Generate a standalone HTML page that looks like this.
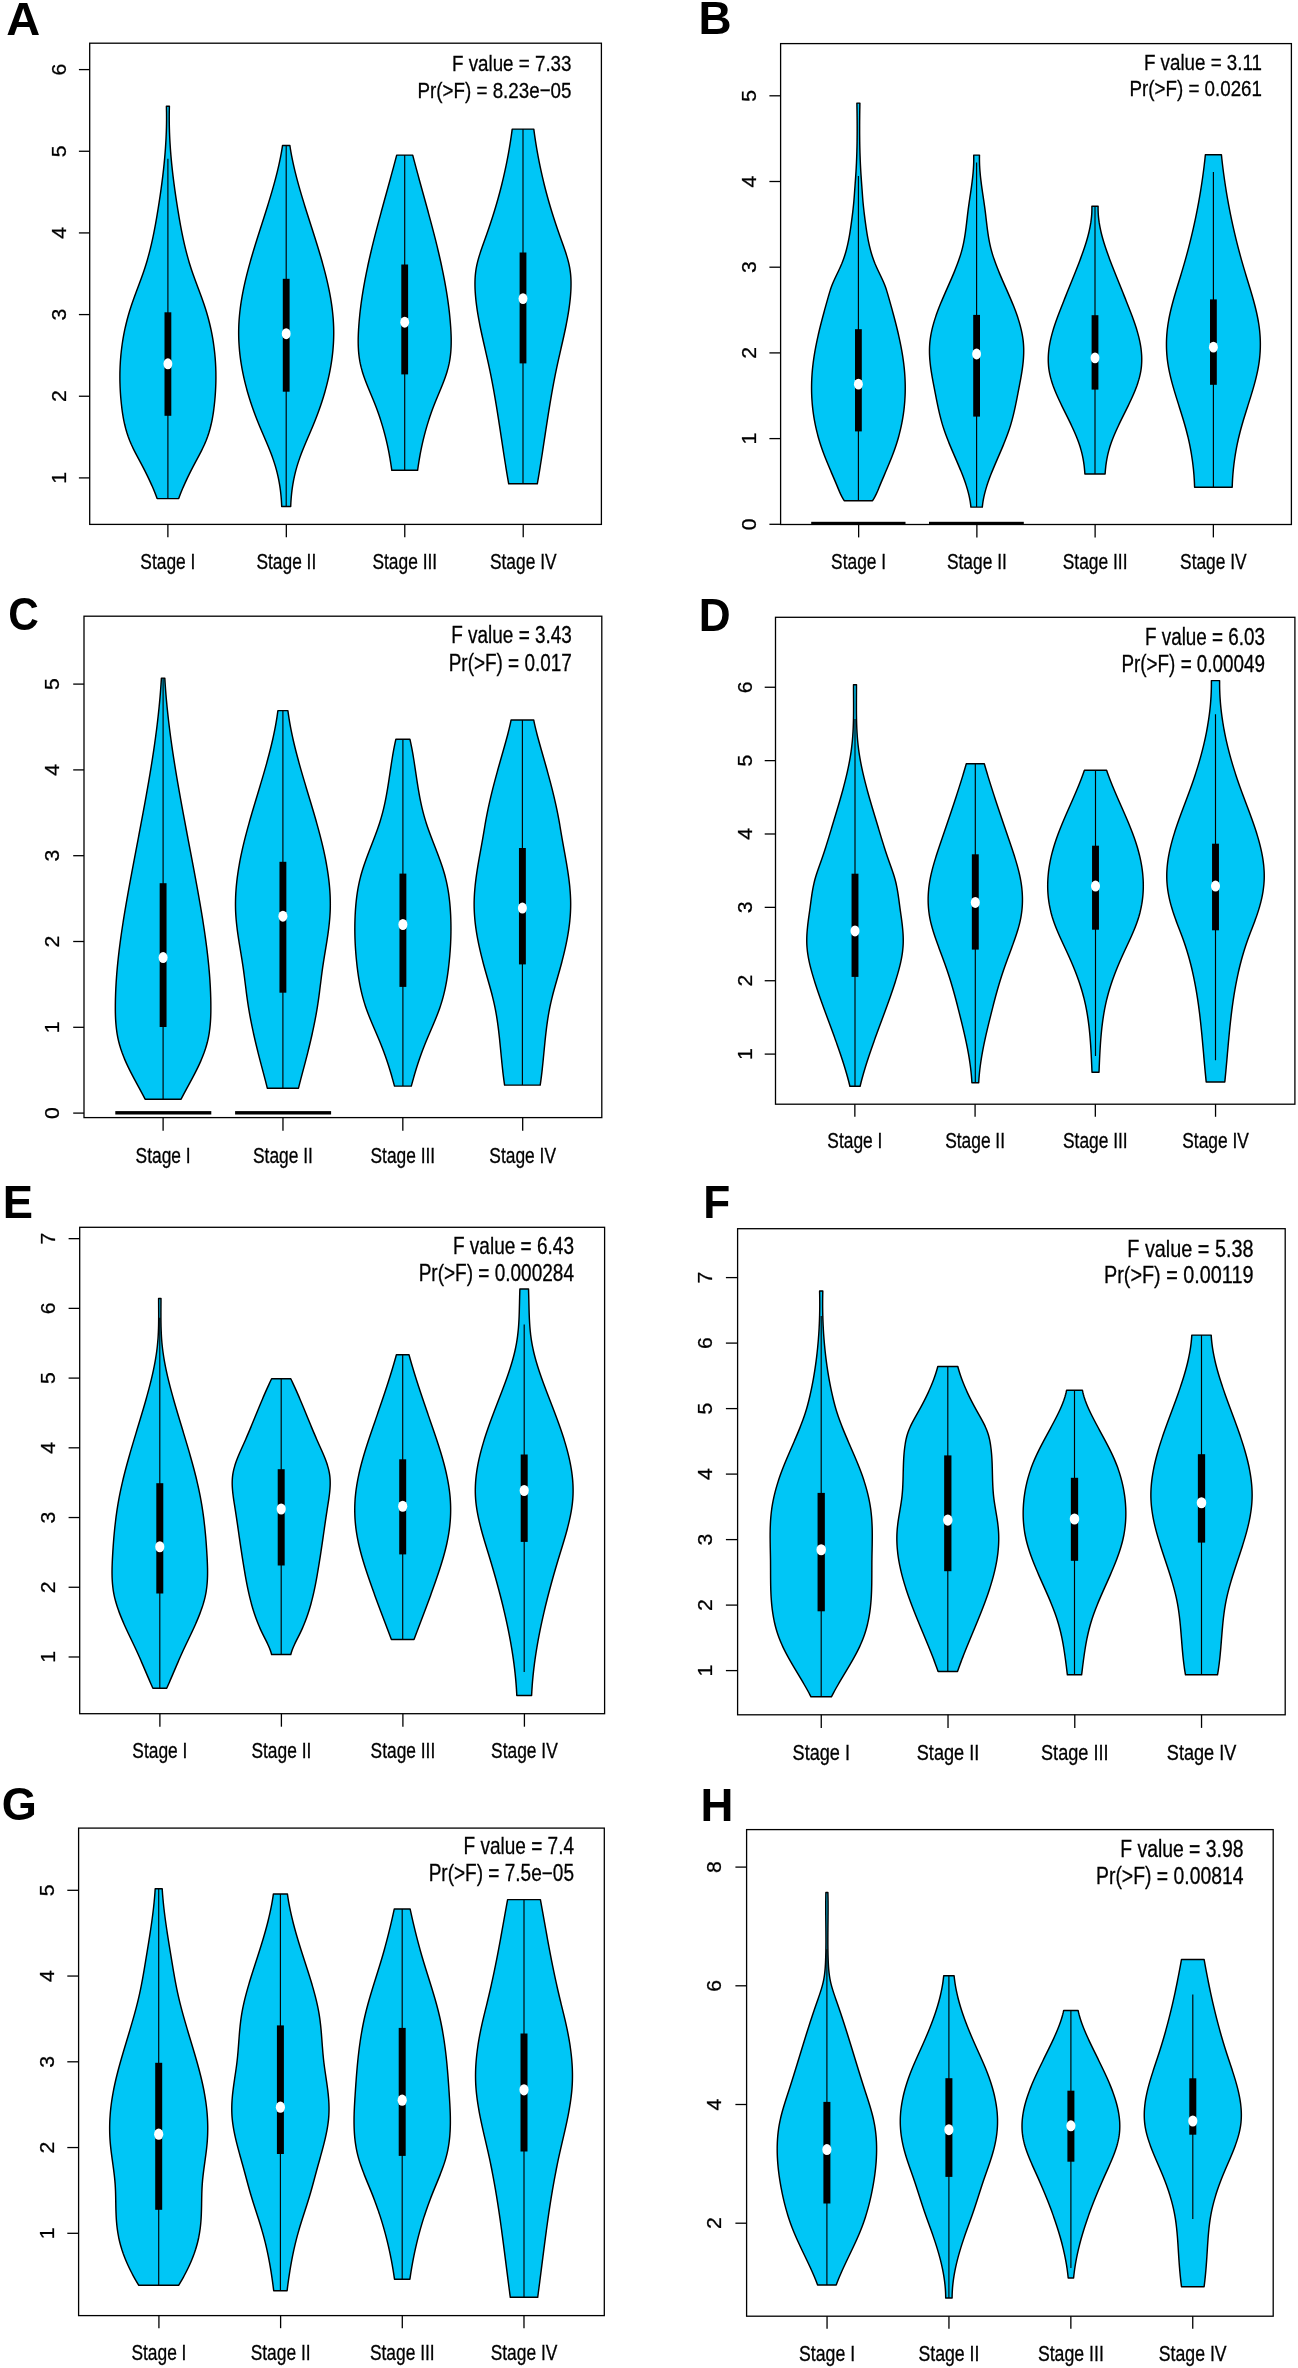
<!DOCTYPE html>
<html><head><meta charset="utf-8"><title>Violin plots</title>
<style>
html,body{margin:0;padding:0;background:#fff;}
body{width:1298px;height:2368px;overflow:hidden;}
svg{display:block;will-change:transform;}
text{font-family:"Liberation Sans", sans-serif;fill:#000;stroke:#000;stroke-width:0.3px;}
</style></head><body>
<svg width="1298" height="2368" viewBox="0 0 1298 2368" font-family='"Liberation Sans", sans-serif'>
<g id="pA">
<path d="M166.40,106.30 L169.40,106.30 L169.35,108.30 L169.31,110.30 L169.27,112.30 L169.25,114.31 L169.24,116.31 L169.24,118.31 L169.24,120.31 L169.26,122.31 L169.29,124.31 L169.33,126.32 L169.38,128.32 L169.44,130.32 L169.50,132.32 L169.58,134.32 L169.67,136.32 L169.76,138.32 L169.86,140.33 L169.98,142.33 L170.10,144.33 L170.23,146.33 L170.36,148.33 L170.51,150.33 L170.66,152.34 L170.82,154.34 L170.99,156.34 L171.17,158.34 L171.35,160.34 L171.54,162.34 L171.74,164.34 L171.95,166.35 L172.16,168.35 L172.38,170.35 L172.60,172.35 L172.84,174.35 L173.07,176.35 L173.32,178.36 L173.57,180.36 L173.83,182.36 L174.09,184.36 L174.36,186.36 L174.63,188.36 L174.91,190.36 L175.19,192.37 L175.48,194.37 L175.77,196.37 L176.07,198.37 L176.37,200.37 L176.68,202.37 L176.99,204.38 L177.31,206.38 L177.62,208.38 L177.95,210.38 L178.28,212.38 L178.61,214.38 L178.94,216.38 L179.28,218.39 L179.63,220.39 L179.98,222.39 L180.34,224.39 L180.71,226.39 L181.09,228.39 L181.47,230.39 L181.87,232.40 L182.27,234.40 L182.68,236.40 L183.10,238.40 L183.54,240.40 L183.99,242.40 L184.44,244.41 L184.92,246.41 L185.40,248.41 L185.90,250.41 L186.41,252.41 L186.94,254.41 L187.49,256.41 L188.04,258.42 L188.62,260.42 L189.21,262.42 L189.83,264.42 L190.46,266.42 L191.10,268.42 L191.77,270.43 L192.45,272.43 L193.15,274.43 L193.87,276.43 L194.59,278.43 L195.32,280.43 L196.06,282.43 L196.81,284.44 L197.55,286.44 L198.30,288.44 L199.05,290.44 L199.79,292.44 L200.53,294.44 L201.27,296.45 L201.99,298.45 L202.70,300.45 L203.40,302.45 L204.09,304.45 L204.75,306.45 L205.40,308.45 L206.03,310.46 L206.64,312.46 L207.22,314.46 L207.79,316.46 L208.34,318.46 L208.86,320.46 L209.37,322.47 L209.85,324.47 L210.32,326.47 L210.77,328.47 L211.20,330.47 L211.60,332.47 L211.99,334.47 L212.36,336.48 L212.71,338.48 L213.04,340.48 L213.36,342.48 L213.65,344.48 L213.93,346.48 L214.18,348.49 L214.42,350.49 L214.64,352.49 L214.85,354.49 L215.03,356.49 L215.20,358.49 L215.35,360.49 L215.48,362.50 L215.59,364.50 L215.69,366.50 L215.77,368.50 L215.83,370.50 L215.88,372.50 L215.90,374.51 L215.91,376.51 L215.91,378.51 L215.89,380.51 L215.85,382.51 L215.79,384.51 L215.72,386.51 L215.63,388.52 L215.53,390.52 L215.41,392.52 L215.28,394.52 L215.13,396.52 L214.96,398.52 L214.78,400.53 L214.58,402.53 L214.37,404.53 L214.14,406.53 L213.90,408.53 L213.63,410.53 L213.35,412.53 L213.04,414.54 L212.71,416.54 L212.36,418.54 L211.97,420.54 L211.55,422.54 L211.11,424.54 L210.62,426.54 L210.11,428.55 L209.55,430.55 L208.96,432.55 L208.32,434.55 L207.64,436.55 L206.91,438.55 L206.14,440.56 L205.31,442.56 L204.44,444.56 L203.51,446.56 L202.55,448.56 L201.55,450.56 L200.52,452.56 L199.47,454.57 L198.41,456.57 L197.34,458.57 L196.26,460.57 L195.19,462.57 L194.13,464.57 L193.08,466.58 L192.05,468.58 L191.02,470.58 L190.02,472.58 L189.03,474.58 L188.05,476.58 L187.10,478.58 L186.16,480.59 L185.24,482.59 L184.34,484.59 L183.46,486.59 L182.61,488.59 L181.78,490.59 L180.97,492.60 L180.19,494.60 L179.43,496.60 L178.70,498.60 L157.10,498.60 L156.37,496.60 L155.61,494.60 L154.83,492.60 L154.02,490.59 L153.19,488.59 L152.34,486.59 L151.46,484.59 L150.56,482.59 L149.64,480.59 L148.70,478.58 L147.75,476.58 L146.77,474.58 L145.78,472.58 L144.78,470.58 L143.75,468.58 L142.72,466.58 L141.67,464.57 L140.61,462.57 L139.54,460.57 L138.46,458.57 L137.39,456.57 L136.33,454.57 L135.28,452.56 L134.25,450.56 L133.25,448.56 L132.29,446.56 L131.36,444.56 L130.49,442.56 L129.66,440.56 L128.89,438.55 L128.16,436.55 L127.48,434.55 L126.84,432.55 L126.25,430.55 L125.69,428.55 L125.18,426.54 L124.69,424.54 L124.25,422.54 L123.83,420.54 L123.44,418.54 L123.09,416.54 L122.76,414.54 L122.45,412.53 L122.17,410.53 L121.90,408.53 L121.66,406.53 L121.43,404.53 L121.22,402.53 L121.02,400.53 L120.84,398.52 L120.67,396.52 L120.52,394.52 L120.39,392.52 L120.27,390.52 L120.17,388.52 L120.08,386.51 L120.01,384.51 L119.95,382.51 L119.91,380.51 L119.89,378.51 L119.89,376.51 L119.90,374.51 L119.92,372.50 L119.97,370.50 L120.03,368.50 L120.11,366.50 L120.21,364.50 L120.32,362.50 L120.45,360.49 L120.60,358.49 L120.77,356.49 L120.95,354.49 L121.16,352.49 L121.38,350.49 L121.62,348.49 L121.87,346.48 L122.15,344.48 L122.44,342.48 L122.76,340.48 L123.09,338.48 L123.44,336.48 L123.81,334.47 L124.20,332.47 L124.60,330.47 L125.03,328.47 L125.48,326.47 L125.95,324.47 L126.43,322.47 L126.94,320.46 L127.46,318.46 L128.01,316.46 L128.58,314.46 L129.16,312.46 L129.77,310.46 L130.40,308.45 L131.05,306.45 L131.71,304.45 L132.40,302.45 L133.10,300.45 L133.81,298.45 L134.53,296.45 L135.27,294.44 L136.01,292.44 L136.75,290.44 L137.50,288.44 L138.25,286.44 L138.99,284.44 L139.74,282.43 L140.48,280.43 L141.21,278.43 L141.93,276.43 L142.65,274.43 L143.35,272.43 L144.03,270.43 L144.70,268.42 L145.34,266.42 L145.97,264.42 L146.59,262.42 L147.18,260.42 L147.76,258.42 L148.31,256.41 L148.86,254.41 L149.39,252.41 L149.90,250.41 L150.40,248.41 L150.88,246.41 L151.36,244.41 L151.81,242.40 L152.26,240.40 L152.70,238.40 L153.12,236.40 L153.53,234.40 L153.93,232.40 L154.33,230.39 L154.71,228.39 L155.09,226.39 L155.46,224.39 L155.82,222.39 L156.17,220.39 L156.52,218.39 L156.86,216.38 L157.19,214.38 L157.52,212.38 L157.85,210.38 L158.18,208.38 L158.49,206.38 L158.81,204.38 L159.12,202.37 L159.43,200.37 L159.73,198.37 L160.03,196.37 L160.32,194.37 L160.61,192.37 L160.89,190.36 L161.17,188.36 L161.44,186.36 L161.71,184.36 L161.97,182.36 L162.23,180.36 L162.48,178.36 L162.73,176.35 L162.96,174.35 L163.20,172.35 L163.42,170.35 L163.64,168.35 L163.85,166.35 L164.06,164.34 L164.26,162.34 L164.45,160.34 L164.63,158.34 L164.81,156.34 L164.98,154.34 L165.14,152.34 L165.29,150.33 L165.44,148.33 L165.57,146.33 L165.70,144.33 L165.82,142.33 L165.94,140.33 L166.04,138.32 L166.13,136.32 L166.22,134.32 L166.30,132.32 L166.36,130.32 L166.42,128.32 L166.47,126.32 L166.51,124.31 L166.54,122.31 L166.56,120.31 L166.56,118.31 L166.56,116.31 L166.55,114.31 L166.53,112.30 L166.49,110.30 L166.45,108.30 L166.40,106.30 Z" fill="#00C6F6" stroke="#000" stroke-width="1.45" stroke-linejoin="round"/>
<line x1="167.90" y1="158.70" x2="167.90" y2="498.60" stroke="#000" stroke-width="1.15"/>
<rect x="164.50" y="312.30" width="6.80" height="103.50" fill="#000"/>
<ellipse cx="167.90" cy="363.80" rx="4.45" ry="5.43" fill="#fff"/>
<path d="M282.50,145.50 L289.90,145.50 L290.19,147.51 L290.52,149.51 L290.86,151.52 L291.22,153.52 L291.59,155.53 L291.98,157.53 L292.39,159.54 L292.81,161.54 L293.24,163.55 L293.68,165.56 L294.14,167.56 L294.61,169.57 L295.09,171.57 L295.59,173.58 L296.10,175.58 L296.61,177.59 L297.14,179.59 L297.68,181.60 L298.22,183.61 L298.78,185.61 L299.34,187.62 L299.91,189.62 L300.49,191.63 L301.08,193.63 L301.67,195.64 L302.27,197.64 L302.88,199.65 L303.49,201.66 L304.10,203.66 L304.72,205.67 L305.35,207.67 L305.98,209.68 L306.61,211.68 L307.24,213.69 L307.88,215.69 L308.52,217.70 L309.16,219.71 L309.80,221.71 L310.44,223.72 L311.08,225.72 L311.73,227.73 L312.37,229.73 L313.01,231.74 L313.65,233.74 L314.28,235.75 L314.92,237.76 L315.55,239.76 L316.17,241.77 L316.80,243.77 L317.42,245.78 L318.03,247.78 L318.64,249.79 L319.24,251.79 L319.84,253.80 L320.43,255.81 L321.02,257.81 L321.59,259.82 L322.16,261.82 L322.72,263.83 L323.28,265.83 L323.82,267.84 L324.35,269.84 L324.88,271.85 L325.39,273.86 L325.89,275.86 L326.38,277.87 L326.86,279.87 L327.33,281.88 L327.78,283.88 L328.22,285.89 L328.65,287.89 L329.06,289.90 L329.46,291.91 L329.85,293.91 L330.21,295.92 L330.57,297.92 L330.90,299.93 L331.22,301.93 L331.53,303.94 L331.81,305.94 L332.08,307.95 L332.33,309.96 L332.56,311.96 L332.77,313.97 L332.96,315.97 L333.13,317.98 L333.29,319.98 L333.41,321.99 L333.52,323.99 L333.61,326.00 L333.67,328.01 L333.71,330.01 L333.73,332.02 L333.73,334.02 L333.70,336.03 L333.66,338.03 L333.59,340.04 L333.50,342.04 L333.39,344.05 L333.25,346.06 L333.10,348.06 L332.93,350.07 L332.73,352.07 L332.52,354.08 L332.28,356.08 L332.03,358.09 L331.75,360.09 L331.46,362.10 L331.14,364.11 L330.81,366.11 L330.46,368.12 L330.09,370.12 L329.70,372.13 L329.29,374.13 L328.86,376.14 L328.42,378.14 L327.95,380.15 L327.47,382.16 L326.98,384.16 L326.46,386.17 L325.93,388.17 L325.38,390.18 L324.81,392.18 L324.22,394.19 L323.62,396.19 L323.01,398.20 L322.37,400.21 L321.73,402.21 L321.06,404.22 L320.38,406.22 L319.68,408.23 L318.97,410.23 L318.25,412.24 L317.51,414.24 L316.75,416.25 L315.98,418.26 L315.19,420.26 L314.39,422.27 L313.58,424.27 L312.76,426.28 L311.92,428.28 L311.07,430.29 L310.22,432.29 L309.36,434.30 L308.50,436.31 L307.64,438.31 L306.79,440.32 L305.93,442.32 L305.09,444.33 L304.26,446.33 L303.44,448.34 L302.63,450.34 L301.84,452.35 L301.07,454.36 L300.32,456.36 L299.60,458.37 L298.90,460.37 L298.24,462.38 L297.60,464.38 L296.99,466.39 L296.42,468.39 L295.87,470.40 L295.35,472.41 L294.87,474.41 L294.41,476.42 L293.98,478.42 L293.58,480.43 L293.21,482.43 L292.86,484.44 L292.54,486.44 L292.25,488.45 L291.98,490.46 L291.73,492.46 L291.52,494.47 L291.32,496.47 L291.15,498.48 L291.01,500.48 L290.88,502.49 L290.78,504.49 L290.70,506.50 L281.70,506.50 L281.62,504.49 L281.52,502.49 L281.39,500.48 L281.25,498.48 L281.08,496.47 L280.88,494.47 L280.67,492.46 L280.42,490.46 L280.15,488.45 L279.86,486.44 L279.54,484.44 L279.19,482.43 L278.82,480.43 L278.42,478.42 L277.99,476.42 L277.53,474.41 L277.05,472.41 L276.53,470.40 L275.98,468.39 L275.41,466.39 L274.80,464.38 L274.16,462.38 L273.50,460.37 L272.80,458.37 L272.08,456.36 L271.33,454.36 L270.56,452.35 L269.77,450.34 L268.96,448.34 L268.14,446.33 L267.31,444.33 L266.47,442.32 L265.61,440.32 L264.76,438.31 L263.90,436.31 L263.04,434.30 L262.18,432.29 L261.33,430.29 L260.48,428.28 L259.64,426.28 L258.82,424.27 L258.01,422.27 L257.21,420.26 L256.42,418.26 L255.65,416.25 L254.89,414.24 L254.15,412.24 L253.43,410.23 L252.72,408.23 L252.02,406.22 L251.34,404.22 L250.67,402.21 L250.03,400.21 L249.39,398.20 L248.78,396.19 L248.18,394.19 L247.59,392.18 L247.02,390.18 L246.47,388.17 L245.94,386.17 L245.42,384.16 L244.93,382.16 L244.45,380.15 L243.98,378.14 L243.54,376.14 L243.11,374.13 L242.70,372.13 L242.31,370.12 L241.94,368.12 L241.59,366.11 L241.26,364.11 L240.94,362.10 L240.65,360.09 L240.37,358.09 L240.12,356.08 L239.88,354.08 L239.67,352.07 L239.47,350.07 L239.30,348.06 L239.15,346.06 L239.01,344.05 L238.90,342.04 L238.81,340.04 L238.74,338.03 L238.70,336.03 L238.67,334.02 L238.67,332.02 L238.69,330.01 L238.73,328.01 L238.79,326.00 L238.88,323.99 L238.99,321.99 L239.11,319.98 L239.27,317.98 L239.44,315.97 L239.63,313.97 L239.84,311.96 L240.07,309.96 L240.32,307.95 L240.59,305.94 L240.87,303.94 L241.18,301.93 L241.50,299.93 L241.83,297.92 L242.19,295.92 L242.55,293.91 L242.94,291.91 L243.34,289.90 L243.75,287.89 L244.18,285.89 L244.62,283.88 L245.07,281.88 L245.54,279.87 L246.02,277.87 L246.51,275.86 L247.01,273.86 L247.52,271.85 L248.05,269.84 L248.58,267.84 L249.12,265.83 L249.68,263.83 L250.24,261.82 L250.81,259.82 L251.38,257.81 L251.97,255.81 L252.56,253.80 L253.16,251.79 L253.76,249.79 L254.37,247.78 L254.98,245.78 L255.60,243.77 L256.23,241.77 L256.85,239.76 L257.48,237.76 L258.12,235.75 L258.75,233.74 L259.39,231.74 L260.03,229.73 L260.67,227.73 L261.32,225.72 L261.96,223.72 L262.60,221.71 L263.24,219.71 L263.88,217.70 L264.52,215.69 L265.16,213.69 L265.79,211.68 L266.42,209.68 L267.05,207.67 L267.68,205.67 L268.30,203.66 L268.91,201.66 L269.52,199.65 L270.13,197.64 L270.73,195.64 L271.32,193.63 L271.91,191.63 L272.49,189.62 L273.06,187.62 L273.62,185.61 L274.18,183.61 L274.72,181.60 L275.26,179.59 L275.79,177.59 L276.30,175.58 L276.81,173.58 L277.31,171.57 L277.79,169.57 L278.26,167.56 L278.72,165.56 L279.16,163.55 L279.59,161.54 L280.01,159.54 L280.42,157.53 L280.81,155.53 L281.18,153.52 L281.54,151.52 L281.88,149.51 L282.21,147.51 L282.50,145.50 Z" fill="#00C6F6" stroke="#000" stroke-width="1.45" stroke-linejoin="round"/>
<line x1="286.20" y1="145.50" x2="286.20" y2="506.50" stroke="#000" stroke-width="1.15"/>
<rect x="282.80" y="278.80" width="6.80" height="112.90" fill="#000"/>
<ellipse cx="286.20" cy="333.70" rx="4.45" ry="5.43" fill="#fff"/>
<path d="M396.70,155.10 L412.70,155.10 L413.23,157.11 L413.76,159.12 L414.29,161.12 L414.82,163.13 L415.36,165.14 L415.89,167.15 L416.43,169.15 L416.98,171.16 L417.52,173.17 L418.07,175.18 L418.61,177.18 L419.16,179.19 L419.71,181.20 L420.27,183.21 L420.82,185.21 L421.37,187.22 L421.93,189.23 L422.48,191.24 L423.03,193.25 L423.59,195.25 L424.14,197.26 L424.70,199.27 L425.25,201.28 L425.80,203.28 L426.35,205.29 L426.90,207.30 L427.45,209.31 L428.00,211.31 L428.54,213.32 L429.09,215.33 L429.63,217.34 L430.17,219.34 L430.71,221.35 L431.24,223.36 L431.77,225.37 L432.30,227.38 L432.82,229.38 L433.35,231.39 L433.86,233.40 L434.38,235.41 L434.89,237.41 L435.40,239.42 L435.90,241.43 L436.39,243.44 L436.89,245.44 L437.38,247.45 L437.86,249.46 L438.34,251.47 L438.81,253.47 L439.27,255.48 L439.73,257.49 L440.19,259.50 L440.64,261.51 L441.08,263.51 L441.51,265.52 L441.94,267.53 L442.36,269.54 L442.78,271.54 L443.19,273.55 L443.58,275.56 L443.98,277.57 L444.36,279.57 L444.74,281.58 L445.10,283.59 L445.46,285.60 L445.81,287.60 L446.16,289.61 L446.49,291.62 L446.81,293.63 L447.13,295.64 L447.43,297.64 L447.73,299.65 L448.01,301.66 L448.28,303.67 L448.55,305.67 L448.80,307.68 L449.05,309.69 L449.28,311.70 L449.50,313.70 L449.71,315.71 L449.91,317.72 L450.09,319.73 L450.27,321.73 L450.43,323.74 L450.58,325.75 L450.72,327.76 L450.85,329.76 L450.96,331.77 L451.05,333.78 L451.12,335.79 L451.18,337.80 L451.21,339.80 L451.21,341.81 L451.19,343.82 L451.14,345.83 L451.05,347.83 L450.94,349.84 L450.79,351.85 L450.60,353.86 L450.38,355.86 L450.11,357.87 L449.80,359.88 L449.45,361.89 L449.05,363.89 L448.60,365.90 L448.11,367.91 L447.56,369.92 L446.97,371.93 L446.34,373.93 L445.67,375.94 L444.97,377.95 L444.24,379.96 L443.48,381.96 L442.71,383.97 L441.91,385.98 L441.10,387.99 L440.27,389.99 L439.44,392.00 L438.61,394.01 L437.77,396.02 L436.94,398.02 L436.11,400.03 L435.30,402.04 L434.50,404.05 L433.72,406.06 L432.95,408.06 L432.21,410.07 L431.48,412.08 L430.78,414.09 L430.09,416.09 L429.42,418.10 L428.76,420.11 L428.13,422.12 L427.51,424.12 L426.91,426.13 L426.33,428.14 L425.76,430.15 L425.21,432.15 L424.68,434.16 L424.16,436.17 L423.66,438.18 L423.17,440.19 L422.70,442.19 L422.24,444.20 L421.80,446.21 L421.38,448.22 L420.97,450.22 L420.57,452.23 L420.19,454.24 L419.82,456.25 L419.46,458.25 L419.12,460.26 L418.79,462.27 L418.48,464.28 L418.17,466.28 L417.88,468.29 L417.60,470.30 L391.80,470.30 L391.52,468.29 L391.23,466.28 L390.92,464.28 L390.61,462.27 L390.28,460.26 L389.94,458.25 L389.58,456.25 L389.21,454.24 L388.83,452.23 L388.43,450.22 L388.02,448.22 L387.60,446.21 L387.16,444.20 L386.70,442.19 L386.23,440.19 L385.74,438.18 L385.24,436.17 L384.72,434.16 L384.19,432.15 L383.64,430.15 L383.07,428.14 L382.49,426.13 L381.89,424.12 L381.27,422.12 L380.64,420.11 L379.98,418.10 L379.31,416.09 L378.62,414.09 L377.92,412.08 L377.19,410.07 L376.45,408.06 L375.68,406.06 L374.90,404.05 L374.10,402.04 L373.29,400.03 L372.46,398.02 L371.63,396.02 L370.79,394.01 L369.96,392.00 L369.13,389.99 L368.30,387.99 L367.49,385.98 L366.69,383.97 L365.92,381.96 L365.16,379.96 L364.43,377.95 L363.73,375.94 L363.06,373.93 L362.43,371.93 L361.84,369.92 L361.29,367.91 L360.80,365.90 L360.35,363.89 L359.95,361.89 L359.60,359.88 L359.29,357.87 L359.02,355.86 L358.80,353.86 L358.61,351.85 L358.46,349.84 L358.35,347.83 L358.26,345.83 L358.21,343.82 L358.19,341.81 L358.19,339.80 L358.22,337.80 L358.28,335.79 L358.35,333.78 L358.44,331.77 L358.55,329.76 L358.68,327.76 L358.82,325.75 L358.97,323.74 L359.13,321.73 L359.31,319.73 L359.49,317.72 L359.69,315.71 L359.90,313.70 L360.12,311.70 L360.35,309.69 L360.60,307.68 L360.85,305.67 L361.12,303.67 L361.39,301.66 L361.67,299.65 L361.97,297.64 L362.27,295.64 L362.59,293.63 L362.91,291.62 L363.24,289.61 L363.59,287.60 L363.94,285.60 L364.30,283.59 L364.66,281.58 L365.04,279.57 L365.42,277.57 L365.82,275.56 L366.21,273.55 L366.62,271.54 L367.04,269.54 L367.46,267.53 L367.89,265.52 L368.32,263.51 L368.76,261.51 L369.21,259.50 L369.67,257.49 L370.13,255.48 L370.59,253.47 L371.06,251.47 L371.54,249.46 L372.02,247.45 L372.51,245.44 L373.01,243.44 L373.50,241.43 L374.00,239.42 L374.51,237.41 L375.02,235.41 L375.54,233.40 L376.05,231.39 L376.58,229.38 L377.10,227.38 L377.63,225.37 L378.16,223.36 L378.69,221.35 L379.23,219.34 L379.77,217.34 L380.31,215.33 L380.86,213.32 L381.40,211.31 L381.95,209.31 L382.50,207.30 L383.05,205.29 L383.60,203.28 L384.15,201.28 L384.70,199.27 L385.26,197.26 L385.81,195.25 L386.37,193.25 L386.92,191.24 L387.47,189.23 L388.03,187.22 L388.58,185.21 L389.13,183.21 L389.69,181.20 L390.24,179.19 L390.79,177.18 L391.33,175.18 L391.88,173.17 L392.42,171.16 L392.97,169.15 L393.51,167.15 L394.04,165.14 L394.58,163.13 L395.11,161.12 L395.64,159.12 L396.17,157.11 L396.70,155.10 Z" fill="#00C6F6" stroke="#000" stroke-width="1.45" stroke-linejoin="round"/>
<line x1="404.70" y1="155.10" x2="404.70" y2="470.30" stroke="#000" stroke-width="1.15"/>
<rect x="401.30" y="264.50" width="6.80" height="109.90" fill="#000"/>
<ellipse cx="404.70" cy="322.20" rx="4.45" ry="5.43" fill="#fff"/>
<path d="M512.20,129.10 L533.80,129.10 L534.06,131.10 L534.33,133.11 L534.61,135.11 L534.90,137.12 L535.20,139.12 L535.50,141.12 L535.82,143.13 L536.14,145.13 L536.47,147.14 L536.81,149.14 L537.16,151.14 L537.52,153.15 L537.88,155.15 L538.26,157.16 L538.64,159.16 L539.03,161.16 L539.43,163.17 L539.84,165.17 L540.26,167.18 L540.69,169.18 L541.12,171.18 L541.57,173.19 L542.02,175.19 L542.48,177.19 L542.95,179.20 L543.43,181.20 L543.92,183.21 L544.41,185.21 L544.92,187.21 L545.43,189.22 L545.95,191.22 L546.49,193.23 L547.03,195.23 L547.57,197.23 L548.13,199.24 L548.70,201.24 L549.27,203.25 L549.86,205.25 L550.45,207.25 L551.05,209.26 L551.66,211.26 L552.28,213.27 L552.91,215.27 L553.55,217.27 L554.19,219.28 L554.85,221.28 L555.51,223.29 L556.17,225.29 L556.85,227.29 L557.53,229.30 L558.22,231.30 L558.92,233.31 L559.62,235.31 L560.33,237.31 L561.04,239.32 L561.76,241.32 L562.48,243.33 L563.20,245.33 L563.90,247.33 L564.60,249.34 L565.28,251.34 L565.94,253.35 L566.58,255.35 L567.19,257.35 L567.76,259.36 L568.29,261.36 L568.79,263.36 L569.23,265.37 L569.63,267.37 L569.97,269.38 L570.26,271.38 L570.50,273.38 L570.69,275.39 L570.84,277.39 L570.94,279.40 L571.01,281.40 L571.03,283.40 L571.02,285.41 L570.98,287.41 L570.91,289.42 L570.81,291.42 L570.68,293.42 L570.53,295.43 L570.36,297.43 L570.16,299.44 L569.95,301.44 L569.71,303.44 L569.46,305.45 L569.18,307.45 L568.90,309.46 L568.59,311.46 L568.27,313.46 L567.93,315.47 L567.58,317.47 L567.22,319.48 L566.84,321.48 L566.46,323.48 L566.06,325.49 L565.65,327.49 L565.24,329.50 L564.81,331.50 L564.38,333.50 L563.94,335.51 L563.50,337.51 L563.05,339.52 L562.60,341.52 L562.14,343.52 L561.68,345.53 L561.22,347.53 L560.76,349.54 L560.30,351.54 L559.85,353.54 L559.39,355.55 L558.93,357.55 L558.48,359.55 L558.04,361.56 L557.59,363.56 L557.16,365.57 L556.73,367.57 L556.31,369.57 L555.89,371.58 L555.48,373.58 L555.08,375.59 L554.69,377.59 L554.30,379.59 L553.91,381.60 L553.53,383.60 L553.16,385.61 L552.79,387.61 L552.43,389.61 L552.07,391.62 L551.71,393.62 L551.37,395.63 L551.02,397.63 L550.68,399.63 L550.34,401.64 L550.01,403.64 L549.68,405.65 L549.35,407.65 L549.02,409.65 L548.70,411.66 L548.38,413.66 L548.07,415.67 L547.75,417.67 L547.44,419.67 L547.13,421.68 L546.82,423.68 L546.51,425.69 L546.20,427.69 L545.90,429.69 L545.59,431.70 L545.29,433.70 L544.99,435.71 L544.68,437.71 L544.38,439.71 L544.07,441.72 L543.77,443.72 L543.47,445.72 L543.16,447.73 L542.85,449.73 L542.55,451.74 L542.24,453.74 L541.93,455.74 L541.61,457.75 L541.30,459.75 L540.98,461.76 L540.66,463.76 L540.34,465.76 L540.02,467.77 L539.69,469.77 L539.36,471.78 L539.03,473.78 L538.69,475.78 L538.35,477.79 L538.00,479.79 L537.65,481.80 L537.30,483.80 L508.70,483.80 L508.35,481.80 L508.00,479.79 L507.65,477.79 L507.31,475.78 L506.97,473.78 L506.64,471.78 L506.31,469.77 L505.98,467.77 L505.66,465.76 L505.34,463.76 L505.02,461.76 L504.70,459.75 L504.39,457.75 L504.07,455.74 L503.76,453.74 L503.45,451.74 L503.15,449.73 L502.84,447.73 L502.53,445.72 L502.23,443.72 L501.93,441.72 L501.62,439.71 L501.32,437.71 L501.01,435.71 L500.71,433.70 L500.41,431.70 L500.10,429.69 L499.80,427.69 L499.49,425.69 L499.18,423.68 L498.87,421.68 L498.56,419.67 L498.25,417.67 L497.93,415.67 L497.62,413.66 L497.30,411.66 L496.98,409.65 L496.65,407.65 L496.32,405.65 L495.99,403.64 L495.66,401.64 L495.32,399.63 L494.98,397.63 L494.63,395.63 L494.29,393.62 L493.93,391.62 L493.57,389.61 L493.21,387.61 L492.84,385.61 L492.47,383.60 L492.09,381.60 L491.70,379.59 L491.31,377.59 L490.92,375.59 L490.52,373.58 L490.11,371.58 L489.69,369.57 L489.27,367.57 L488.84,365.57 L488.41,363.56 L487.96,361.56 L487.52,359.55 L487.07,357.55 L486.61,355.55 L486.15,353.54 L485.70,351.54 L485.24,349.54 L484.78,347.53 L484.32,345.53 L483.86,343.52 L483.40,341.52 L482.95,339.52 L482.50,337.51 L482.06,335.51 L481.62,333.50 L481.19,331.50 L480.76,329.50 L480.35,327.49 L479.94,325.49 L479.54,323.48 L479.16,321.48 L478.78,319.48 L478.42,317.47 L478.07,315.47 L477.73,313.46 L477.41,311.46 L477.10,309.46 L476.82,307.45 L476.54,305.45 L476.29,303.44 L476.05,301.44 L475.84,299.44 L475.64,297.43 L475.47,295.43 L475.32,293.42 L475.19,291.42 L475.09,289.42 L475.02,287.41 L474.98,285.41 L474.97,283.40 L474.99,281.40 L475.06,279.40 L475.16,277.39 L475.31,275.39 L475.50,273.38 L475.74,271.38 L476.03,269.38 L476.37,267.37 L476.77,265.37 L477.21,263.36 L477.71,261.36 L478.24,259.36 L478.81,257.35 L479.42,255.35 L480.06,253.35 L480.72,251.34 L481.40,249.34 L482.10,247.33 L482.80,245.33 L483.52,243.33 L484.24,241.32 L484.96,239.32 L485.67,237.31 L486.38,235.31 L487.08,233.31 L487.78,231.30 L488.47,229.30 L489.15,227.29 L489.83,225.29 L490.49,223.29 L491.15,221.28 L491.81,219.28 L492.45,217.27 L493.09,215.27 L493.72,213.27 L494.34,211.26 L494.95,209.26 L495.55,207.25 L496.14,205.25 L496.73,203.25 L497.30,201.24 L497.87,199.24 L498.43,197.23 L498.97,195.23 L499.51,193.23 L500.05,191.22 L500.57,189.22 L501.08,187.21 L501.59,185.21 L502.08,183.21 L502.57,181.20 L503.05,179.20 L503.52,177.19 L503.98,175.19 L504.43,173.19 L504.88,171.18 L505.31,169.18 L505.74,167.18 L506.16,165.17 L506.57,163.17 L506.97,161.16 L507.36,159.16 L507.74,157.16 L508.12,155.15 L508.48,153.15 L508.84,151.14 L509.19,149.14 L509.53,147.14 L509.86,145.13 L510.18,143.13 L510.50,141.12 L510.80,139.12 L511.10,137.12 L511.39,135.11 L511.67,133.11 L511.94,131.10 L512.20,129.10 Z" fill="#00C6F6" stroke="#000" stroke-width="1.45" stroke-linejoin="round"/>
<line x1="523.00" y1="129.10" x2="523.00" y2="483.80" stroke="#000" stroke-width="1.15"/>
<rect x="519.60" y="252.50" width="6.80" height="110.90" fill="#000"/>
<ellipse cx="523.00" cy="298.60" rx="4.45" ry="5.43" fill="#fff"/>
<rect x="89.70" y="43.20" width="511.70" height="481.20" fill="none" stroke="#000" stroke-width="1.30"/>
<line x1="78.90" y1="477.90" x2="89.70" y2="477.90" stroke="#000" stroke-width="1.30"/>
<text transform="translate(65.80,477.90) scale(0.910,1) rotate(-90)" font-size="21.20" text-anchor="middle" font-weight="normal">1</text>
<line x1="78.90" y1="396.24" x2="89.70" y2="396.24" stroke="#000" stroke-width="1.30"/>
<text transform="translate(65.80,396.24) scale(0.910,1) rotate(-90)" font-size="21.20" text-anchor="middle" font-weight="normal">2</text>
<line x1="78.90" y1="314.58" x2="89.70" y2="314.58" stroke="#000" stroke-width="1.30"/>
<text transform="translate(65.80,314.58) scale(0.910,1) rotate(-90)" font-size="21.20" text-anchor="middle" font-weight="normal">3</text>
<line x1="78.90" y1="232.92" x2="89.70" y2="232.92" stroke="#000" stroke-width="1.30"/>
<text transform="translate(65.80,232.92) scale(0.910,1) rotate(-90)" font-size="21.20" text-anchor="middle" font-weight="normal">4</text>
<line x1="78.90" y1="151.26" x2="89.70" y2="151.26" stroke="#000" stroke-width="1.30"/>
<text transform="translate(65.80,151.26) scale(0.910,1) rotate(-90)" font-size="21.20" text-anchor="middle" font-weight="normal">5</text>
<line x1="78.90" y1="69.60" x2="89.70" y2="69.60" stroke="#000" stroke-width="1.30"/>
<text transform="translate(65.80,69.60) scale(0.910,1) rotate(-90)" font-size="21.20" text-anchor="middle" font-weight="normal">6</text>
<line x1="167.88" y1="524.40" x2="167.88" y2="537.20" stroke="#000" stroke-width="1.30"/>
<text transform="translate(167.88,568.50) scale(0.820,1)" font-size="21.20" text-anchor="middle" font-weight="normal">Stage I</text>
<line x1="286.33" y1="524.40" x2="286.33" y2="537.20" stroke="#000" stroke-width="1.30"/>
<text transform="translate(286.33,568.50) scale(0.820,1)" font-size="21.20" text-anchor="middle" font-weight="normal">Stage II</text>
<line x1="404.77" y1="524.40" x2="404.77" y2="537.20" stroke="#000" stroke-width="1.30"/>
<text transform="translate(404.77,568.50) scale(0.820,1)" font-size="21.20" text-anchor="middle" font-weight="normal">Stage III</text>
<line x1="523.22" y1="524.40" x2="523.22" y2="537.20" stroke="#000" stroke-width="1.30"/>
<text transform="translate(523.22,568.50) scale(0.820,1)" font-size="21.20" text-anchor="middle" font-weight="normal">Stage IV</text>
<text transform="translate(571.50,71.20) scale(0.820,1)" font-size="22.90" text-anchor="end" font-weight="normal">F value = 7.33</text>
<text transform="translate(571.50,98.10) scale(0.820,1)" font-size="22.90" text-anchor="end" font-weight="normal">Pr(&gt;F) = 8.23e−05</text>
<text transform="translate(6.20,34.70) scale(1.000,1)" font-size="47.00" font-weight="bold" style="stroke:none">A</text>
</g>
<g id="pB">
<path d="M856.90,103.10 L859.90,103.10 L859.86,105.11 L859.83,107.12 L859.79,109.12 L859.76,111.13 L859.73,113.14 L859.71,115.15 L859.69,117.16 L859.67,119.16 L859.65,121.17 L859.64,123.18 L859.63,125.19 L859.63,127.20 L859.63,129.21 L859.63,131.21 L859.64,133.22 L859.65,135.23 L859.67,137.24 L859.69,139.25 L859.71,141.25 L859.74,143.26 L859.78,145.27 L859.82,147.28 L859.87,149.29 L859.92,151.29 L859.98,153.30 L860.05,155.31 L860.12,157.32 L860.19,159.33 L860.28,161.33 L860.36,163.34 L860.46,165.35 L860.56,167.36 L860.67,169.37 L860.79,171.37 L860.91,173.38 L861.04,175.39 L861.18,177.40 L861.32,179.41 L861.46,181.42 L861.61,183.42 L861.76,185.43 L861.90,187.44 L862.05,189.45 L862.20,191.46 L862.34,193.46 L862.48,195.47 L862.63,197.48 L862.79,199.49 L862.96,201.50 L863.15,203.50 L863.35,205.51 L863.56,207.52 L863.78,209.53 L864.01,211.54 L864.25,213.54 L864.50,215.55 L864.75,217.56 L865.01,219.57 L865.28,221.58 L865.55,223.58 L865.83,225.59 L866.11,227.60 L866.41,229.61 L866.71,231.62 L867.03,233.63 L867.37,235.63 L867.73,237.64 L868.11,239.65 L868.51,241.66 L868.94,243.67 L869.39,245.67 L869.88,247.68 L870.39,249.69 L870.94,251.70 L871.53,253.71 L872.15,255.71 L872.82,257.72 L873.52,259.73 L874.27,261.74 L875.07,263.75 L875.92,265.75 L876.81,267.76 L877.73,269.77 L878.68,271.78 L879.64,273.79 L880.60,275.79 L881.55,277.80 L882.47,279.81 L883.37,281.82 L884.22,283.83 L885.02,285.84 L885.75,287.84 L886.43,289.85 L887.06,291.86 L887.66,293.87 L888.24,295.88 L888.81,297.88 L889.38,299.89 L889.94,301.90 L890.51,303.91 L891.07,305.92 L891.63,307.92 L892.18,309.93 L892.73,311.94 L893.28,313.95 L893.82,315.96 L894.35,317.96 L894.88,319.97 L895.40,321.98 L895.91,323.99 L896.42,326.00 L896.91,328.01 L897.40,330.01 L897.88,332.02 L898.35,334.03 L898.80,336.04 L899.25,338.05 L899.68,340.05 L900.10,342.06 L900.51,344.07 L900.91,346.08 L901.29,348.09 L901.66,350.09 L902.01,352.10 L902.35,354.11 L902.67,356.12 L902.97,358.13 L903.26,360.13 L903.53,362.14 L903.78,364.15 L904.01,366.16 L904.23,368.17 L904.42,370.17 L904.59,372.18 L904.75,374.19 L904.88,376.20 L904.99,378.21 L905.08,380.22 L905.15,382.22 L905.20,384.23 L905.23,386.24 L905.24,388.25 L905.22,390.26 L905.19,392.26 L905.13,394.27 L905.05,396.28 L904.95,398.29 L904.82,400.30 L904.68,402.30 L904.51,404.31 L904.32,406.32 L904.10,408.33 L903.87,410.34 L903.61,412.34 L903.33,414.35 L903.02,416.36 L902.70,418.37 L902.35,420.38 L901.97,422.38 L901.58,424.39 L901.16,426.40 L900.71,428.41 L900.24,430.42 L899.75,432.43 L899.24,434.43 L898.70,436.44 L898.14,438.45 L897.55,440.46 L896.94,442.47 L896.30,444.47 L895.64,446.48 L894.95,448.49 L894.24,450.50 L893.51,452.51 L892.76,454.51 L891.99,456.52 L891.20,458.53 L890.39,460.54 L889.57,462.55 L888.74,464.55 L887.90,466.56 L887.06,468.57 L886.20,470.58 L885.35,472.59 L884.49,474.59 L883.63,476.60 L882.77,478.61 L881.92,480.62 L881.07,482.63 L880.23,484.64 L879.40,486.64 L878.58,488.65 L877.74,490.66 L876.88,492.67 L875.96,494.68 L874.95,496.68 L873.84,498.69 L872.60,500.70 L844.20,500.70 L842.96,498.69 L841.85,496.68 L840.84,494.68 L839.92,492.67 L839.06,490.66 L838.22,488.65 L837.40,486.64 L836.57,484.64 L835.73,482.63 L834.88,480.62 L834.03,478.61 L833.17,476.60 L832.31,474.59 L831.45,472.59 L830.60,470.58 L829.74,468.57 L828.90,466.56 L828.06,464.55 L827.23,462.55 L826.41,460.54 L825.60,458.53 L824.81,456.52 L824.04,454.51 L823.29,452.51 L822.56,450.50 L821.85,448.49 L821.16,446.48 L820.50,444.47 L819.86,442.47 L819.25,440.46 L818.66,438.45 L818.10,436.44 L817.56,434.43 L817.05,432.43 L816.56,430.42 L816.09,428.41 L815.64,426.40 L815.22,424.39 L814.83,422.38 L814.45,420.38 L814.10,418.37 L813.78,416.36 L813.47,414.35 L813.19,412.34 L812.93,410.34 L812.70,408.33 L812.48,406.32 L812.29,404.31 L812.12,402.30 L811.98,400.30 L811.85,398.29 L811.75,396.28 L811.67,394.27 L811.61,392.26 L811.58,390.26 L811.56,388.25 L811.57,386.24 L811.60,384.23 L811.65,382.22 L811.72,380.22 L811.81,378.21 L811.92,376.20 L812.05,374.19 L812.21,372.18 L812.38,370.17 L812.57,368.17 L812.79,366.16 L813.02,364.15 L813.27,362.14 L813.54,360.13 L813.83,358.13 L814.13,356.12 L814.45,354.11 L814.79,352.10 L815.14,350.09 L815.51,348.09 L815.89,346.08 L816.29,344.07 L816.70,342.06 L817.12,340.05 L817.55,338.05 L818.00,336.04 L818.45,334.03 L818.92,332.02 L819.40,330.01 L819.89,328.01 L820.38,326.00 L820.89,323.99 L821.40,321.98 L821.92,319.97 L822.45,317.96 L822.98,315.96 L823.52,313.95 L824.07,311.94 L824.62,309.93 L825.17,307.92 L825.73,305.92 L826.29,303.91 L826.86,301.90 L827.42,299.89 L827.99,297.88 L828.56,295.88 L829.14,293.87 L829.74,291.86 L830.37,289.85 L831.05,287.84 L831.78,285.84 L832.58,283.83 L833.43,281.82 L834.33,279.81 L835.25,277.80 L836.20,275.79 L837.16,273.79 L838.12,271.78 L839.07,269.77 L839.99,267.76 L840.88,265.75 L841.73,263.75 L842.53,261.74 L843.28,259.73 L843.98,257.72 L844.65,255.71 L845.27,253.71 L845.86,251.70 L846.41,249.69 L846.92,247.68 L847.41,245.67 L847.86,243.67 L848.29,241.66 L848.69,239.65 L849.07,237.64 L849.43,235.63 L849.77,233.63 L850.09,231.62 L850.39,229.61 L850.69,227.60 L850.97,225.59 L851.25,223.58 L851.52,221.58 L851.79,219.57 L852.05,217.56 L852.30,215.55 L852.55,213.54 L852.79,211.54 L853.02,209.53 L853.24,207.52 L853.45,205.51 L853.65,203.50 L853.84,201.50 L854.01,199.49 L854.17,197.48 L854.32,195.47 L854.46,193.46 L854.60,191.46 L854.75,189.45 L854.90,187.44 L855.04,185.43 L855.19,183.42 L855.34,181.42 L855.48,179.41 L855.62,177.40 L855.76,175.39 L855.89,173.38 L856.01,171.37 L856.13,169.37 L856.24,167.36 L856.34,165.35 L856.44,163.34 L856.52,161.33 L856.61,159.33 L856.68,157.32 L856.75,155.31 L856.82,153.30 L856.88,151.29 L856.93,149.29 L856.98,147.28 L857.02,145.27 L857.06,143.26 L857.09,141.25 L857.11,139.25 L857.13,137.24 L857.15,135.23 L857.16,133.22 L857.17,131.21 L857.17,129.21 L857.17,127.20 L857.17,125.19 L857.16,123.18 L857.15,121.17 L857.13,119.16 L857.11,117.16 L857.09,115.15 L857.07,113.14 L857.04,111.13 L857.01,109.12 L856.97,107.12 L856.94,105.11 L856.90,103.10 Z" fill="#00C6F6" stroke="#000" stroke-width="1.45" stroke-linejoin="round"/>
<line x1="858.40" y1="175.90" x2="858.40" y2="500.70" stroke="#000" stroke-width="1.15"/>
<rect x="855.01" y="329.20" width="6.79" height="102.20" fill="#000"/>
<ellipse cx="858.40" cy="384.20" rx="4.45" ry="5.42" fill="#fff"/>
<path d="M973.70,155.10 L979.50,155.10 L979.45,157.10 L979.44,159.10 L979.46,161.10 L979.51,163.10 L979.58,165.10 L979.69,167.10 L979.81,169.10 L979.96,171.10 L980.13,173.10 L980.32,175.10 L980.53,177.10 L980.76,179.10 L981.00,181.10 L981.25,183.10 L981.51,185.10 L981.78,187.10 L982.07,189.10 L982.35,191.10 L982.64,193.10 L982.94,195.10 L983.24,197.10 L983.53,199.10 L983.83,201.10 L984.12,203.10 L984.40,205.10 L984.68,207.10 L984.95,209.10 L985.21,211.10 L985.46,213.10 L985.70,215.10 L985.93,217.10 L986.16,219.10 L986.40,221.10 L986.63,223.10 L986.87,225.10 L987.11,227.10 L987.37,229.10 L987.64,231.10 L987.92,233.10 L988.22,235.10 L988.54,237.10 L988.89,239.10 L989.26,241.10 L989.65,243.10 L990.08,245.10 L990.54,247.10 L991.04,249.10 L991.58,251.10 L992.15,253.10 L992.75,255.10 L993.39,257.10 L994.06,259.10 L994.76,261.10 L995.48,263.10 L996.23,265.10 L997.00,267.10 L997.79,269.10 L998.59,271.10 L999.42,273.10 L1000.26,275.10 L1001.11,277.10 L1001.97,279.10 L1002.84,281.10 L1003.72,283.10 L1004.60,285.10 L1005.48,287.10 L1006.37,289.10 L1007.25,291.10 L1008.13,293.10 L1009.00,295.10 L1009.86,297.10 L1010.72,299.10 L1011.56,301.10 L1012.39,303.10 L1013.20,305.10 L1014.00,307.10 L1014.77,309.10 L1015.53,311.10 L1016.26,313.10 L1016.97,315.10 L1017.65,317.10 L1018.30,319.10 L1018.93,321.10 L1019.52,323.10 L1020.08,325.10 L1020.61,327.10 L1021.10,329.10 L1021.55,331.10 L1021.97,333.10 L1022.34,335.10 L1022.67,337.10 L1022.96,339.10 L1023.21,341.10 L1023.40,343.10 L1023.55,345.10 L1023.65,347.10 L1023.71,349.10 L1023.72,351.10 L1023.70,353.10 L1023.63,355.10 L1023.53,357.10 L1023.40,359.10 L1023.23,361.10 L1023.03,363.10 L1022.81,365.10 L1022.56,367.10 L1022.28,369.10 L1021.99,371.10 L1021.67,373.10 L1021.34,375.10 L1021.00,377.10 L1020.64,379.10 L1020.27,381.10 L1019.89,383.10 L1019.51,385.10 L1019.12,387.10 L1018.73,389.10 L1018.34,391.10 L1017.96,393.10 L1017.57,395.10 L1017.18,397.10 L1016.79,399.10 L1016.39,401.10 L1015.98,403.10 L1015.57,405.10 L1015.15,407.10 L1014.71,409.10 L1014.26,411.10 L1013.80,413.10 L1013.32,415.10 L1012.82,417.10 L1012.30,419.10 L1011.76,421.10 L1011.20,423.10 L1010.61,425.10 L1009.99,427.10 L1009.35,429.10 L1008.68,431.10 L1007.98,433.10 L1007.25,435.10 L1006.50,437.10 L1005.73,439.10 L1004.94,441.10 L1004.13,443.10 L1003.31,445.10 L1002.47,447.10 L1001.63,449.10 L1000.77,451.10 L999.91,453.10 L999.05,455.10 L998.18,457.10 L997.32,459.10 L996.46,461.10 L995.60,463.10 L994.75,465.10 L993.91,467.10 L993.08,469.10 L992.26,471.10 L991.46,473.10 L990.67,475.10 L989.91,477.10 L989.17,479.10 L988.45,481.10 L987.76,483.10 L987.09,485.10 L986.46,487.10 L985.86,489.10 L985.30,491.10 L984.77,493.10 L984.28,495.10 L983.83,497.10 L983.43,499.10 L983.07,501.10 L982.76,503.10 L982.51,505.10 L982.30,507.10 L970.90,507.10 L970.69,505.10 L970.44,503.10 L970.13,501.10 L969.77,499.10 L969.37,497.10 L968.92,495.10 L968.43,493.10 L967.90,491.10 L967.34,489.10 L966.74,487.10 L966.11,485.10 L965.44,483.10 L964.75,481.10 L964.03,479.10 L963.29,477.10 L962.53,475.10 L961.74,473.10 L960.94,471.10 L960.12,469.10 L959.29,467.10 L958.45,465.10 L957.60,463.10 L956.74,461.10 L955.88,459.10 L955.02,457.10 L954.15,455.10 L953.29,453.10 L952.43,451.10 L951.57,449.10 L950.73,447.10 L949.89,445.10 L949.07,443.10 L948.26,441.10 L947.47,439.10 L946.70,437.10 L945.95,435.10 L945.22,433.10 L944.52,431.10 L943.85,429.10 L943.21,427.10 L942.59,425.10 L942.00,423.10 L941.44,421.10 L940.90,419.10 L940.38,417.10 L939.88,415.10 L939.40,413.10 L938.94,411.10 L938.49,409.10 L938.05,407.10 L937.63,405.10 L937.22,403.10 L936.81,401.10 L936.41,399.10 L936.02,397.10 L935.63,395.10 L935.24,393.10 L934.86,391.10 L934.47,389.10 L934.08,387.10 L933.69,385.10 L933.31,383.10 L932.93,381.10 L932.56,379.10 L932.20,377.10 L931.86,375.10 L931.53,373.10 L931.21,371.10 L930.92,369.10 L930.64,367.10 L930.39,365.10 L930.17,363.10 L929.97,361.10 L929.80,359.10 L929.67,357.10 L929.57,355.10 L929.50,353.10 L929.48,351.10 L929.49,349.10 L929.55,347.10 L929.65,345.10 L929.80,343.10 L929.99,341.10 L930.24,339.10 L930.53,337.10 L930.86,335.10 L931.23,333.10 L931.65,331.10 L932.10,329.10 L932.59,327.10 L933.12,325.10 L933.68,323.10 L934.27,321.10 L934.90,319.10 L935.55,317.10 L936.23,315.10 L936.94,313.10 L937.67,311.10 L938.43,309.10 L939.20,307.10 L940.00,305.10 L940.81,303.10 L941.64,301.10 L942.48,299.10 L943.34,297.10 L944.20,295.10 L945.07,293.10 L945.95,291.10 L946.83,289.10 L947.72,287.10 L948.60,285.10 L949.48,283.10 L950.36,281.10 L951.23,279.10 L952.09,277.10 L952.94,275.10 L953.78,273.10 L954.61,271.10 L955.41,269.10 L956.20,267.10 L956.97,265.10 L957.72,263.10 L958.44,261.10 L959.14,259.10 L959.81,257.10 L960.45,255.10 L961.05,253.10 L961.62,251.10 L962.16,249.10 L962.66,247.10 L963.12,245.10 L963.55,243.10 L963.94,241.10 L964.31,239.10 L964.66,237.10 L964.98,235.10 L965.28,233.10 L965.56,231.10 L965.83,229.10 L966.09,227.10 L966.33,225.10 L966.57,223.10 L966.80,221.10 L967.04,219.10 L967.27,217.10 L967.50,215.10 L967.74,213.10 L967.99,211.10 L968.25,209.10 L968.52,207.10 L968.80,205.10 L969.08,203.10 L969.37,201.10 L969.67,199.10 L969.96,197.10 L970.26,195.10 L970.56,193.10 L970.85,191.10 L971.13,189.10 L971.42,187.10 L971.69,185.10 L971.95,183.10 L972.20,181.10 L972.44,179.10 L972.67,177.10 L972.88,175.10 L973.07,173.10 L973.24,171.10 L973.39,169.10 L973.51,167.10 L973.62,165.10 L973.69,163.10 L973.74,161.10 L973.76,159.10 L973.75,157.10 L973.70,155.10 Z" fill="#00C6F6" stroke="#000" stroke-width="1.45" stroke-linejoin="round"/>
<line x1="976.60" y1="162.40" x2="976.60" y2="507.10" stroke="#000" stroke-width="1.15"/>
<rect x="973.21" y="314.90" width="6.79" height="101.70" fill="#000"/>
<ellipse cx="976.60" cy="354.00" rx="4.45" ry="5.42" fill="#fff"/>
<path d="M1091.90,206.30 L1098.10,206.30 L1098.08,208.31 L1098.10,210.33 L1098.17,212.34 L1098.28,214.35 L1098.44,216.36 L1098.65,218.38 L1098.89,220.39 L1099.17,222.40 L1099.50,224.42 L1099.86,226.43 L1100.25,228.44 L1100.68,230.45 L1101.14,232.47 L1101.64,234.48 L1102.16,236.49 L1102.71,238.50 L1103.29,240.52 L1103.89,242.53 L1104.52,244.54 L1105.17,246.56 L1105.84,248.57 L1106.53,250.58 L1107.23,252.59 L1107.95,254.61 L1108.69,256.62 L1109.44,258.63 L1110.20,260.65 L1110.97,262.66 L1111.74,264.67 L1112.53,266.68 L1113.32,268.70 L1114.11,270.71 L1114.91,272.72 L1115.71,274.73 L1116.52,276.75 L1117.32,278.76 L1118.13,280.77 L1118.94,282.79 L1119.75,284.80 L1120.56,286.81 L1121.37,288.82 L1122.18,290.84 L1122.99,292.85 L1123.80,294.86 L1124.60,296.88 L1125.41,298.89 L1126.21,300.90 L1127.01,302.91 L1127.80,304.93 L1128.60,306.94 L1129.38,308.95 L1130.16,310.96 L1130.94,312.98 L1131.70,314.99 L1132.45,317.00 L1133.18,319.02 L1133.90,321.03 L1134.60,323.04 L1135.28,325.05 L1135.93,327.07 L1136.57,329.08 L1137.17,331.09 L1137.75,333.11 L1138.29,335.12 L1138.81,337.13 L1139.29,339.14 L1139.73,341.16 L1140.13,343.17 L1140.49,345.18 L1140.81,347.19 L1141.09,349.21 L1141.32,351.22 L1141.50,353.23 L1141.64,355.25 L1141.72,357.26 L1141.75,359.27 L1141.73,361.28 L1141.65,363.30 L1141.52,365.31 L1141.33,367.32 L1141.07,369.34 L1140.76,371.35 L1140.38,373.36 L1139.94,375.37 L1139.45,377.39 L1138.90,379.40 L1138.30,381.41 L1137.66,383.42 L1136.97,385.44 L1136.23,387.45 L1135.46,389.46 L1134.66,391.48 L1133.82,393.49 L1132.95,395.50 L1132.05,397.51 L1131.13,399.53 L1130.19,401.54 L1129.24,403.55 L1128.27,405.57 L1127.28,407.58 L1126.29,409.59 L1125.30,411.60 L1124.30,413.62 L1123.31,415.63 L1122.31,417.64 L1121.32,419.65 L1120.34,421.67 L1119.37,423.68 L1118.42,425.69 L1117.48,427.71 L1116.56,429.72 L1115.66,431.73 L1114.79,433.74 L1113.94,435.76 L1113.13,437.77 L1112.34,439.78 L1111.59,441.80 L1110.88,443.81 L1110.21,445.82 L1109.58,447.83 L1109.00,449.85 L1108.46,451.86 L1107.96,453.87 L1107.51,455.88 L1107.10,457.90 L1106.73,459.91 L1106.39,461.92 L1106.10,463.94 L1105.83,465.95 L1105.61,467.96 L1105.41,469.97 L1105.24,471.99 L1105.10,474.00 L1084.90,474.00 L1084.76,471.99 L1084.59,469.97 L1084.39,467.96 L1084.17,465.95 L1083.90,463.94 L1083.61,461.92 L1083.27,459.91 L1082.90,457.90 L1082.49,455.88 L1082.04,453.87 L1081.54,451.86 L1081.00,449.85 L1080.42,447.83 L1079.79,445.82 L1079.12,443.81 L1078.41,441.80 L1077.66,439.78 L1076.87,437.77 L1076.06,435.76 L1075.21,433.74 L1074.34,431.73 L1073.44,429.72 L1072.52,427.71 L1071.58,425.69 L1070.63,423.68 L1069.66,421.67 L1068.68,419.65 L1067.69,417.64 L1066.69,415.63 L1065.70,413.62 L1064.70,411.60 L1063.71,409.59 L1062.72,407.58 L1061.73,405.57 L1060.76,403.55 L1059.81,401.54 L1058.87,399.53 L1057.95,397.51 L1057.05,395.50 L1056.18,393.49 L1055.34,391.48 L1054.54,389.46 L1053.77,387.45 L1053.03,385.44 L1052.34,383.42 L1051.70,381.41 L1051.10,379.40 L1050.55,377.39 L1050.06,375.37 L1049.62,373.36 L1049.24,371.35 L1048.93,369.34 L1048.67,367.32 L1048.48,365.31 L1048.35,363.30 L1048.27,361.28 L1048.25,359.27 L1048.28,357.26 L1048.36,355.25 L1048.50,353.23 L1048.68,351.22 L1048.91,349.21 L1049.19,347.19 L1049.51,345.18 L1049.87,343.17 L1050.27,341.16 L1050.71,339.14 L1051.19,337.13 L1051.71,335.12 L1052.25,333.11 L1052.83,331.09 L1053.43,329.08 L1054.07,327.07 L1054.72,325.05 L1055.40,323.04 L1056.10,321.03 L1056.82,319.02 L1057.55,317.00 L1058.30,314.99 L1059.06,312.98 L1059.84,310.96 L1060.62,308.95 L1061.40,306.94 L1062.20,304.93 L1062.99,302.91 L1063.79,300.90 L1064.59,298.89 L1065.40,296.88 L1066.20,294.86 L1067.01,292.85 L1067.82,290.84 L1068.63,288.82 L1069.44,286.81 L1070.25,284.80 L1071.06,282.79 L1071.87,280.77 L1072.68,278.76 L1073.48,276.75 L1074.29,274.73 L1075.09,272.72 L1075.89,270.71 L1076.68,268.70 L1077.47,266.68 L1078.26,264.67 L1079.03,262.66 L1079.80,260.65 L1080.56,258.63 L1081.31,256.62 L1082.05,254.61 L1082.77,252.59 L1083.47,250.58 L1084.16,248.57 L1084.83,246.56 L1085.48,244.54 L1086.11,242.53 L1086.71,240.52 L1087.29,238.50 L1087.84,236.49 L1088.36,234.48 L1088.86,232.47 L1089.32,230.45 L1089.75,228.44 L1090.14,226.43 L1090.50,224.42 L1090.83,222.40 L1091.11,220.39 L1091.35,218.38 L1091.56,216.36 L1091.72,214.35 L1091.83,212.34 L1091.90,210.33 L1091.92,208.31 L1091.90,206.30 Z" fill="#00C6F6" stroke="#000" stroke-width="1.45" stroke-linejoin="round"/>
<line x1="1095.00" y1="206.30" x2="1095.00" y2="474.00" stroke="#000" stroke-width="1.15"/>
<rect x="1091.61" y="315.20" width="6.79" height="74.40" fill="#000"/>
<ellipse cx="1095.00" cy="357.80" rx="4.45" ry="5.42" fill="#fff"/>
<path d="M1205.40,154.70 L1221.40,154.70 L1221.62,156.70 L1221.83,158.71 L1222.05,160.71 L1222.28,162.71 L1222.52,164.72 L1222.76,166.72 L1223.01,168.73 L1223.27,170.73 L1223.53,172.73 L1223.80,174.74 L1224.08,176.74 L1224.36,178.74 L1224.65,180.75 L1224.94,182.75 L1225.25,184.75 L1225.56,186.76 L1225.87,188.76 L1226.19,190.77 L1226.52,192.77 L1226.86,194.77 L1227.20,196.78 L1227.55,198.78 L1227.91,200.78 L1228.27,202.79 L1228.64,204.79 L1229.02,206.79 L1229.40,208.80 L1229.79,210.80 L1230.19,212.80 L1230.59,214.81 L1231.00,216.81 L1231.42,218.82 L1231.84,220.82 L1232.28,222.82 L1232.71,224.83 L1233.16,226.83 L1233.61,228.83 L1234.07,230.84 L1234.53,232.84 L1235.01,234.84 L1235.49,236.85 L1235.97,238.85 L1236.46,240.86 L1236.96,242.86 L1237.47,244.86 L1237.98,246.87 L1238.50,248.87 L1239.03,250.87 L1239.57,252.88 L1240.11,254.88 L1240.65,256.88 L1241.21,258.89 L1241.77,260.89 L1242.34,262.90 L1242.92,264.90 L1243.50,266.90 L1244.09,268.91 L1244.69,270.91 L1245.29,272.91 L1245.90,274.92 L1246.51,276.92 L1247.12,278.92 L1247.74,280.93 L1248.35,282.93 L1248.97,284.93 L1249.58,286.94 L1250.19,288.94 L1250.79,290.95 L1251.38,292.95 L1251.97,294.95 L1252.55,296.96 L1253.11,298.96 L1253.67,300.96 L1254.21,302.97 L1254.74,304.97 L1255.25,306.97 L1255.74,308.98 L1256.22,310.98 L1256.67,312.99 L1257.10,314.99 L1257.51,316.99 L1257.90,319.00 L1258.26,321.00 L1258.60,323.00 L1258.91,325.01 L1259.19,327.01 L1259.44,329.01 L1259.66,331.02 L1259.84,333.02 L1260.00,335.03 L1260.13,337.03 L1260.23,339.03 L1260.30,341.04 L1260.34,343.04 L1260.34,345.04 L1260.32,347.05 L1260.26,349.05 L1260.18,351.05 L1260.06,353.06 L1259.91,355.06 L1259.72,357.07 L1259.51,359.07 L1259.26,361.07 L1258.98,363.08 L1258.67,365.08 L1258.33,367.08 L1257.96,369.09 L1257.56,371.09 L1257.13,373.09 L1256.68,375.10 L1256.21,377.10 L1255.72,379.10 L1255.21,381.11 L1254.67,383.11 L1254.13,385.12 L1253.56,387.12 L1252.98,389.12 L1252.39,391.13 L1251.79,393.13 L1251.18,395.13 L1250.57,397.14 L1249.94,399.14 L1249.31,401.14 L1248.68,403.15 L1248.05,405.15 L1247.41,407.16 L1246.78,409.16 L1246.15,411.16 L1245.52,413.17 L1244.90,415.17 L1244.28,417.17 L1243.67,419.18 L1243.07,421.18 L1242.49,423.18 L1241.91,425.19 L1241.35,427.19 L1240.80,429.20 L1240.27,431.20 L1239.76,433.20 L1239.26,435.21 L1238.78,437.21 L1238.32,439.21 L1237.87,441.22 L1237.44,443.22 L1237.03,445.22 L1236.64,447.23 L1236.26,449.23 L1235.89,451.23 L1235.55,453.24 L1235.22,455.24 L1234.90,457.25 L1234.61,459.25 L1234.33,461.25 L1234.06,463.26 L1233.82,465.26 L1233.59,467.26 L1233.37,469.27 L1233.18,471.27 L1233.00,473.27 L1232.83,475.28 L1232.69,477.28 L1232.56,479.29 L1232.45,481.29 L1232.35,483.29 L1232.27,485.30 L1232.20,487.30 L1194.60,487.30 L1194.53,485.30 L1194.45,483.29 L1194.35,481.29 L1194.24,479.29 L1194.11,477.28 L1193.97,475.28 L1193.80,473.27 L1193.62,471.27 L1193.43,469.27 L1193.21,467.26 L1192.98,465.26 L1192.74,463.26 L1192.47,461.25 L1192.19,459.25 L1191.90,457.25 L1191.58,455.24 L1191.25,453.24 L1190.91,451.23 L1190.54,449.23 L1190.16,447.23 L1189.77,445.22 L1189.36,443.22 L1188.93,441.22 L1188.48,439.21 L1188.02,437.21 L1187.54,435.21 L1187.04,433.20 L1186.53,431.20 L1186.00,429.20 L1185.45,427.19 L1184.89,425.19 L1184.31,423.18 L1183.73,421.18 L1183.13,419.18 L1182.52,417.17 L1181.90,415.17 L1181.28,413.17 L1180.65,411.16 L1180.02,409.16 L1179.39,407.16 L1178.75,405.15 L1178.12,403.15 L1177.49,401.14 L1176.86,399.14 L1176.23,397.14 L1175.62,395.13 L1175.01,393.13 L1174.41,391.13 L1173.82,389.12 L1173.24,387.12 L1172.67,385.12 L1172.13,383.11 L1171.59,381.11 L1171.08,379.10 L1170.59,377.10 L1170.12,375.10 L1169.67,373.09 L1169.24,371.09 L1168.84,369.09 L1168.47,367.08 L1168.13,365.08 L1167.82,363.08 L1167.54,361.07 L1167.29,359.07 L1167.08,357.07 L1166.89,355.06 L1166.74,353.06 L1166.62,351.05 L1166.54,349.05 L1166.48,347.05 L1166.46,345.04 L1166.46,343.04 L1166.50,341.04 L1166.57,339.03 L1166.67,337.03 L1166.80,335.03 L1166.96,333.02 L1167.14,331.02 L1167.36,329.01 L1167.61,327.01 L1167.89,325.01 L1168.20,323.00 L1168.54,321.00 L1168.90,319.00 L1169.29,316.99 L1169.70,314.99 L1170.13,312.99 L1170.58,310.98 L1171.06,308.98 L1171.55,306.97 L1172.06,304.97 L1172.59,302.97 L1173.13,300.96 L1173.69,298.96 L1174.25,296.96 L1174.83,294.95 L1175.42,292.95 L1176.01,290.95 L1176.61,288.94 L1177.22,286.94 L1177.83,284.93 L1178.45,282.93 L1179.06,280.93 L1179.68,278.92 L1180.29,276.92 L1180.90,274.92 L1181.51,272.91 L1182.11,270.91 L1182.71,268.91 L1183.30,266.90 L1183.88,264.90 L1184.46,262.90 L1185.03,260.89 L1185.59,258.89 L1186.15,256.88 L1186.69,254.88 L1187.23,252.88 L1187.77,250.87 L1188.30,248.87 L1188.82,246.87 L1189.33,244.86 L1189.84,242.86 L1190.34,240.86 L1190.83,238.85 L1191.31,236.85 L1191.79,234.84 L1192.27,232.84 L1192.73,230.84 L1193.19,228.83 L1193.64,226.83 L1194.09,224.83 L1194.52,222.82 L1194.96,220.82 L1195.38,218.82 L1195.80,216.81 L1196.21,214.81 L1196.61,212.80 L1197.01,210.80 L1197.40,208.80 L1197.78,206.79 L1198.16,204.79 L1198.53,202.79 L1198.89,200.78 L1199.25,198.78 L1199.60,196.78 L1199.94,194.77 L1200.28,192.77 L1200.61,190.77 L1200.93,188.76 L1201.24,186.76 L1201.55,184.75 L1201.86,182.75 L1202.15,180.75 L1202.44,178.74 L1202.72,176.74 L1203.00,174.74 L1203.27,172.73 L1203.53,170.73 L1203.79,168.73 L1204.04,166.72 L1204.28,164.72 L1204.52,162.71 L1204.75,160.71 L1204.97,158.71 L1205.18,156.70 L1205.40,154.70 Z" fill="#00C6F6" stroke="#000" stroke-width="1.45" stroke-linejoin="round"/>
<line x1="1213.40" y1="172.00" x2="1213.40" y2="487.30" stroke="#000" stroke-width="1.15"/>
<rect x="1210.01" y="299.40" width="6.79" height="85.40" fill="#000"/>
<ellipse cx="1213.40" cy="347.20" rx="4.45" ry="5.42" fill="#fff"/>
<rect x="811.20" y="521.80" width="94.30" height="2.80" fill="#000"/>
<rect x="929.00" y="521.80" width="94.80" height="2.80" fill="#000"/>
<rect x="780.60" y="43.60" width="510.80" height="480.90" fill="none" stroke="#000" stroke-width="1.30"/>
<line x1="769.40" y1="524.30" x2="780.60" y2="524.30" stroke="#000" stroke-width="1.30"/>
<text transform="translate(756.30,524.30) scale(0.910,1) rotate(-90)" font-size="21.20" text-anchor="middle" font-weight="normal">0</text>
<line x1="769.40" y1="438.60" x2="780.60" y2="438.60" stroke="#000" stroke-width="1.30"/>
<text transform="translate(756.30,438.60) scale(0.910,1) rotate(-90)" font-size="21.20" text-anchor="middle" font-weight="normal">1</text>
<line x1="769.40" y1="352.90" x2="780.60" y2="352.90" stroke="#000" stroke-width="1.30"/>
<text transform="translate(756.30,352.90) scale(0.910,1) rotate(-90)" font-size="21.20" text-anchor="middle" font-weight="normal">2</text>
<line x1="769.40" y1="267.20" x2="780.60" y2="267.20" stroke="#000" stroke-width="1.30"/>
<text transform="translate(756.30,267.20) scale(0.910,1) rotate(-90)" font-size="21.20" text-anchor="middle" font-weight="normal">3</text>
<line x1="769.40" y1="181.50" x2="780.60" y2="181.50" stroke="#000" stroke-width="1.30"/>
<text transform="translate(756.30,181.50) scale(0.910,1) rotate(-90)" font-size="21.20" text-anchor="middle" font-weight="normal">4</text>
<line x1="769.40" y1="95.80" x2="780.60" y2="95.80" stroke="#000" stroke-width="1.30"/>
<text transform="translate(756.30,95.80) scale(0.910,1) rotate(-90)" font-size="21.20" text-anchor="middle" font-weight="normal">5</text>
<line x1="858.64" y1="524.50" x2="858.64" y2="537.40" stroke="#000" stroke-width="1.30"/>
<text transform="translate(858.64,568.70) scale(0.820,1)" font-size="21.20" text-anchor="middle" font-weight="normal">Stage I</text>
<line x1="976.88" y1="524.50" x2="976.88" y2="537.40" stroke="#000" stroke-width="1.30"/>
<text transform="translate(976.88,568.70) scale(0.820,1)" font-size="21.20" text-anchor="middle" font-weight="normal">Stage II</text>
<line x1="1095.12" y1="524.50" x2="1095.12" y2="537.40" stroke="#000" stroke-width="1.30"/>
<text transform="translate(1095.12,568.70) scale(0.820,1)" font-size="21.20" text-anchor="middle" font-weight="normal">Stage III</text>
<line x1="1213.36" y1="524.50" x2="1213.36" y2="537.40" stroke="#000" stroke-width="1.30"/>
<text transform="translate(1213.36,568.70) scale(0.820,1)" font-size="21.20" text-anchor="middle" font-weight="normal">Stage IV</text>
<text transform="translate(1262.00,69.60) scale(0.820,1)" font-size="22.90" text-anchor="end" font-weight="normal">F value = 3.11</text>
<text transform="translate(1262.00,96.40) scale(0.820,1)" font-size="22.90" text-anchor="end" font-weight="normal">Pr(&gt;F) = 0.0261</text>
<text transform="translate(698.60,34.20) scale(0.975,1)" font-size="47.00" font-weight="bold" style="stroke:none">B</text>
</g>
<g id="pC">
<path d="M161.40,678.10 L164.80,678.10 L164.91,680.11 L165.04,682.11 L165.17,684.12 L165.31,686.12 L165.45,688.13 L165.60,690.13 L165.75,692.14 L165.91,694.14 L166.08,696.15 L166.25,698.15 L166.43,700.16 L166.62,702.16 L166.81,704.17 L167.00,706.17 L167.20,708.18 L167.41,710.18 L167.62,712.19 L167.83,714.19 L168.05,716.20 L168.28,718.20 L168.51,720.21 L168.75,722.22 L168.99,724.22 L169.23,726.23 L169.48,728.23 L169.73,730.24 L169.99,732.24 L170.26,734.25 L170.52,736.25 L170.79,738.26 L171.07,740.26 L171.35,742.27 L171.63,744.27 L171.92,746.28 L172.21,748.28 L172.50,750.29 L172.80,752.29 L173.11,754.30 L173.41,756.30 L173.72,758.31 L174.03,760.31 L174.35,762.32 L174.67,764.33 L174.99,766.33 L175.31,768.34 L175.64,770.34 L175.97,772.35 L176.30,774.35 L176.64,776.36 L176.98,778.36 L177.32,780.37 L177.66,782.37 L178.01,784.38 L178.36,786.38 L178.71,788.39 L179.06,790.39 L179.42,792.40 L179.77,794.40 L180.13,796.41 L180.49,798.41 L180.85,800.42 L181.22,802.42 L181.58,804.43 L181.95,806.44 L182.32,808.44 L182.69,810.45 L183.06,812.45 L183.43,814.46 L183.81,816.46 L184.18,818.47 L184.56,820.47 L184.94,822.48 L185.31,824.48 L185.69,826.49 L186.07,828.49 L186.45,830.50 L186.83,832.50 L187.21,834.51 L187.59,836.51 L187.97,838.52 L188.35,840.52 L188.74,842.53 L189.12,844.53 L189.50,846.54 L189.88,848.55 L190.26,850.55 L190.64,852.56 L191.02,854.56 L191.40,856.57 L191.78,858.57 L192.16,860.58 L192.54,862.58 L192.92,864.59 L193.29,866.59 L193.67,868.60 L194.05,870.60 L194.42,872.61 L194.79,874.61 L195.16,876.62 L195.54,878.62 L195.90,880.63 L196.27,882.63 L196.64,884.64 L197.00,886.64 L197.37,888.65 L197.73,890.66 L198.09,892.66 L198.44,894.67 L198.80,896.67 L199.15,898.68 L199.50,900.68 L199.85,902.69 L200.20,904.69 L200.54,906.70 L200.88,908.70 L201.22,910.71 L201.56,912.71 L201.89,914.72 L202.21,916.72 L202.54,918.73 L202.86,920.73 L203.18,922.74 L203.49,924.74 L203.80,926.75 L204.10,928.75 L204.40,930.76 L204.69,932.77 L204.98,934.77 L205.27,936.78 L205.55,938.78 L205.82,940.79 L206.09,942.79 L206.35,944.80 L206.61,946.80 L206.86,948.81 L207.11,950.81 L207.34,952.82 L207.58,954.82 L207.80,956.83 L208.02,958.83 L208.23,960.84 L208.44,962.84 L208.64,964.85 L208.83,966.85 L209.01,968.86 L209.19,970.86 L209.36,972.87 L209.52,974.88 L209.67,976.88 L209.81,978.89 L209.95,980.89 L210.07,982.90 L210.19,984.90 L210.30,986.91 L210.40,988.91 L210.49,990.92 L210.57,992.92 L210.64,994.93 L210.70,996.93 L210.76,998.94 L210.80,1000.94 L210.83,1002.95 L210.85,1004.95 L210.86,1006.96 L210.86,1008.96 L210.85,1010.97 L210.82,1012.97 L210.77,1014.98 L210.70,1016.99 L210.61,1018.99 L210.49,1021.00 L210.35,1023.00 L210.18,1025.01 L209.98,1027.01 L209.76,1029.02 L209.49,1031.02 L209.20,1033.03 L208.86,1035.03 L208.49,1037.04 L208.08,1039.04 L207.62,1041.05 L207.13,1043.05 L206.58,1045.06 L205.99,1047.06 L205.36,1049.07 L204.68,1051.07 L203.97,1053.08 L203.21,1055.08 L202.42,1057.09 L201.60,1059.10 L200.74,1061.10 L199.84,1063.11 L198.92,1065.11 L197.97,1067.12 L196.99,1069.12 L195.99,1071.13 L194.98,1073.13 L193.94,1075.14 L192.89,1077.14 L191.83,1079.15 L190.75,1081.15 L189.67,1083.16 L188.59,1085.16 L187.50,1087.17 L186.42,1089.17 L185.34,1091.18 L184.26,1093.18 L183.20,1095.19 L182.14,1097.19 L181.10,1099.20 L145.10,1099.20 L144.06,1097.19 L143.00,1095.19 L141.94,1093.18 L140.86,1091.18 L139.78,1089.17 L138.70,1087.17 L137.61,1085.16 L136.53,1083.16 L135.45,1081.15 L134.37,1079.15 L133.31,1077.14 L132.26,1075.14 L131.22,1073.13 L130.21,1071.13 L129.21,1069.12 L128.23,1067.12 L127.28,1065.11 L126.36,1063.11 L125.46,1061.10 L124.60,1059.10 L123.78,1057.09 L122.99,1055.08 L122.23,1053.08 L121.52,1051.07 L120.84,1049.07 L120.21,1047.06 L119.62,1045.06 L119.07,1043.05 L118.58,1041.05 L118.12,1039.04 L117.71,1037.04 L117.34,1035.03 L117.00,1033.03 L116.71,1031.02 L116.44,1029.02 L116.22,1027.01 L116.02,1025.01 L115.85,1023.00 L115.71,1021.00 L115.59,1018.99 L115.50,1016.99 L115.43,1014.98 L115.38,1012.97 L115.35,1010.97 L115.34,1008.96 L115.34,1006.96 L115.35,1004.95 L115.37,1002.95 L115.40,1000.94 L115.44,998.94 L115.50,996.93 L115.56,994.93 L115.63,992.92 L115.71,990.92 L115.80,988.91 L115.90,986.91 L116.01,984.90 L116.13,982.90 L116.25,980.89 L116.39,978.89 L116.53,976.88 L116.68,974.88 L116.84,972.87 L117.01,970.86 L117.19,968.86 L117.37,966.85 L117.56,964.85 L117.76,962.84 L117.97,960.84 L118.18,958.83 L118.40,956.83 L118.62,954.82 L118.86,952.82 L119.09,950.81 L119.34,948.81 L119.59,946.80 L119.85,944.80 L120.11,942.79 L120.38,940.79 L120.65,938.78 L120.93,936.78 L121.22,934.77 L121.51,932.77 L121.80,930.76 L122.10,928.75 L122.40,926.75 L122.71,924.74 L123.02,922.74 L123.34,920.73 L123.66,918.73 L123.99,916.72 L124.31,914.72 L124.64,912.71 L124.98,910.71 L125.32,908.70 L125.66,906.70 L126.00,904.69 L126.35,902.69 L126.70,900.68 L127.05,898.68 L127.40,896.67 L127.76,894.67 L128.11,892.66 L128.47,890.66 L128.83,888.65 L129.20,886.64 L129.56,884.64 L129.93,882.63 L130.30,880.63 L130.66,878.62 L131.04,876.62 L131.41,874.61 L131.78,872.61 L132.15,870.60 L132.53,868.60 L132.91,866.59 L133.28,864.59 L133.66,862.58 L134.04,860.58 L134.42,858.57 L134.80,856.57 L135.18,854.56 L135.56,852.56 L135.94,850.55 L136.32,848.55 L136.70,846.54 L137.08,844.53 L137.46,842.53 L137.85,840.52 L138.23,838.52 L138.61,836.51 L138.99,834.51 L139.37,832.50 L139.75,830.50 L140.13,828.49 L140.51,826.49 L140.89,824.48 L141.26,822.48 L141.64,820.47 L142.02,818.47 L142.39,816.46 L142.77,814.46 L143.14,812.45 L143.51,810.45 L143.88,808.44 L144.25,806.44 L144.62,804.43 L144.98,802.42 L145.35,800.42 L145.71,798.41 L146.07,796.41 L146.43,794.40 L146.78,792.40 L147.14,790.39 L147.49,788.39 L147.84,786.38 L148.19,784.38 L148.54,782.37 L148.88,780.37 L149.22,778.36 L149.56,776.36 L149.90,774.35 L150.23,772.35 L150.56,770.34 L150.89,768.34 L151.21,766.33 L151.53,764.33 L151.85,762.32 L152.17,760.31 L152.48,758.31 L152.79,756.30 L153.09,754.30 L153.40,752.29 L153.70,750.29 L153.99,748.28 L154.28,746.28 L154.57,744.27 L154.85,742.27 L155.13,740.26 L155.41,738.26 L155.68,736.25 L155.94,734.25 L156.21,732.24 L156.47,730.24 L156.72,728.23 L156.97,726.23 L157.21,724.22 L157.45,722.22 L157.69,720.21 L157.92,718.20 L158.15,716.20 L158.37,714.19 L158.58,712.19 L158.79,710.18 L159.00,708.18 L159.20,706.17 L159.39,704.17 L159.58,702.16 L159.77,700.16 L159.95,698.15 L160.12,696.15 L160.29,694.14 L160.45,692.14 L160.60,690.13 L160.75,688.13 L160.89,686.12 L161.03,684.12 L161.16,682.11 L161.29,680.11 L161.40,678.10 Z" fill="#00C6F6" stroke="#000" stroke-width="1.45" stroke-linejoin="round"/>
<line x1="163.10" y1="678.10" x2="163.10" y2="1099.20" stroke="#000" stroke-width="1.15"/>
<rect x="159.66" y="883.20" width="6.88" height="143.80" fill="#000"/>
<ellipse cx="163.10" cy="957.60" rx="4.51" ry="5.50" fill="#fff"/>
<path d="M277.90,710.60 L287.90,710.60 L288.18,712.61 L288.46,714.62 L288.75,716.63 L289.06,718.63 L289.39,720.64 L289.73,722.65 L290.08,724.66 L290.45,726.67 L290.83,728.68 L291.23,730.69 L291.64,732.69 L292.06,734.70 L292.49,736.71 L292.93,738.72 L293.39,740.73 L293.86,742.74 L294.33,744.74 L294.82,746.75 L295.31,748.76 L295.82,750.77 L296.33,752.78 L296.86,754.79 L297.39,756.80 L297.93,758.80 L298.47,760.81 L299.02,762.82 L299.58,764.83 L300.15,766.84 L300.72,768.85 L301.29,770.86 L301.87,772.86 L302.45,774.87 L303.04,776.88 L303.63,778.89 L304.23,780.90 L304.83,782.91 L305.43,784.91 L306.03,786.92 L306.63,788.93 L307.23,790.94 L307.84,792.95 L308.44,794.96 L309.05,796.97 L309.65,798.97 L310.26,800.98 L310.86,802.99 L311.46,805.00 L312.06,807.01 L312.65,809.02 L313.25,811.03 L313.84,813.03 L314.42,815.04 L315.00,817.05 L315.58,819.06 L316.15,821.07 L316.72,823.08 L317.28,825.09 L317.83,827.09 L318.38,829.10 L318.92,831.11 L319.45,833.12 L319.98,835.13 L320.50,837.14 L321.01,839.14 L321.51,841.15 L322.00,843.16 L322.48,845.17 L322.95,847.18 L323.41,849.19 L323.86,851.20 L324.29,853.20 L324.72,855.21 L325.13,857.22 L325.53,859.23 L325.92,861.24 L326.29,863.25 L326.65,865.26 L327.00,867.26 L327.33,869.27 L327.64,871.28 L327.94,873.29 L328.23,875.30 L328.50,877.31 L328.75,879.31 L328.98,881.32 L329.20,883.33 L329.40,885.34 L329.58,887.35 L329.74,889.36 L329.88,891.37 L330.01,893.37 L330.11,895.38 L330.19,897.39 L330.25,899.40 L330.29,901.41 L330.31,903.42 L330.31,905.43 L330.28,907.43 L330.24,909.44 L330.17,911.45 L330.07,913.46 L329.95,915.47 L329.81,917.48 L329.65,919.49 L329.46,921.49 L329.26,923.50 L329.04,925.51 L328.81,927.52 L328.56,929.53 L328.29,931.54 L328.01,933.54 L327.73,935.55 L327.43,937.56 L327.12,939.57 L326.81,941.58 L326.49,943.59 L326.16,945.60 L325.83,947.60 L325.50,949.61 L325.17,951.62 L324.84,953.63 L324.51,955.64 L324.19,957.65 L323.86,959.66 L323.55,961.66 L323.24,963.67 L322.94,965.68 L322.64,967.69 L322.36,969.70 L322.08,971.71 L321.82,973.71 L321.55,975.72 L321.29,977.73 L321.04,979.74 L320.79,981.75 L320.54,983.76 L320.28,985.77 L320.03,987.77 L319.78,989.78 L319.52,991.79 L319.26,993.80 L319.00,995.81 L318.72,997.82 L318.44,999.83 L318.15,1001.83 L317.85,1003.84 L317.55,1005.85 L317.23,1007.86 L316.89,1009.87 L316.55,1011.88 L316.20,1013.89 L315.84,1015.89 L315.46,1017.90 L315.08,1019.91 L314.69,1021.92 L314.29,1023.93 L313.88,1025.94 L313.46,1027.94 L313.04,1029.95 L312.60,1031.96 L312.16,1033.97 L311.71,1035.98 L311.25,1037.99 L310.79,1040.00 L310.32,1042.00 L309.84,1044.01 L309.36,1046.02 L308.87,1048.03 L308.37,1050.04 L307.87,1052.05 L307.37,1054.06 L306.86,1056.06 L306.34,1058.07 L305.82,1060.08 L305.30,1062.09 L304.77,1064.10 L304.24,1066.11 L303.71,1068.11 L303.18,1070.12 L302.64,1072.13 L302.11,1074.14 L301.58,1076.15 L301.05,1078.16 L300.53,1080.17 L300.01,1082.17 L299.50,1084.18 L298.99,1086.19 L298.50,1088.20 L267.30,1088.20 L266.81,1086.19 L266.30,1084.18 L265.79,1082.17 L265.27,1080.17 L264.75,1078.16 L264.22,1076.15 L263.69,1074.14 L263.16,1072.13 L262.62,1070.12 L262.09,1068.11 L261.56,1066.11 L261.03,1064.10 L260.50,1062.09 L259.98,1060.08 L259.46,1058.07 L258.94,1056.06 L258.43,1054.06 L257.93,1052.05 L257.43,1050.04 L256.93,1048.03 L256.44,1046.02 L255.96,1044.01 L255.48,1042.00 L255.01,1040.00 L254.55,1037.99 L254.09,1035.98 L253.64,1033.97 L253.20,1031.96 L252.76,1029.95 L252.34,1027.94 L251.92,1025.94 L251.51,1023.93 L251.11,1021.92 L250.72,1019.91 L250.34,1017.90 L249.96,1015.89 L249.60,1013.89 L249.25,1011.88 L248.91,1009.87 L248.57,1007.86 L248.25,1005.85 L247.95,1003.84 L247.65,1001.83 L247.36,999.83 L247.08,997.82 L246.80,995.81 L246.54,993.80 L246.28,991.79 L246.02,989.78 L245.77,987.77 L245.52,985.77 L245.26,983.76 L245.01,981.75 L244.76,979.74 L244.51,977.73 L244.25,975.72 L243.98,973.71 L243.72,971.71 L243.44,969.70 L243.16,967.69 L242.86,965.68 L242.56,963.67 L242.25,961.66 L241.94,959.66 L241.61,957.65 L241.29,955.64 L240.96,953.63 L240.63,951.62 L240.30,949.61 L239.97,947.60 L239.64,945.60 L239.31,943.59 L238.99,941.58 L238.68,939.57 L238.37,937.56 L238.07,935.55 L237.79,933.54 L237.51,931.54 L237.24,929.53 L236.99,927.52 L236.76,925.51 L236.54,923.50 L236.34,921.49 L236.15,919.49 L235.99,917.48 L235.85,915.47 L235.73,913.46 L235.63,911.45 L235.56,909.44 L235.52,907.43 L235.49,905.43 L235.49,903.42 L235.51,901.41 L235.55,899.40 L235.61,897.39 L235.69,895.38 L235.79,893.37 L235.92,891.37 L236.06,889.36 L236.22,887.35 L236.40,885.34 L236.60,883.33 L236.82,881.32 L237.05,879.31 L237.30,877.31 L237.57,875.30 L237.86,873.29 L238.16,871.28 L238.47,869.27 L238.80,867.26 L239.15,865.26 L239.51,863.25 L239.88,861.24 L240.27,859.23 L240.67,857.22 L241.08,855.21 L241.51,853.20 L241.94,851.20 L242.39,849.19 L242.85,847.18 L243.32,845.17 L243.80,843.16 L244.29,841.15 L244.79,839.14 L245.30,837.14 L245.82,835.13 L246.35,833.12 L246.88,831.11 L247.42,829.10 L247.97,827.09 L248.52,825.09 L249.08,823.08 L249.65,821.07 L250.22,819.06 L250.80,817.05 L251.38,815.04 L251.96,813.03 L252.55,811.03 L253.15,809.02 L253.74,807.01 L254.34,805.00 L254.94,802.99 L255.54,800.98 L256.15,798.97 L256.75,796.97 L257.36,794.96 L257.96,792.95 L258.57,790.94 L259.17,788.93 L259.77,786.92 L260.37,784.91 L260.97,782.91 L261.57,780.90 L262.17,778.89 L262.76,776.88 L263.35,774.87 L263.93,772.86 L264.51,770.86 L265.08,768.85 L265.65,766.84 L266.22,764.83 L266.78,762.82 L267.33,760.81 L267.87,758.80 L268.41,756.80 L268.94,754.79 L269.47,752.78 L269.98,750.77 L270.49,748.76 L270.98,746.75 L271.47,744.74 L271.94,742.74 L272.41,740.73 L272.87,738.72 L273.31,736.71 L273.74,734.70 L274.16,732.69 L274.57,730.69 L274.97,728.68 L275.35,726.67 L275.72,724.66 L276.07,722.65 L276.41,720.64 L276.74,718.63 L277.05,716.63 L277.34,714.62 L277.62,712.61 L277.90,710.60 Z" fill="#00C6F6" stroke="#000" stroke-width="1.45" stroke-linejoin="round"/>
<line x1="282.90" y1="710.60" x2="282.90" y2="1088.20" stroke="#000" stroke-width="1.15"/>
<rect x="279.46" y="861.80" width="6.88" height="130.90" fill="#000"/>
<ellipse cx="282.90" cy="916.20" rx="4.51" ry="5.50" fill="#fff"/>
<path d="M395.90,739.20 L409.90,739.20 L410.35,741.21 L410.78,743.21 L411.20,745.22 L411.60,747.22 L411.99,749.23 L412.36,751.23 L412.72,753.24 L413.07,755.24 L413.41,757.25 L413.74,759.25 L414.06,761.26 L414.37,763.26 L414.68,765.27 L414.98,767.27 L415.29,769.28 L415.58,771.28 L415.88,773.29 L416.18,775.29 L416.48,777.30 L416.78,779.30 L417.09,781.31 L417.40,783.31 L417.71,785.32 L418.03,787.32 L418.36,789.33 L418.71,791.34 L419.06,793.34 L419.42,795.35 L419.79,797.35 L420.18,799.36 L420.59,801.36 L421.01,803.37 L421.45,805.37 L421.90,807.38 L422.38,809.38 L422.88,811.39 L423.40,813.39 L423.94,815.40 L424.51,817.40 L425.10,819.41 L425.72,821.41 L426.36,823.42 L427.03,825.42 L427.71,827.43 L428.41,829.43 L429.13,831.44 L429.87,833.44 L430.61,835.45 L431.37,837.45 L432.13,839.46 L432.90,841.47 L433.67,843.47 L434.45,845.48 L435.22,847.48 L436.00,849.49 L436.76,851.49 L437.53,853.50 L438.28,855.50 L439.02,857.51 L439.76,859.51 L440.47,861.52 L441.17,863.52 L441.86,865.53 L442.52,867.53 L443.16,869.54 L443.77,871.54 L444.36,873.55 L444.92,875.55 L445.45,877.56 L445.95,879.56 L446.42,881.57 L446.85,883.57 L447.26,885.58 L447.64,887.58 L448.00,889.59 L448.33,891.60 L448.64,893.60 L448.92,895.61 L449.18,897.61 L449.41,899.62 L449.63,901.62 L449.83,903.63 L450.01,905.63 L450.17,907.64 L450.32,909.64 L450.45,911.65 L450.56,913.65 L450.67,915.66 L450.75,917.66 L450.82,919.67 L450.88,921.67 L450.92,923.68 L450.95,925.68 L450.96,927.69 L450.97,929.69 L450.95,931.70 L450.92,933.70 L450.88,935.71 L450.83,937.72 L450.76,939.72 L450.68,941.73 L450.59,943.73 L450.48,945.74 L450.36,947.74 L450.23,949.75 L450.09,951.75 L449.93,953.76 L449.77,955.76 L449.59,957.77 L449.39,959.77 L449.19,961.78 L448.98,963.78 L448.75,965.79 L448.51,967.79 L448.26,969.80 L448.00,971.80 L447.72,973.81 L447.43,975.81 L447.12,977.82 L446.79,979.82 L446.45,981.83 L446.08,983.83 L445.70,985.84 L445.29,987.85 L444.86,989.85 L444.40,991.86 L443.92,993.86 L443.42,995.87 L442.88,997.87 L442.32,999.88 L441.73,1001.88 L441.11,1003.89 L440.46,1005.89 L439.77,1007.90 L439.06,1009.90 L438.32,1011.91 L437.56,1013.91 L436.78,1015.92 L435.98,1017.92 L435.16,1019.93 L434.33,1021.93 L433.49,1023.94 L432.64,1025.94 L431.78,1027.95 L430.93,1029.95 L430.07,1031.96 L429.21,1033.96 L428.36,1035.97 L427.51,1037.98 L426.67,1039.98 L425.84,1041.99 L425.03,1043.99 L424.24,1046.00 L423.46,1048.00 L422.69,1050.01 L421.94,1052.01 L421.21,1054.02 L420.49,1056.02 L419.79,1058.03 L419.10,1060.03 L418.43,1062.04 L417.77,1064.04 L417.13,1066.05 L416.50,1068.05 L415.88,1070.06 L415.28,1072.06 L414.68,1074.07 L414.10,1076.07 L413.53,1078.08 L412.96,1080.08 L412.40,1082.09 L411.85,1084.09 L411.30,1086.10 L394.50,1086.10 L393.95,1084.09 L393.40,1082.09 L392.84,1080.08 L392.27,1078.08 L391.70,1076.07 L391.12,1074.07 L390.52,1072.06 L389.92,1070.06 L389.30,1068.05 L388.67,1066.05 L388.03,1064.04 L387.37,1062.04 L386.70,1060.03 L386.01,1058.03 L385.31,1056.02 L384.59,1054.02 L383.86,1052.01 L383.11,1050.01 L382.34,1048.00 L381.56,1046.00 L380.77,1043.99 L379.96,1041.99 L379.13,1039.98 L378.29,1037.98 L377.44,1035.97 L376.59,1033.96 L375.73,1031.96 L374.87,1029.95 L374.02,1027.95 L373.16,1025.94 L372.31,1023.94 L371.47,1021.93 L370.64,1019.93 L369.82,1017.92 L369.02,1015.92 L368.24,1013.91 L367.48,1011.91 L366.74,1009.90 L366.03,1007.90 L365.34,1005.89 L364.69,1003.89 L364.07,1001.88 L363.48,999.88 L362.92,997.87 L362.38,995.87 L361.88,993.86 L361.40,991.86 L360.94,989.85 L360.51,987.85 L360.10,985.84 L359.72,983.83 L359.35,981.83 L359.01,979.82 L358.68,977.82 L358.37,975.81 L358.08,973.81 L357.80,971.80 L357.54,969.80 L357.29,967.79 L357.05,965.79 L356.82,963.78 L356.61,961.78 L356.41,959.77 L356.21,957.77 L356.03,955.76 L355.87,953.76 L355.71,951.75 L355.57,949.75 L355.44,947.74 L355.32,945.74 L355.21,943.73 L355.12,941.73 L355.04,939.72 L354.97,937.72 L354.92,935.71 L354.88,933.70 L354.85,931.70 L354.83,929.69 L354.84,927.69 L354.85,925.68 L354.88,923.68 L354.92,921.67 L354.98,919.67 L355.05,917.66 L355.13,915.66 L355.24,913.65 L355.35,911.65 L355.48,909.64 L355.63,907.64 L355.79,905.63 L355.97,903.63 L356.17,901.62 L356.39,899.62 L356.62,897.61 L356.88,895.61 L357.16,893.60 L357.47,891.60 L357.80,889.59 L358.16,887.58 L358.54,885.58 L358.95,883.57 L359.38,881.57 L359.85,879.56 L360.35,877.56 L360.88,875.55 L361.44,873.55 L362.03,871.54 L362.64,869.54 L363.28,867.53 L363.94,865.53 L364.63,863.52 L365.33,861.52 L366.04,859.51 L366.78,857.51 L367.52,855.50 L368.27,853.50 L369.04,851.49 L369.80,849.49 L370.58,847.48 L371.35,845.48 L372.13,843.47 L372.90,841.47 L373.67,839.46 L374.43,837.45 L375.19,835.45 L375.93,833.44 L376.67,831.44 L377.39,829.43 L378.09,827.43 L378.77,825.42 L379.44,823.42 L380.08,821.41 L380.70,819.41 L381.29,817.40 L381.86,815.40 L382.40,813.39 L382.92,811.39 L383.42,809.38 L383.90,807.38 L384.35,805.37 L384.79,803.37 L385.21,801.36 L385.62,799.36 L386.01,797.35 L386.38,795.35 L386.74,793.34 L387.09,791.34 L387.44,789.33 L387.77,787.32 L388.09,785.32 L388.40,783.31 L388.71,781.31 L389.02,779.30 L389.32,777.30 L389.62,775.29 L389.92,773.29 L390.22,771.28 L390.51,769.28 L390.82,767.27 L391.12,765.27 L391.43,763.26 L391.74,761.26 L392.06,759.25 L392.39,757.25 L392.73,755.24 L393.08,753.24 L393.44,751.23 L393.81,749.23 L394.20,747.22 L394.60,745.22 L395.02,743.21 L395.45,741.21 L395.90,739.20 Z" fill="#00C6F6" stroke="#000" stroke-width="1.45" stroke-linejoin="round"/>
<line x1="402.90" y1="739.20" x2="402.90" y2="1086.10" stroke="#000" stroke-width="1.15"/>
<rect x="399.46" y="873.60" width="6.88" height="113.30" fill="#000"/>
<ellipse cx="402.90" cy="924.50" rx="4.51" ry="5.50" fill="#fff"/>
<path d="M511.10,719.90 L533.70,719.90 L534.09,721.91 L534.52,723.91 L534.97,725.92 L535.45,727.93 L535.93,729.93 L536.44,731.94 L536.95,733.95 L537.48,735.95 L538.02,737.96 L538.57,739.97 L539.12,741.97 L539.68,743.98 L540.24,745.99 L540.80,747.99 L541.37,750.00 L541.94,752.01 L542.51,754.01 L543.08,756.02 L543.65,758.03 L544.22,760.03 L544.79,762.04 L545.36,764.05 L545.92,766.05 L546.49,768.06 L547.05,770.06 L547.61,772.07 L548.16,774.08 L548.71,776.08 L549.25,778.09 L549.79,780.10 L550.32,782.10 L550.85,784.11 L551.36,786.12 L551.88,788.12 L552.38,790.13 L552.88,792.14 L553.36,794.14 L553.85,796.15 L554.32,798.16 L554.78,800.16 L555.24,802.17 L555.69,804.18 L556.13,806.18 L556.56,808.19 L556.98,810.20 L557.39,812.20 L557.79,814.21 L558.18,816.22 L558.56,818.22 L558.94,820.23 L559.30,822.24 L559.65,824.24 L560.00,826.25 L560.34,828.26 L560.68,830.26 L561.02,832.27 L561.36,834.28 L561.71,836.28 L562.05,838.29 L562.40,840.30 L562.76,842.30 L563.12,844.31 L563.48,846.32 L563.84,848.32 L564.20,850.33 L564.57,852.34 L564.93,854.34 L565.29,856.35 L565.64,858.35 L565.99,860.36 L566.34,862.37 L566.68,864.37 L567.01,866.38 L567.33,868.39 L567.65,870.39 L567.95,872.40 L568.25,874.41 L568.53,876.41 L568.80,878.42 L569.05,880.43 L569.29,882.43 L569.52,884.44 L569.73,886.45 L569.91,888.45 L570.08,890.46 L570.24,892.47 L570.37,894.47 L570.47,896.48 L570.56,898.49 L570.62,900.49 L570.66,902.50 L570.67,904.51 L570.65,906.51 L570.61,908.52 L570.54,910.53 L570.45,912.53 L570.33,914.54 L570.19,916.55 L570.02,918.55 L569.83,920.56 L569.62,922.57 L569.39,924.57 L569.13,926.58 L568.86,928.59 L568.56,930.59 L568.25,932.60 L567.92,934.61 L567.57,936.61 L567.20,938.62 L566.81,940.63 L566.41,942.63 L566.00,944.64 L565.57,946.65 L565.12,948.65 L564.66,950.66 L564.19,952.66 L563.71,954.67 L563.21,956.68 L562.70,958.68 L562.19,960.69 L561.66,962.70 L561.13,964.70 L560.58,966.71 L560.03,968.72 L559.47,970.72 L558.90,972.73 L558.33,974.74 L557.76,976.74 L557.19,978.75 L556.62,980.76 L556.05,982.76 L555.48,984.77 L554.92,986.78 L554.36,988.78 L553.82,990.79 L553.28,992.80 L552.75,994.80 L552.24,996.81 L551.75,998.82 L551.27,1000.82 L550.80,1002.83 L550.36,1004.84 L549.94,1006.84 L549.54,1008.85 L549.15,1010.86 L548.79,1012.86 L548.44,1014.87 L548.11,1016.88 L547.79,1018.88 L547.49,1020.89 L547.20,1022.90 L546.93,1024.90 L546.66,1026.91 L546.41,1028.92 L546.16,1030.92 L545.93,1032.93 L545.70,1034.94 L545.48,1036.94 L545.26,1038.95 L545.05,1040.95 L544.85,1042.96 L544.65,1044.97 L544.45,1046.97 L544.26,1048.98 L544.06,1050.99 L543.87,1052.99 L543.68,1055.00 L543.48,1057.01 L543.29,1059.01 L543.09,1061.02 L542.89,1063.03 L542.68,1065.03 L542.47,1067.04 L542.25,1069.05 L542.03,1071.05 L541.80,1073.06 L541.56,1075.07 L541.31,1077.07 L541.05,1079.08 L540.78,1081.09 L540.49,1083.09 L540.20,1085.10 L504.60,1085.10 L504.31,1083.09 L504.02,1081.09 L503.75,1079.08 L503.49,1077.07 L503.24,1075.07 L503.00,1073.06 L502.77,1071.05 L502.55,1069.05 L502.33,1067.04 L502.12,1065.03 L501.91,1063.03 L501.71,1061.02 L501.51,1059.01 L501.32,1057.01 L501.12,1055.00 L500.93,1052.99 L500.74,1050.99 L500.54,1048.98 L500.35,1046.97 L500.15,1044.97 L499.95,1042.96 L499.75,1040.95 L499.54,1038.95 L499.32,1036.94 L499.10,1034.94 L498.87,1032.93 L498.64,1030.92 L498.39,1028.92 L498.14,1026.91 L497.87,1024.90 L497.60,1022.90 L497.31,1020.89 L497.01,1018.88 L496.69,1016.88 L496.36,1014.87 L496.01,1012.86 L495.65,1010.86 L495.26,1008.85 L494.86,1006.84 L494.44,1004.84 L494.00,1002.83 L493.53,1000.82 L493.05,998.82 L492.56,996.81 L492.05,994.80 L491.52,992.80 L490.98,990.79 L490.44,988.78 L489.88,986.78 L489.32,984.77 L488.75,982.76 L488.18,980.76 L487.61,978.75 L487.04,976.74 L486.47,974.74 L485.90,972.73 L485.33,970.72 L484.77,968.72 L484.22,966.71 L483.67,964.70 L483.14,962.70 L482.61,960.69 L482.10,958.68 L481.59,956.68 L481.09,954.67 L480.61,952.66 L480.14,950.66 L479.68,948.65 L479.23,946.65 L478.80,944.64 L478.39,942.63 L477.99,940.63 L477.60,938.62 L477.23,936.61 L476.88,934.61 L476.55,932.60 L476.24,930.59 L475.94,928.59 L475.67,926.58 L475.41,924.57 L475.18,922.57 L474.97,920.56 L474.78,918.55 L474.61,916.55 L474.47,914.54 L474.35,912.53 L474.26,910.53 L474.19,908.52 L474.15,906.51 L474.13,904.51 L474.14,902.50 L474.18,900.49 L474.24,898.49 L474.33,896.48 L474.43,894.47 L474.56,892.47 L474.72,890.46 L474.89,888.45 L475.07,886.45 L475.28,884.44 L475.51,882.43 L475.75,880.43 L476.00,878.42 L476.27,876.41 L476.55,874.41 L476.85,872.40 L477.15,870.39 L477.47,868.39 L477.79,866.38 L478.12,864.37 L478.46,862.37 L478.81,860.36 L479.16,858.35 L479.51,856.35 L479.87,854.34 L480.23,852.34 L480.60,850.33 L480.96,848.32 L481.32,846.32 L481.68,844.31 L482.04,842.30 L482.40,840.30 L482.75,838.29 L483.09,836.28 L483.44,834.28 L483.78,832.27 L484.12,830.26 L484.46,828.26 L484.80,826.25 L485.15,824.24 L485.50,822.24 L485.86,820.23 L486.24,818.22 L486.62,816.22 L487.01,814.21 L487.41,812.20 L487.82,810.20 L488.24,808.19 L488.67,806.18 L489.11,804.18 L489.56,802.17 L490.02,800.16 L490.48,798.16 L490.95,796.15 L491.44,794.14 L491.92,792.14 L492.42,790.13 L492.92,788.12 L493.44,786.12 L493.95,784.11 L494.48,782.10 L495.01,780.10 L495.55,778.09 L496.09,776.08 L496.64,774.08 L497.19,772.07 L497.75,770.06 L498.31,768.06 L498.88,766.05 L499.44,764.05 L500.01,762.04 L500.58,760.03 L501.15,758.03 L501.72,756.02 L502.29,754.01 L502.86,752.01 L503.43,750.00 L504.00,747.99 L504.56,745.99 L505.12,743.98 L505.68,741.97 L506.23,739.97 L506.78,737.96 L507.32,735.95 L507.85,733.95 L508.36,731.94 L508.87,729.93 L509.35,727.93 L509.83,725.92 L510.28,723.91 L510.71,721.91 L511.10,719.90 Z" fill="#00C6F6" stroke="#000" stroke-width="1.45" stroke-linejoin="round"/>
<line x1="522.40" y1="719.90" x2="522.40" y2="1085.10" stroke="#000" stroke-width="1.15"/>
<rect x="518.96" y="848.00" width="6.88" height="116.40" fill="#000"/>
<ellipse cx="522.40" cy="908.10" rx="4.51" ry="5.50" fill="#fff"/>
<rect x="115.30" y="1111.10" width="96.00" height="3.40" fill="#000"/>
<rect x="235.10" y="1111.10" width="96.00" height="3.40" fill="#000"/>
<rect x="84.00" y="616.20" width="517.80" height="501.40" fill="none" stroke="#000" stroke-width="1.30"/>
<line x1="73.20" y1="1113.10" x2="84.00" y2="1113.10" stroke="#000" stroke-width="1.30"/>
<text transform="translate(59.30,1113.10) scale(0.910,1) rotate(-90)" font-size="21.20" text-anchor="middle" font-weight="normal">0</text>
<line x1="73.20" y1="1027.30" x2="84.00" y2="1027.30" stroke="#000" stroke-width="1.30"/>
<text transform="translate(59.30,1027.30) scale(0.910,1) rotate(-90)" font-size="21.20" text-anchor="middle" font-weight="normal">1</text>
<line x1="73.20" y1="941.50" x2="84.00" y2="941.50" stroke="#000" stroke-width="1.30"/>
<text transform="translate(59.30,941.50) scale(0.910,1) rotate(-90)" font-size="21.20" text-anchor="middle" font-weight="normal">2</text>
<line x1="73.20" y1="855.70" x2="84.00" y2="855.70" stroke="#000" stroke-width="1.30"/>
<text transform="translate(59.30,855.70) scale(0.910,1) rotate(-90)" font-size="21.20" text-anchor="middle" font-weight="normal">3</text>
<line x1="73.20" y1="769.90" x2="84.00" y2="769.90" stroke="#000" stroke-width="1.30"/>
<text transform="translate(59.30,769.90) scale(0.910,1) rotate(-90)" font-size="21.20" text-anchor="middle" font-weight="normal">4</text>
<line x1="73.20" y1="684.10" x2="84.00" y2="684.10" stroke="#000" stroke-width="1.30"/>
<text transform="translate(59.30,684.10) scale(0.910,1) rotate(-90)" font-size="21.20" text-anchor="middle" font-weight="normal">5</text>
<line x1="163.11" y1="1117.60" x2="163.11" y2="1130.70" stroke="#000" stroke-width="1.30"/>
<text transform="translate(163.11,1163.00) scale(0.820,1)" font-size="21.20" text-anchor="middle" font-weight="normal">Stage I</text>
<line x1="282.97" y1="1117.60" x2="282.97" y2="1130.70" stroke="#000" stroke-width="1.30"/>
<text transform="translate(282.97,1163.00) scale(0.820,1)" font-size="21.20" text-anchor="middle" font-weight="normal">Stage II</text>
<line x1="402.83" y1="1117.60" x2="402.83" y2="1130.70" stroke="#000" stroke-width="1.30"/>
<text transform="translate(402.83,1163.00) scale(0.820,1)" font-size="21.20" text-anchor="middle" font-weight="normal">Stage III</text>
<line x1="522.69" y1="1117.60" x2="522.69" y2="1130.70" stroke="#000" stroke-width="1.30"/>
<text transform="translate(522.69,1163.00) scale(0.820,1)" font-size="21.20" text-anchor="middle" font-weight="normal">Stage IV</text>
<text transform="translate(571.80,643.20) scale(0.820,1)" font-size="23.10" text-anchor="end" font-weight="normal">F value = 3.43</text>
<text transform="translate(571.80,671.20) scale(0.820,1)" font-size="23.10" text-anchor="end" font-weight="normal">Pr(&gt;F) = 0.017</text>
<text transform="translate(8.25,630.10) scale(0.900,1)" font-size="47.00" font-weight="bold" style="stroke:none">C</text>
</g>
<g id="pD">
<path d="M853.50,684.80 L856.50,684.80 L856.48,686.81 L856.48,688.81 L856.47,690.82 L856.46,692.83 L856.45,694.84 L856.44,696.84 L856.43,698.85 L856.42,700.86 L856.41,702.87 L856.41,704.88 L856.41,706.88 L856.41,708.89 L856.42,710.90 L856.43,712.90 L856.45,714.91 L856.48,716.92 L856.51,718.93 L856.56,720.93 L856.61,722.94 L856.68,724.95 L856.75,726.96 L856.84,728.96 L856.94,730.97 L857.06,732.98 L857.19,734.99 L857.33,736.99 L857.49,739.00 L857.67,741.01 L857.87,743.02 L858.08,745.02 L858.32,747.03 L858.57,749.04 L858.84,751.05 L859.13,753.05 L859.44,755.06 L859.77,757.07 L860.12,759.08 L860.48,761.08 L860.86,763.09 L861.25,765.10 L861.66,767.11 L862.08,769.12 L862.52,771.12 L862.97,773.13 L863.44,775.14 L863.91,777.14 L864.40,779.15 L864.90,781.16 L865.41,783.17 L865.93,785.17 L866.46,787.18 L866.99,789.19 L867.54,791.20 L868.10,793.20 L868.66,795.21 L869.23,797.22 L869.80,799.23 L870.38,801.23 L870.97,803.24 L871.56,805.25 L872.15,807.26 L872.75,809.26 L873.35,811.27 L873.95,813.28 L874.55,815.29 L875.16,817.29 L875.77,819.30 L876.37,821.31 L876.98,823.32 L877.58,825.32 L878.19,827.33 L878.79,829.34 L879.40,831.35 L880.00,833.35 L880.61,835.36 L881.22,837.37 L881.84,839.38 L882.46,841.38 L883.08,843.39 L883.71,845.40 L884.35,847.41 L885.00,849.41 L885.65,851.42 L886.31,853.43 L886.99,855.44 L887.67,857.44 L888.37,859.45 L889.07,861.46 L889.79,863.47 L890.50,865.47 L891.22,867.48 L891.92,869.49 L892.61,871.50 L893.28,873.50 L893.92,875.51 L894.52,877.52 L895.09,879.53 L895.61,881.53 L896.09,883.54 L896.53,885.55 L896.94,887.56 L897.31,889.56 L897.66,891.57 L897.98,893.58 L898.28,895.59 L898.57,897.59 L898.85,899.60 L899.12,901.61 L899.38,903.62 L899.65,905.62 L899.91,907.63 L900.19,909.64 L900.47,911.65 L900.75,913.65 L901.04,915.66 L901.32,917.67 L901.59,919.68 L901.85,921.68 L902.10,923.69 L902.33,925.70 L902.54,927.71 L902.73,929.71 L902.90,931.72 L903.04,933.73 L903.14,935.74 L903.21,937.74 L903.24,939.75 L903.24,941.76 L903.19,943.77 L903.09,945.77 L902.94,947.78 L902.75,949.79 L902.52,951.80 L902.24,953.80 L901.93,955.81 L901.58,957.82 L901.19,959.83 L900.78,961.83 L900.33,963.84 L899.85,965.85 L899.34,967.86 L898.82,969.87 L898.26,971.87 L897.69,973.88 L897.10,975.89 L896.50,977.89 L895.88,979.90 L895.24,981.91 L894.60,983.92 L893.94,985.92 L893.28,987.93 L892.61,989.94 L891.93,991.95 L891.24,993.95 L890.55,995.96 L889.85,997.97 L889.14,999.98 L888.42,1001.98 L887.70,1003.99 L886.98,1006.00 L886.25,1008.01 L885.52,1010.01 L884.79,1012.02 L884.05,1014.03 L883.31,1016.04 L882.57,1018.04 L881.83,1020.05 L881.08,1022.06 L880.34,1024.07 L879.60,1026.07 L878.86,1028.08 L878.12,1030.09 L877.38,1032.10 L876.65,1034.11 L875.91,1036.11 L875.18,1038.12 L874.46,1040.13 L873.74,1042.13 L873.02,1044.14 L872.32,1046.15 L871.61,1048.16 L870.92,1050.16 L870.23,1052.17 L869.54,1054.18 L868.87,1056.19 L868.21,1058.19 L867.55,1060.20 L866.90,1062.21 L866.27,1064.22 L865.64,1066.22 L865.03,1068.23 L864.43,1070.24 L863.84,1072.25 L863.26,1074.25 L862.70,1076.26 L862.15,1078.27 L861.61,1080.28 L861.09,1082.28 L860.59,1084.29 L860.10,1086.30 L849.90,1086.30 L849.41,1084.29 L848.91,1082.28 L848.39,1080.28 L847.85,1078.27 L847.30,1076.26 L846.74,1074.25 L846.16,1072.25 L845.57,1070.24 L844.97,1068.23 L844.36,1066.22 L843.73,1064.22 L843.10,1062.21 L842.45,1060.20 L841.79,1058.19 L841.13,1056.19 L840.46,1054.18 L839.77,1052.17 L839.08,1050.16 L838.39,1048.16 L837.68,1046.15 L836.98,1044.14 L836.26,1042.13 L835.54,1040.13 L834.82,1038.12 L834.09,1036.11 L833.35,1034.11 L832.62,1032.10 L831.88,1030.09 L831.14,1028.08 L830.40,1026.07 L829.66,1024.07 L828.92,1022.06 L828.17,1020.05 L827.43,1018.04 L826.69,1016.04 L825.95,1014.03 L825.21,1012.02 L824.48,1010.01 L823.75,1008.01 L823.02,1006.00 L822.30,1003.99 L821.58,1001.98 L820.86,999.98 L820.15,997.97 L819.45,995.96 L818.76,993.95 L818.07,991.95 L817.39,989.94 L816.72,987.93 L816.06,985.92 L815.40,983.92 L814.76,981.91 L814.12,979.90 L813.50,977.89 L812.90,975.89 L812.31,973.88 L811.74,971.87 L811.18,969.87 L810.66,967.86 L810.15,965.85 L809.67,963.84 L809.22,961.83 L808.81,959.83 L808.42,957.82 L808.07,955.81 L807.76,953.80 L807.48,951.80 L807.25,949.79 L807.06,947.78 L806.91,945.77 L806.81,943.77 L806.76,941.76 L806.76,939.75 L806.79,937.74 L806.86,935.74 L806.96,933.73 L807.10,931.72 L807.27,929.71 L807.46,927.71 L807.67,925.70 L807.90,923.69 L808.15,921.68 L808.41,919.68 L808.68,917.67 L808.96,915.66 L809.25,913.65 L809.53,911.65 L809.81,909.64 L810.09,907.63 L810.35,905.62 L810.62,903.62 L810.88,901.61 L811.15,899.60 L811.43,897.59 L811.72,895.59 L812.02,893.58 L812.34,891.57 L812.69,889.56 L813.06,887.56 L813.47,885.55 L813.91,883.54 L814.39,881.53 L814.91,879.53 L815.48,877.52 L816.08,875.51 L816.72,873.50 L817.39,871.50 L818.08,869.49 L818.78,867.48 L819.50,865.47 L820.21,863.47 L820.93,861.46 L821.63,859.45 L822.33,857.44 L823.01,855.44 L823.69,853.43 L824.35,851.42 L825.00,849.41 L825.65,847.41 L826.29,845.40 L826.92,843.39 L827.54,841.38 L828.16,839.38 L828.78,837.37 L829.39,835.36 L830.00,833.35 L830.60,831.35 L831.21,829.34 L831.81,827.33 L832.42,825.32 L833.02,823.32 L833.63,821.31 L834.23,819.30 L834.84,817.29 L835.45,815.29 L836.05,813.28 L836.65,811.27 L837.25,809.26 L837.85,807.26 L838.44,805.25 L839.03,803.24 L839.62,801.23 L840.20,799.23 L840.77,797.22 L841.34,795.21 L841.90,793.20 L842.46,791.20 L843.01,789.19 L843.54,787.18 L844.07,785.17 L844.59,783.17 L845.10,781.16 L845.60,779.15 L846.09,777.14 L846.56,775.14 L847.03,773.13 L847.48,771.12 L847.92,769.12 L848.34,767.11 L848.75,765.10 L849.14,763.09 L849.52,761.08 L849.88,759.08 L850.23,757.07 L850.56,755.06 L850.87,753.05 L851.16,751.05 L851.43,749.04 L851.68,747.03 L851.92,745.02 L852.13,743.02 L852.33,741.01 L852.51,739.00 L852.67,736.99 L852.81,734.99 L852.94,732.98 L853.06,730.97 L853.16,728.96 L853.25,726.96 L853.32,724.95 L853.39,722.94 L853.44,720.93 L853.49,718.93 L853.52,716.92 L853.55,714.91 L853.57,712.90 L853.58,710.90 L853.59,708.89 L853.59,706.88 L853.59,704.88 L853.59,702.87 L853.58,700.86 L853.57,698.85 L853.56,696.84 L853.55,694.84 L853.54,692.83 L853.53,690.82 L853.52,688.81 L853.52,686.81 L853.50,684.80 Z" fill="#00C6F6" stroke="#000" stroke-width="1.45" stroke-linejoin="round"/>
<line x1="855.00" y1="719.10" x2="855.00" y2="1086.30" stroke="#000" stroke-width="1.15"/>
<rect x="851.55" y="873.70" width="6.90" height="103.20" fill="#000"/>
<ellipse cx="855.00" cy="930.90" rx="4.52" ry="5.51" fill="#fff"/>
<path d="M966.30,763.80 L984.30,763.80 L984.88,765.81 L985.47,767.81 L986.06,769.82 L986.66,771.83 L987.26,773.83 L987.87,775.84 L988.49,777.84 L989.11,779.85 L989.73,781.86 L990.36,783.86 L990.99,785.87 L991.63,787.88 L992.27,789.88 L992.91,791.89 L993.56,793.89 L994.21,795.90 L994.87,797.91 L995.53,799.91 L996.19,801.92 L996.85,803.93 L997.52,805.93 L998.19,807.94 L998.86,809.94 L999.53,811.95 L1000.21,813.96 L1000.88,815.96 L1001.56,817.97 L1002.24,819.98 L1002.92,821.98 L1003.60,823.99 L1004.28,825.99 L1004.97,828.00 L1005.65,830.01 L1006.33,832.01 L1007.02,834.02 L1007.70,836.03 L1008.38,838.03 L1009.06,840.04 L1009.75,842.05 L1010.43,844.05 L1011.11,846.06 L1011.78,848.06 L1012.45,850.07 L1013.12,852.08 L1013.77,854.08 L1014.41,856.09 L1015.05,858.10 L1015.66,860.10 L1016.26,862.11 L1016.85,864.11 L1017.41,866.12 L1017.95,868.13 L1018.47,870.13 L1018.97,872.14 L1019.44,874.15 L1019.88,876.15 L1020.29,878.16 L1020.66,880.16 L1021.01,882.17 L1021.31,884.18 L1021.59,886.18 L1021.82,888.19 L1022.02,890.20 L1022.19,892.20 L1022.31,894.21 L1022.40,896.22 L1022.45,898.22 L1022.46,900.23 L1022.43,902.23 L1022.36,904.24 L1022.25,906.25 L1022.10,908.25 L1021.90,910.26 L1021.67,912.27 L1021.39,914.27 L1021.07,916.28 L1020.71,918.28 L1020.30,920.29 L1019.85,922.30 L1019.36,924.30 L1018.83,926.31 L1018.28,928.32 L1017.69,930.32 L1017.07,932.33 L1016.43,934.33 L1015.77,936.34 L1015.08,938.35 L1014.38,940.35 L1013.66,942.36 L1012.94,944.37 L1012.20,946.37 L1011.45,948.38 L1010.70,950.38 L1009.95,952.39 L1009.20,954.40 L1008.45,956.40 L1007.71,958.41 L1006.98,960.42 L1006.25,962.42 L1005.53,964.43 L1004.82,966.44 L1004.12,968.44 L1003.43,970.45 L1002.76,972.45 L1002.09,974.46 L1001.44,976.47 L1000.81,978.47 L1000.18,980.48 L999.57,982.49 L998.97,984.49 L998.38,986.50 L997.80,988.50 L997.23,990.51 L996.67,992.52 L996.11,994.52 L995.57,996.53 L995.03,998.54 L994.50,1000.54 L993.97,1002.55 L993.45,1004.55 L992.94,1006.56 L992.43,1008.57 L991.92,1010.57 L991.41,1012.58 L990.91,1014.59 L990.41,1016.59 L989.91,1018.60 L989.41,1020.61 L988.92,1022.61 L988.43,1024.62 L987.95,1026.62 L987.47,1028.63 L987.00,1030.64 L986.53,1032.64 L986.07,1034.65 L985.62,1036.66 L985.18,1038.66 L984.75,1040.67 L984.32,1042.67 L983.91,1044.68 L983.50,1046.69 L983.11,1048.69 L982.73,1050.70 L982.36,1052.71 L982.00,1054.71 L981.66,1056.72 L981.33,1058.72 L981.02,1060.73 L980.72,1062.74 L980.44,1064.74 L980.17,1066.75 L979.92,1068.76 L979.69,1070.76 L979.48,1072.77 L979.28,1074.77 L979.11,1076.78 L978.95,1078.79 L978.81,1080.79 L978.70,1082.80 L971.90,1082.80 L971.79,1080.79 L971.65,1078.79 L971.49,1076.78 L971.32,1074.77 L971.12,1072.77 L970.91,1070.76 L970.68,1068.76 L970.43,1066.75 L970.16,1064.74 L969.88,1062.74 L969.58,1060.73 L969.27,1058.72 L968.94,1056.72 L968.60,1054.71 L968.24,1052.71 L967.87,1050.70 L967.49,1048.69 L967.10,1046.69 L966.69,1044.68 L966.28,1042.67 L965.85,1040.67 L965.42,1038.66 L964.98,1036.66 L964.53,1034.65 L964.07,1032.64 L963.60,1030.64 L963.13,1028.63 L962.65,1026.62 L962.17,1024.62 L961.68,1022.61 L961.19,1020.61 L960.69,1018.60 L960.19,1016.59 L959.69,1014.59 L959.19,1012.58 L958.68,1010.57 L958.17,1008.57 L957.66,1006.56 L957.15,1004.55 L956.63,1002.55 L956.10,1000.54 L955.57,998.54 L955.03,996.53 L954.49,994.52 L953.93,992.52 L953.37,990.51 L952.80,988.50 L952.22,986.50 L951.63,984.49 L951.03,982.49 L950.42,980.48 L949.79,978.47 L949.16,976.47 L948.51,974.46 L947.84,972.45 L947.17,970.45 L946.48,968.44 L945.78,966.44 L945.07,964.43 L944.35,962.42 L943.62,960.42 L942.89,958.41 L942.15,956.40 L941.40,954.40 L940.65,952.39 L939.90,950.38 L939.15,948.38 L938.40,946.37 L937.66,944.37 L936.94,942.36 L936.22,940.35 L935.52,938.35 L934.83,936.34 L934.17,934.33 L933.53,932.33 L932.91,930.32 L932.32,928.32 L931.77,926.31 L931.24,924.30 L930.75,922.30 L930.30,920.29 L929.89,918.28 L929.53,916.28 L929.21,914.27 L928.93,912.27 L928.70,910.26 L928.50,908.25 L928.35,906.25 L928.24,904.24 L928.17,902.23 L928.14,900.23 L928.15,898.22 L928.20,896.22 L928.29,894.21 L928.41,892.20 L928.58,890.20 L928.78,888.19 L929.01,886.18 L929.29,884.18 L929.59,882.17 L929.94,880.16 L930.31,878.16 L930.72,876.15 L931.16,874.15 L931.63,872.14 L932.13,870.13 L932.65,868.13 L933.19,866.12 L933.75,864.11 L934.34,862.11 L934.94,860.10 L935.55,858.10 L936.19,856.09 L936.83,854.08 L937.48,852.08 L938.15,850.07 L938.82,848.06 L939.49,846.06 L940.17,844.05 L940.85,842.05 L941.54,840.04 L942.22,838.03 L942.90,836.03 L943.58,834.02 L944.27,832.01 L944.95,830.01 L945.63,828.00 L946.32,825.99 L947.00,823.99 L947.68,821.98 L948.36,819.98 L949.04,817.97 L949.72,815.96 L950.39,813.96 L951.07,811.95 L951.74,809.94 L952.41,807.94 L953.08,805.93 L953.75,803.93 L954.41,801.92 L955.07,799.91 L955.73,797.91 L956.39,795.90 L957.04,793.89 L957.69,791.89 L958.33,789.88 L958.97,787.88 L959.61,785.87 L960.24,783.86 L960.87,781.86 L961.49,779.85 L962.11,777.84 L962.73,775.84 L963.34,773.83 L963.94,771.83 L964.54,769.82 L965.13,767.81 L965.72,765.81 L966.30,763.80 Z" fill="#00C6F6" stroke="#000" stroke-width="1.45" stroke-linejoin="round"/>
<line x1="975.30" y1="763.80" x2="975.30" y2="1082.80" stroke="#000" stroke-width="1.15"/>
<rect x="971.85" y="854.30" width="6.90" height="95.30" fill="#000"/>
<ellipse cx="975.30" cy="902.40" rx="4.52" ry="5.51" fill="#fff"/>
<path d="M1084.40,770.20 L1106.60,770.20 L1107.29,772.20 L1108.00,774.20 L1108.73,776.20 L1109.48,778.20 L1110.24,780.20 L1111.03,782.20 L1111.83,784.20 L1112.64,786.20 L1113.47,788.20 L1114.31,790.20 L1115.15,792.20 L1116.01,794.20 L1116.88,796.20 L1117.75,798.20 L1118.62,800.20 L1119.50,802.20 L1120.38,804.20 L1121.27,806.20 L1122.15,808.20 L1123.03,810.20 L1123.91,812.20 L1124.78,814.20 L1125.65,816.20 L1126.50,818.20 L1127.36,820.20 L1128.20,822.20 L1129.03,824.20 L1129.84,826.20 L1130.65,828.20 L1131.43,830.20 L1132.21,832.20 L1132.96,834.20 L1133.69,836.20 L1134.41,838.20 L1135.10,840.20 L1135.77,842.20 L1136.41,844.20 L1137.03,846.20 L1137.62,848.20 L1138.18,850.20 L1138.72,852.20 L1139.23,854.20 L1139.72,856.20 L1140.17,858.20 L1140.60,860.20 L1140.99,862.20 L1141.36,864.20 L1141.70,866.20 L1142.00,868.20 L1142.28,870.20 L1142.52,872.20 L1142.73,874.20 L1142.91,876.20 L1143.06,878.20 L1143.17,880.20 L1143.25,882.20 L1143.30,884.20 L1143.31,886.20 L1143.28,888.20 L1143.22,890.20 L1143.12,892.20 L1142.99,894.20 L1142.82,896.20 L1142.61,898.20 L1142.36,900.20 L1142.08,902.20 L1141.76,904.20 L1141.39,906.20 L1140.99,908.20 L1140.55,910.20 L1140.07,912.20 L1139.54,914.20 L1138.98,916.20 L1138.37,918.20 L1137.72,920.20 L1137.03,922.20 L1136.31,924.20 L1135.55,926.20 L1134.76,928.20 L1133.94,930.20 L1133.10,932.20 L1132.24,934.20 L1131.36,936.20 L1130.46,938.20 L1129.55,940.20 L1128.63,942.20 L1127.70,944.20 L1126.77,946.20 L1125.84,948.20 L1124.90,950.20 L1123.98,952.20 L1123.06,954.20 L1122.15,956.20 L1121.26,958.20 L1120.37,960.20 L1119.51,962.20 L1118.66,964.20 L1117.82,966.20 L1117.00,968.20 L1116.20,970.20 L1115.41,972.20 L1114.65,974.20 L1113.90,976.20 L1113.17,978.20 L1112.46,980.20 L1111.77,982.20 L1111.10,984.20 L1110.45,986.20 L1109.83,988.20 L1109.22,990.20 L1108.64,992.20 L1108.09,994.20 L1107.55,996.20 L1107.05,998.20 L1106.56,1000.20 L1106.10,1002.20 L1105.65,1004.20 L1105.23,1006.20 L1104.83,1008.20 L1104.45,1010.20 L1104.09,1012.20 L1103.75,1014.20 L1103.43,1016.20 L1103.12,1018.20 L1102.83,1020.20 L1102.56,1022.20 L1102.30,1024.20 L1102.05,1026.20 L1101.82,1028.20 L1101.60,1030.20 L1101.40,1032.20 L1101.21,1034.20 L1101.03,1036.20 L1100.86,1038.20 L1100.70,1040.20 L1100.55,1042.20 L1100.41,1044.20 L1100.27,1046.20 L1100.15,1048.20 L1100.03,1050.20 L1099.92,1052.20 L1099.81,1054.20 L1099.71,1056.20 L1099.61,1058.20 L1099.52,1060.20 L1099.43,1062.20 L1099.34,1064.20 L1099.25,1066.20 L1099.17,1068.20 L1099.08,1070.20 L1099.00,1072.20 L1092.00,1072.20 L1091.92,1070.20 L1091.83,1068.20 L1091.75,1066.20 L1091.66,1064.20 L1091.57,1062.20 L1091.48,1060.20 L1091.39,1058.20 L1091.29,1056.20 L1091.19,1054.20 L1091.08,1052.20 L1090.97,1050.20 L1090.85,1048.20 L1090.73,1046.20 L1090.59,1044.20 L1090.45,1042.20 L1090.30,1040.20 L1090.14,1038.20 L1089.97,1036.20 L1089.79,1034.20 L1089.60,1032.20 L1089.40,1030.20 L1089.18,1028.20 L1088.95,1026.20 L1088.70,1024.20 L1088.44,1022.20 L1088.17,1020.20 L1087.88,1018.20 L1087.57,1016.20 L1087.25,1014.20 L1086.91,1012.20 L1086.55,1010.20 L1086.17,1008.20 L1085.77,1006.20 L1085.35,1004.20 L1084.90,1002.20 L1084.44,1000.20 L1083.95,998.20 L1083.45,996.20 L1082.91,994.20 L1082.36,992.20 L1081.78,990.20 L1081.17,988.20 L1080.55,986.20 L1079.90,984.20 L1079.23,982.20 L1078.54,980.20 L1077.83,978.20 L1077.10,976.20 L1076.35,974.20 L1075.59,972.20 L1074.80,970.20 L1074.00,968.20 L1073.18,966.20 L1072.34,964.20 L1071.49,962.20 L1070.63,960.20 L1069.74,958.20 L1068.85,956.20 L1067.94,954.20 L1067.02,952.20 L1066.10,950.20 L1065.16,948.20 L1064.23,946.20 L1063.30,944.20 L1062.37,942.20 L1061.45,940.20 L1060.54,938.20 L1059.64,936.20 L1058.76,934.20 L1057.90,932.20 L1057.06,930.20 L1056.24,928.20 L1055.45,926.20 L1054.69,924.20 L1053.97,922.20 L1053.28,920.20 L1052.63,918.20 L1052.02,916.20 L1051.46,914.20 L1050.93,912.20 L1050.45,910.20 L1050.01,908.20 L1049.61,906.20 L1049.24,904.20 L1048.92,902.20 L1048.64,900.20 L1048.39,898.20 L1048.18,896.20 L1048.01,894.20 L1047.88,892.20 L1047.78,890.20 L1047.72,888.20 L1047.69,886.20 L1047.70,884.20 L1047.75,882.20 L1047.83,880.20 L1047.94,878.20 L1048.09,876.20 L1048.27,874.20 L1048.48,872.20 L1048.72,870.20 L1049.00,868.20 L1049.30,866.20 L1049.64,864.20 L1050.01,862.20 L1050.40,860.20 L1050.83,858.20 L1051.28,856.20 L1051.77,854.20 L1052.28,852.20 L1052.82,850.20 L1053.38,848.20 L1053.97,846.20 L1054.59,844.20 L1055.23,842.20 L1055.90,840.20 L1056.59,838.20 L1057.31,836.20 L1058.04,834.20 L1058.79,832.20 L1059.57,830.20 L1060.35,828.20 L1061.16,826.20 L1061.97,824.20 L1062.80,822.20 L1063.64,820.20 L1064.50,818.20 L1065.35,816.20 L1066.22,814.20 L1067.09,812.20 L1067.97,810.20 L1068.85,808.20 L1069.73,806.20 L1070.62,804.20 L1071.50,802.20 L1072.38,800.20 L1073.25,798.20 L1074.12,796.20 L1074.99,794.20 L1075.85,792.20 L1076.69,790.20 L1077.53,788.20 L1078.36,786.20 L1079.17,784.20 L1079.97,782.20 L1080.76,780.20 L1081.52,778.20 L1082.27,776.20 L1083.00,774.20 L1083.71,772.20 L1084.40,770.20 Z" fill="#00C6F6" stroke="#000" stroke-width="1.45" stroke-linejoin="round"/>
<line x1="1095.50" y1="770.20" x2="1095.50" y2="1056.10" stroke="#000" stroke-width="1.15"/>
<rect x="1092.05" y="845.70" width="6.90" height="84.00" fill="#000"/>
<ellipse cx="1095.50" cy="886.10" rx="4.52" ry="5.51" fill="#fff"/>
<path d="M1211.40,680.60 L1219.60,680.60 L1219.60,682.61 L1219.60,684.61 L1219.62,686.62 L1219.66,688.63 L1219.71,690.63 L1219.79,692.64 L1219.88,694.65 L1219.98,696.65 L1220.11,698.66 L1220.25,700.67 L1220.41,702.67 L1220.58,704.68 L1220.77,706.68 L1220.98,708.69 L1221.20,710.70 L1221.44,712.70 L1221.69,714.71 L1221.96,716.72 L1222.25,718.72 L1222.55,720.73 L1222.87,722.74 L1223.20,724.74 L1223.54,726.75 L1223.90,728.76 L1224.28,730.76 L1224.66,732.77 L1225.07,734.78 L1225.48,736.78 L1225.91,738.79 L1226.36,740.80 L1226.82,742.80 L1227.29,744.81 L1227.77,746.81 L1228.27,748.82 L1228.78,750.83 L1229.30,752.83 L1229.83,754.84 L1230.38,756.85 L1230.94,758.85 L1231.51,760.86 L1232.10,762.87 L1232.69,764.87 L1233.30,766.88 L1233.92,768.89 L1234.55,770.89 L1235.19,772.90 L1235.84,774.91 L1236.50,776.91 L1237.17,778.92 L1237.86,780.93 L1238.55,782.93 L1239.25,784.94 L1239.97,786.94 L1240.69,788.95 L1241.42,790.96 L1242.16,792.96 L1242.90,794.97 L1243.65,796.98 L1244.40,798.98 L1245.15,800.99 L1245.91,803.00 L1246.66,805.00 L1247.42,807.01 L1248.17,809.02 L1248.92,811.02 L1249.66,813.03 L1250.40,815.04 L1251.13,817.04 L1251.85,819.05 L1252.57,821.06 L1253.27,823.06 L1253.96,825.07 L1254.64,827.07 L1255.31,829.08 L1255.96,831.09 L1256.60,833.09 L1257.22,835.10 L1257.82,837.11 L1258.40,839.11 L1258.96,841.12 L1259.50,843.13 L1260.01,845.13 L1260.50,847.14 L1260.97,849.15 L1261.41,851.15 L1261.82,853.16 L1262.21,855.17 L1262.57,857.17 L1262.89,859.18 L1263.18,861.19 L1263.44,863.19 L1263.67,865.20 L1263.86,867.20 L1264.01,869.21 L1264.13,871.22 L1264.21,873.22 L1264.24,875.23 L1264.24,877.24 L1264.19,879.24 L1264.10,881.25 L1263.97,883.26 L1263.80,885.26 L1263.58,887.27 L1263.32,889.28 L1263.03,891.28 L1262.69,893.29 L1262.32,895.30 L1261.92,897.30 L1261.47,899.31 L1261.00,901.32 L1260.49,903.32 L1259.95,905.33 L1259.39,907.33 L1258.79,909.34 L1258.16,911.35 L1257.51,913.35 L1256.84,915.36 L1256.14,917.37 L1255.41,919.37 L1254.67,921.38 L1253.91,923.39 L1253.14,925.39 L1252.36,927.40 L1251.58,929.41 L1250.81,931.41 L1250.04,933.42 L1249.28,935.43 L1248.54,937.43 L1247.81,939.44 L1247.11,941.45 L1246.42,943.45 L1245.75,945.46 L1245.10,947.46 L1244.46,949.47 L1243.85,951.48 L1243.25,953.48 L1242.66,955.49 L1242.09,957.50 L1241.54,959.50 L1241.01,961.51 L1240.48,963.52 L1239.98,965.52 L1239.48,967.53 L1239.01,969.54 L1238.54,971.54 L1238.09,973.55 L1237.65,975.56 L1237.23,977.56 L1236.82,979.57 L1236.42,981.58 L1236.03,983.58 L1235.65,985.59 L1235.29,987.59 L1234.93,989.60 L1234.59,991.61 L1234.25,993.61 L1233.93,995.62 L1233.62,997.63 L1233.31,999.63 L1233.02,1001.64 L1232.73,1003.65 L1232.45,1005.65 L1232.18,1007.66 L1231.92,1009.67 L1231.66,1011.67 L1231.41,1013.68 L1231.17,1015.69 L1230.94,1017.69 L1230.71,1019.70 L1230.48,1021.71 L1230.26,1023.71 L1230.05,1025.72 L1229.84,1027.72 L1229.64,1029.73 L1229.44,1031.74 L1229.24,1033.74 L1229.05,1035.75 L1228.86,1037.76 L1228.67,1039.76 L1228.49,1041.77 L1228.31,1043.78 L1228.13,1045.78 L1227.95,1047.79 L1227.77,1049.80 L1227.59,1051.80 L1227.41,1053.81 L1227.24,1055.82 L1227.06,1057.82 L1226.88,1059.83 L1226.70,1061.84 L1226.52,1063.84 L1226.34,1065.85 L1226.16,1067.85 L1225.98,1069.86 L1225.79,1071.87 L1225.60,1073.87 L1225.40,1075.88 L1225.21,1077.89 L1225.01,1079.89 L1224.80,1081.90 L1206.20,1081.90 L1205.99,1079.89 L1205.79,1077.89 L1205.60,1075.88 L1205.40,1073.87 L1205.21,1071.87 L1205.02,1069.86 L1204.84,1067.85 L1204.66,1065.85 L1204.48,1063.84 L1204.30,1061.84 L1204.12,1059.83 L1203.94,1057.82 L1203.76,1055.82 L1203.59,1053.81 L1203.41,1051.80 L1203.23,1049.80 L1203.05,1047.79 L1202.87,1045.78 L1202.69,1043.78 L1202.51,1041.77 L1202.33,1039.76 L1202.14,1037.76 L1201.95,1035.75 L1201.76,1033.74 L1201.56,1031.74 L1201.36,1029.73 L1201.16,1027.72 L1200.95,1025.72 L1200.74,1023.71 L1200.52,1021.71 L1200.29,1019.70 L1200.06,1017.69 L1199.83,1015.69 L1199.59,1013.68 L1199.34,1011.67 L1199.08,1009.67 L1198.82,1007.66 L1198.55,1005.65 L1198.27,1003.65 L1197.98,1001.64 L1197.69,999.63 L1197.38,997.63 L1197.07,995.62 L1196.75,993.61 L1196.41,991.61 L1196.07,989.60 L1195.71,987.59 L1195.35,985.59 L1194.97,983.58 L1194.58,981.58 L1194.18,979.57 L1193.77,977.56 L1193.35,975.56 L1192.91,973.55 L1192.46,971.54 L1191.99,969.54 L1191.52,967.53 L1191.02,965.52 L1190.52,963.52 L1189.99,961.51 L1189.46,959.50 L1188.91,957.50 L1188.34,955.49 L1187.75,953.48 L1187.15,951.48 L1186.54,949.47 L1185.90,947.46 L1185.25,945.46 L1184.58,943.45 L1183.89,941.45 L1183.19,939.44 L1182.46,937.43 L1181.72,935.43 L1180.96,933.42 L1180.19,931.41 L1179.42,929.41 L1178.64,927.40 L1177.86,925.39 L1177.09,923.39 L1176.33,921.38 L1175.59,919.37 L1174.86,917.37 L1174.16,915.36 L1173.49,913.35 L1172.84,911.35 L1172.21,909.34 L1171.61,907.33 L1171.05,905.33 L1170.51,903.32 L1170.00,901.32 L1169.53,899.31 L1169.08,897.30 L1168.68,895.30 L1168.31,893.29 L1167.97,891.28 L1167.68,889.28 L1167.42,887.27 L1167.20,885.26 L1167.03,883.26 L1166.90,881.25 L1166.81,879.24 L1166.76,877.24 L1166.76,875.23 L1166.79,873.22 L1166.87,871.22 L1166.99,869.21 L1167.14,867.20 L1167.33,865.20 L1167.56,863.19 L1167.82,861.19 L1168.11,859.18 L1168.43,857.17 L1168.79,855.17 L1169.18,853.16 L1169.59,851.15 L1170.03,849.15 L1170.50,847.14 L1170.99,845.13 L1171.50,843.13 L1172.04,841.12 L1172.60,839.11 L1173.18,837.11 L1173.78,835.10 L1174.40,833.09 L1175.04,831.09 L1175.69,829.08 L1176.36,827.07 L1177.04,825.07 L1177.73,823.06 L1178.43,821.06 L1179.15,819.05 L1179.87,817.04 L1180.60,815.04 L1181.34,813.03 L1182.08,811.02 L1182.83,809.02 L1183.58,807.01 L1184.34,805.00 L1185.09,803.00 L1185.85,800.99 L1186.60,798.98 L1187.35,796.98 L1188.10,794.97 L1188.84,792.96 L1189.58,790.96 L1190.31,788.95 L1191.03,786.94 L1191.75,784.94 L1192.45,782.93 L1193.14,780.93 L1193.83,778.92 L1194.50,776.91 L1195.16,774.91 L1195.81,772.90 L1196.45,770.89 L1197.08,768.89 L1197.70,766.88 L1198.31,764.87 L1198.90,762.87 L1199.49,760.86 L1200.06,758.85 L1200.62,756.85 L1201.17,754.84 L1201.70,752.83 L1202.22,750.83 L1202.73,748.82 L1203.23,746.81 L1203.71,744.81 L1204.18,742.80 L1204.64,740.80 L1205.09,738.79 L1205.52,736.78 L1205.93,734.78 L1206.34,732.77 L1206.72,730.76 L1207.10,728.76 L1207.46,726.75 L1207.80,724.74 L1208.13,722.74 L1208.45,720.73 L1208.75,718.72 L1209.04,716.72 L1209.31,714.71 L1209.56,712.70 L1209.80,710.70 L1210.02,708.69 L1210.23,706.68 L1210.42,704.68 L1210.59,702.67 L1210.75,700.67 L1210.89,698.66 L1211.02,696.65 L1211.12,694.65 L1211.21,692.64 L1211.29,690.63 L1211.34,688.63 L1211.38,686.62 L1211.40,684.61 L1211.40,682.61 L1211.40,680.60 Z" fill="#00C6F6" stroke="#000" stroke-width="1.45" stroke-linejoin="round"/>
<line x1="1215.50" y1="714.30" x2="1215.50" y2="1060.30" stroke="#000" stroke-width="1.15"/>
<rect x="1212.05" y="843.70" width="6.90" height="86.60" fill="#000"/>
<ellipse cx="1215.50" cy="886.10" rx="4.52" ry="5.51" fill="#fff"/>
<rect x="775.50" y="617.30" width="519.40" height="486.90" fill="none" stroke="#000" stroke-width="1.30"/>
<line x1="764.70" y1="1054.10" x2="775.50" y2="1054.10" stroke="#000" stroke-width="1.30"/>
<text transform="translate(751.60,1054.10) scale(0.910,1) rotate(-90)" font-size="21.20" text-anchor="middle" font-weight="normal">1</text>
<line x1="764.70" y1="980.73" x2="775.50" y2="980.73" stroke="#000" stroke-width="1.30"/>
<text transform="translate(751.60,980.73) scale(0.910,1) rotate(-90)" font-size="21.20" text-anchor="middle" font-weight="normal">2</text>
<line x1="764.70" y1="907.36" x2="775.50" y2="907.36" stroke="#000" stroke-width="1.30"/>
<text transform="translate(751.60,907.36) scale(0.910,1) rotate(-90)" font-size="21.20" text-anchor="middle" font-weight="normal">3</text>
<line x1="764.70" y1="833.99" x2="775.50" y2="833.99" stroke="#000" stroke-width="1.30"/>
<text transform="translate(751.60,833.99) scale(0.910,1) rotate(-90)" font-size="21.20" text-anchor="middle" font-weight="normal">4</text>
<line x1="764.70" y1="760.62" x2="775.50" y2="760.62" stroke="#000" stroke-width="1.30"/>
<text transform="translate(751.60,760.62) scale(0.910,1) rotate(-90)" font-size="21.20" text-anchor="middle" font-weight="normal">5</text>
<line x1="764.70" y1="687.25" x2="775.50" y2="687.25" stroke="#000" stroke-width="1.30"/>
<text transform="translate(751.60,687.25) scale(0.910,1) rotate(-90)" font-size="21.20" text-anchor="middle" font-weight="normal">6</text>
<line x1="854.85" y1="1104.20" x2="854.85" y2="1116.80" stroke="#000" stroke-width="1.30"/>
<text transform="translate(854.85,1148.40) scale(0.820,1)" font-size="21.20" text-anchor="middle" font-weight="normal">Stage I</text>
<line x1="975.08" y1="1104.20" x2="975.08" y2="1116.80" stroke="#000" stroke-width="1.30"/>
<text transform="translate(975.08,1148.40) scale(0.820,1)" font-size="21.20" text-anchor="middle" font-weight="normal">Stage II</text>
<line x1="1095.32" y1="1104.20" x2="1095.32" y2="1116.80" stroke="#000" stroke-width="1.30"/>
<text transform="translate(1095.32,1148.40) scale(0.820,1)" font-size="21.20" text-anchor="middle" font-weight="normal">Stage III</text>
<line x1="1215.55" y1="1104.20" x2="1215.55" y2="1116.80" stroke="#000" stroke-width="1.30"/>
<text transform="translate(1215.55,1148.40) scale(0.820,1)" font-size="21.20" text-anchor="middle" font-weight="normal">Stage IV</text>
<text transform="translate(1265.00,644.90) scale(0.820,1)" font-size="23.00" text-anchor="end" font-weight="normal">F value = 6.03</text>
<text transform="translate(1265.00,671.70) scale(0.820,1)" font-size="23.00" text-anchor="end" font-weight="normal">Pr(&gt;F) = 0.00049</text>
<text transform="translate(698.70,630.50) scale(0.940,1)" font-size="47.00" font-weight="bold" style="stroke:none">D</text>
</g>
<g id="pE">
<path d="M158.60,1298.50 L161.00,1298.50 L160.98,1300.51 L160.98,1302.52 L160.96,1304.53 L160.95,1306.54 L160.94,1308.54 L160.93,1310.55 L160.92,1312.56 L160.92,1314.57 L160.92,1316.58 L160.93,1318.59 L160.94,1320.60 L160.97,1322.61 L161.00,1324.61 L161.04,1326.62 L161.10,1328.63 L161.17,1330.64 L161.25,1332.65 L161.35,1334.66 L161.46,1336.67 L161.60,1338.68 L161.75,1340.68 L161.92,1342.69 L162.11,1344.70 L162.33,1346.71 L162.56,1348.72 L162.82,1350.73 L163.09,1352.74 L163.39,1354.75 L163.70,1356.75 L164.03,1358.76 L164.37,1360.77 L164.74,1362.78 L165.12,1364.79 L165.51,1366.80 L165.92,1368.81 L166.34,1370.82 L166.78,1372.82 L167.23,1374.83 L167.69,1376.84 L168.17,1378.85 L168.65,1380.86 L169.15,1382.87 L169.66,1384.88 L170.17,1386.89 L170.70,1388.89 L171.24,1390.90 L171.78,1392.91 L172.33,1394.92 L172.89,1396.93 L173.45,1398.94 L174.02,1400.95 L174.59,1402.96 L175.17,1404.96 L175.76,1406.97 L176.34,1408.98 L176.94,1410.99 L177.53,1413.00 L178.13,1415.01 L178.73,1417.02 L179.33,1419.03 L179.94,1421.03 L180.54,1423.04 L181.15,1425.05 L181.76,1427.06 L182.36,1429.07 L182.97,1431.08 L183.58,1433.09 L184.18,1435.10 L184.79,1437.10 L185.39,1439.11 L185.99,1441.12 L186.59,1443.13 L187.19,1445.14 L187.78,1447.15 L188.37,1449.16 L188.95,1451.17 L189.53,1453.17 L190.11,1455.18 L190.68,1457.19 L191.24,1459.20 L191.80,1461.21 L192.36,1463.22 L192.90,1465.23 L193.44,1467.24 L193.97,1469.24 L194.50,1471.25 L195.01,1473.26 L195.52,1475.27 L196.02,1477.28 L196.51,1479.29 L196.99,1481.30 L197.45,1483.31 L197.91,1485.31 L198.36,1487.32 L198.80,1489.33 L199.22,1491.34 L199.63,1493.35 L200.03,1495.36 L200.42,1497.37 L200.79,1499.38 L201.15,1501.39 L201.50,1503.39 L201.84,1505.40 L202.16,1507.41 L202.47,1509.42 L202.77,1511.43 L203.06,1513.44 L203.34,1515.45 L203.61,1517.46 L203.86,1519.46 L204.11,1521.47 L204.34,1523.48 L204.57,1525.49 L204.79,1527.50 L205.00,1529.51 L205.19,1531.52 L205.38,1533.53 L205.57,1535.53 L205.74,1537.54 L205.91,1539.55 L206.07,1541.56 L206.22,1543.57 L206.37,1545.58 L206.50,1547.59 L206.64,1549.60 L206.76,1551.60 L206.88,1553.61 L207.00,1555.62 L207.11,1557.63 L207.21,1559.64 L207.31,1561.65 L207.39,1563.66 L207.46,1565.67 L207.52,1567.67 L207.55,1569.68 L207.57,1571.69 L207.56,1573.70 L207.53,1575.71 L207.47,1577.72 L207.38,1579.73 L207.26,1581.74 L207.11,1583.74 L206.92,1585.75 L206.69,1587.76 L206.42,1589.77 L206.11,1591.78 L205.75,1593.79 L205.34,1595.80 L204.89,1597.81 L204.39,1599.81 L203.85,1601.82 L203.26,1603.83 L202.64,1605.84 L201.98,1607.85 L201.28,1609.86 L200.55,1611.87 L199.79,1613.88 L199.00,1615.88 L198.19,1617.89 L197.35,1619.90 L196.49,1621.91 L195.61,1623.92 L194.72,1625.93 L193.81,1627.94 L192.88,1629.95 L191.95,1631.95 L191.00,1633.96 L190.05,1635.97 L189.09,1637.98 L188.14,1639.99 L187.18,1642.00 L186.22,1644.01 L185.27,1646.02 L184.33,1648.02 L183.39,1650.03 L182.47,1652.04 L181.56,1654.05 L180.66,1656.06 L179.77,1658.07 L178.89,1660.08 L178.02,1662.09 L177.15,1664.09 L176.29,1666.10 L175.43,1668.11 L174.58,1670.12 L173.72,1672.13 L172.87,1674.14 L172.01,1676.15 L171.14,1678.16 L170.27,1680.16 L169.40,1682.17 L168.51,1684.18 L167.61,1686.19 L166.70,1688.20 L152.90,1688.20 L151.99,1686.19 L151.09,1684.18 L150.20,1682.17 L149.33,1680.16 L148.46,1678.16 L147.59,1676.15 L146.73,1674.14 L145.88,1672.13 L145.02,1670.12 L144.17,1668.11 L143.31,1666.10 L142.45,1664.09 L141.58,1662.09 L140.71,1660.08 L139.83,1658.07 L138.94,1656.06 L138.04,1654.05 L137.13,1652.04 L136.21,1650.03 L135.27,1648.02 L134.33,1646.02 L133.38,1644.01 L132.42,1642.00 L131.46,1639.99 L130.51,1637.98 L129.55,1635.97 L128.60,1633.96 L127.65,1631.95 L126.72,1629.95 L125.79,1627.94 L124.88,1625.93 L123.99,1623.92 L123.11,1621.91 L122.25,1619.90 L121.41,1617.89 L120.60,1615.88 L119.81,1613.88 L119.05,1611.87 L118.32,1609.86 L117.62,1607.85 L116.96,1605.84 L116.34,1603.83 L115.75,1601.82 L115.21,1599.81 L114.71,1597.81 L114.26,1595.80 L113.85,1593.79 L113.49,1591.78 L113.18,1589.77 L112.91,1587.76 L112.68,1585.75 L112.49,1583.74 L112.34,1581.74 L112.22,1579.73 L112.13,1577.72 L112.07,1575.71 L112.04,1573.70 L112.03,1571.69 L112.05,1569.68 L112.08,1567.67 L112.14,1565.67 L112.21,1563.66 L112.29,1561.65 L112.39,1559.64 L112.49,1557.63 L112.60,1555.62 L112.72,1553.61 L112.84,1551.60 L112.96,1549.60 L113.10,1547.59 L113.23,1545.58 L113.38,1543.57 L113.53,1541.56 L113.69,1539.55 L113.86,1537.54 L114.03,1535.53 L114.22,1533.53 L114.41,1531.52 L114.60,1529.51 L114.81,1527.50 L115.03,1525.49 L115.26,1523.48 L115.49,1521.47 L115.74,1519.46 L115.99,1517.46 L116.26,1515.45 L116.54,1513.44 L116.83,1511.43 L117.13,1509.42 L117.44,1507.41 L117.76,1505.40 L118.10,1503.39 L118.45,1501.39 L118.81,1499.38 L119.18,1497.37 L119.57,1495.36 L119.97,1493.35 L120.38,1491.34 L120.80,1489.33 L121.24,1487.32 L121.69,1485.31 L122.15,1483.31 L122.61,1481.30 L123.09,1479.29 L123.58,1477.28 L124.08,1475.27 L124.59,1473.26 L125.10,1471.25 L125.63,1469.24 L126.16,1467.24 L126.70,1465.23 L127.24,1463.22 L127.80,1461.21 L128.36,1459.20 L128.92,1457.19 L129.49,1455.18 L130.07,1453.17 L130.65,1451.17 L131.23,1449.16 L131.82,1447.15 L132.41,1445.14 L133.01,1443.13 L133.61,1441.12 L134.21,1439.11 L134.81,1437.10 L135.42,1435.10 L136.02,1433.09 L136.63,1431.08 L137.24,1429.07 L137.84,1427.06 L138.45,1425.05 L139.06,1423.04 L139.66,1421.03 L140.27,1419.03 L140.87,1417.02 L141.47,1415.01 L142.07,1413.00 L142.66,1410.99 L143.26,1408.98 L143.84,1406.97 L144.43,1404.96 L145.01,1402.96 L145.58,1400.95 L146.15,1398.94 L146.71,1396.93 L147.27,1394.92 L147.82,1392.91 L148.36,1390.90 L148.90,1388.89 L149.43,1386.89 L149.94,1384.88 L150.45,1382.87 L150.95,1380.86 L151.43,1378.85 L151.91,1376.84 L152.37,1374.83 L152.82,1372.82 L153.26,1370.82 L153.68,1368.81 L154.09,1366.80 L154.48,1364.79 L154.86,1362.78 L155.23,1360.77 L155.57,1358.76 L155.90,1356.75 L156.21,1354.75 L156.51,1352.74 L156.78,1350.73 L157.04,1348.72 L157.27,1346.71 L157.49,1344.70 L157.68,1342.69 L157.85,1340.68 L158.00,1338.68 L158.14,1336.67 L158.25,1334.66 L158.35,1332.65 L158.43,1330.64 L158.50,1328.63 L158.56,1326.62 L158.60,1324.61 L158.63,1322.61 L158.66,1320.60 L158.67,1318.59 L158.68,1316.58 L158.68,1314.57 L158.68,1312.56 L158.67,1310.55 L158.66,1308.54 L158.65,1306.54 L158.64,1304.53 L158.62,1302.52 L158.62,1300.51 L158.60,1298.50 Z" fill="#00C6F6" stroke="#000" stroke-width="1.45" stroke-linejoin="round"/>
<line x1="159.80" y1="1317.70" x2="159.80" y2="1688.20" stroke="#000" stroke-width="1.15"/>
<rect x="156.31" y="1483.20" width="6.97" height="110.30" fill="#000"/>
<ellipse cx="159.80" cy="1546.70" rx="4.57" ry="5.57" fill="#fff"/>
<path d="M271.60,1378.80 L290.80,1378.80 L291.76,1380.81 L292.72,1382.82 L293.65,1384.84 L294.58,1386.85 L295.49,1388.86 L296.39,1390.87 L297.28,1392.89 L298.15,1394.90 L299.02,1396.91 L299.88,1398.92 L300.73,1400.94 L301.58,1402.95 L302.42,1404.96 L303.25,1406.97 L304.08,1408.99 L304.90,1411.00 L305.73,1413.01 L306.55,1415.02 L307.37,1417.04 L308.19,1419.05 L309.02,1421.06 L309.84,1423.07 L310.67,1425.09 L311.51,1427.10 L312.35,1429.11 L313.19,1431.12 L314.04,1433.14 L314.90,1435.15 L315.77,1437.16 L316.64,1439.17 L317.53,1441.18 L318.43,1443.20 L319.33,1445.21 L320.24,1447.22 L321.14,1449.23 L322.03,1451.25 L322.91,1453.26 L323.76,1455.27 L324.58,1457.28 L325.37,1459.30 L326.12,1461.31 L326.82,1463.32 L327.47,1465.33 L328.06,1467.35 L328.59,1469.36 L329.04,1471.37 L329.43,1473.38 L329.73,1475.40 L329.95,1477.41 L330.10,1479.42 L330.18,1481.43 L330.20,1483.45 L330.16,1485.46 L330.06,1487.47 L329.92,1489.48 L329.74,1491.49 L329.53,1493.51 L329.28,1495.52 L329.01,1497.53 L328.72,1499.54 L328.42,1501.56 L328.10,1503.57 L327.78,1505.58 L327.47,1507.59 L327.16,1509.61 L326.85,1511.62 L326.54,1513.63 L326.24,1515.64 L325.94,1517.66 L325.64,1519.67 L325.35,1521.68 L325.05,1523.69 L324.76,1525.71 L324.47,1527.72 L324.18,1529.73 L323.89,1531.74 L323.60,1533.76 L323.31,1535.77 L323.01,1537.78 L322.72,1539.79 L322.43,1541.81 L322.14,1543.82 L321.84,1545.83 L321.54,1547.84 L321.24,1549.85 L320.94,1551.87 L320.64,1553.88 L320.33,1555.89 L320.02,1557.90 L319.70,1559.92 L319.38,1561.93 L319.06,1563.94 L318.73,1565.95 L318.40,1567.97 L318.06,1569.98 L317.72,1571.99 L317.37,1574.00 L317.01,1576.02 L316.65,1578.03 L316.28,1580.04 L315.90,1582.05 L315.52,1584.07 L315.12,1586.08 L314.71,1588.09 L314.28,1590.10 L313.85,1592.12 L313.39,1594.13 L312.93,1596.14 L312.44,1598.15 L311.93,1600.16 L311.41,1602.18 L310.87,1604.19 L310.30,1606.20 L309.71,1608.21 L309.10,1610.23 L308.46,1612.24 L307.80,1614.25 L307.11,1616.26 L306.40,1618.28 L305.65,1620.29 L304.87,1622.30 L304.07,1624.31 L303.23,1626.33 L302.35,1628.34 L301.44,1630.35 L300.50,1632.36 L299.52,1634.38 L298.52,1636.39 L297.50,1638.40 L296.48,1640.41 L295.48,1642.43 L294.52,1644.44 L293.61,1646.45 L292.77,1648.46 L292.01,1650.48 L291.35,1652.49 L290.80,1654.50 L271.60,1654.50 L271.05,1652.49 L270.39,1650.48 L269.63,1648.46 L268.79,1646.45 L267.88,1644.44 L266.92,1642.43 L265.92,1640.41 L264.90,1638.40 L263.88,1636.39 L262.88,1634.38 L261.90,1632.36 L260.96,1630.35 L260.05,1628.34 L259.17,1626.33 L258.33,1624.31 L257.53,1622.30 L256.75,1620.29 L256.00,1618.28 L255.29,1616.26 L254.60,1614.25 L253.94,1612.24 L253.30,1610.23 L252.69,1608.21 L252.10,1606.20 L251.53,1604.19 L250.99,1602.18 L250.47,1600.16 L249.96,1598.15 L249.47,1596.14 L249.01,1594.13 L248.55,1592.12 L248.12,1590.10 L247.69,1588.09 L247.28,1586.08 L246.88,1584.07 L246.50,1582.05 L246.12,1580.04 L245.75,1578.03 L245.39,1576.02 L245.03,1574.00 L244.68,1571.99 L244.34,1569.98 L244.00,1567.97 L243.67,1565.95 L243.34,1563.94 L243.02,1561.93 L242.70,1559.92 L242.38,1557.90 L242.07,1555.89 L241.76,1553.88 L241.46,1551.87 L241.16,1549.85 L240.86,1547.84 L240.56,1545.83 L240.26,1543.82 L239.97,1541.81 L239.68,1539.79 L239.39,1537.78 L239.09,1535.77 L238.80,1533.76 L238.51,1531.74 L238.22,1529.73 L237.93,1527.72 L237.64,1525.71 L237.35,1523.69 L237.05,1521.68 L236.76,1519.67 L236.46,1517.66 L236.16,1515.64 L235.86,1513.63 L235.55,1511.62 L235.24,1509.61 L234.93,1507.59 L234.62,1505.58 L234.30,1503.57 L233.98,1501.56 L233.68,1499.54 L233.39,1497.53 L233.12,1495.52 L232.87,1493.51 L232.66,1491.49 L232.48,1489.48 L232.34,1487.47 L232.24,1485.46 L232.20,1483.45 L232.22,1481.43 L232.30,1479.42 L232.45,1477.41 L232.67,1475.40 L232.97,1473.38 L233.36,1471.37 L233.81,1469.36 L234.34,1467.35 L234.93,1465.33 L235.58,1463.32 L236.28,1461.31 L237.03,1459.30 L237.82,1457.28 L238.64,1455.27 L239.49,1453.26 L240.37,1451.25 L241.26,1449.23 L242.16,1447.22 L243.07,1445.21 L243.97,1443.20 L244.87,1441.18 L245.76,1439.17 L246.63,1437.16 L247.50,1435.15 L248.36,1433.14 L249.21,1431.12 L250.05,1429.11 L250.89,1427.10 L251.73,1425.09 L252.56,1423.07 L253.38,1421.06 L254.21,1419.05 L255.03,1417.04 L255.85,1415.02 L256.67,1413.01 L257.50,1411.00 L258.32,1408.99 L259.15,1406.97 L259.98,1404.96 L260.82,1402.95 L261.67,1400.94 L262.52,1398.92 L263.38,1396.91 L264.25,1394.90 L265.12,1392.89 L266.01,1390.87 L266.91,1388.86 L267.82,1386.85 L268.75,1384.84 L269.68,1382.82 L270.64,1380.81 L271.60,1378.80 Z" fill="#00C6F6" stroke="#000" stroke-width="1.45" stroke-linejoin="round"/>
<line x1="281.20" y1="1378.80" x2="281.20" y2="1654.50" stroke="#000" stroke-width="1.15"/>
<rect x="277.71" y="1469.20" width="6.97" height="96.30" fill="#000"/>
<ellipse cx="281.20" cy="1509.00" rx="4.57" ry="5.57" fill="#fff"/>
<path d="M396.40,1354.70 L409.00,1354.70 L409.55,1356.71 L410.11,1358.71 L410.68,1360.72 L411.25,1362.72 L411.83,1364.73 L412.43,1366.73 L413.02,1368.74 L413.63,1370.75 L414.24,1372.75 L414.86,1374.76 L415.48,1376.76 L416.12,1378.77 L416.75,1380.77 L417.39,1382.78 L418.04,1384.78 L418.69,1386.79 L419.35,1388.80 L420.01,1390.80 L420.67,1392.81 L421.34,1394.81 L422.02,1396.82 L422.69,1398.82 L423.37,1400.83 L424.05,1402.84 L424.74,1404.84 L425.42,1406.85 L426.11,1408.85 L426.80,1410.86 L427.50,1412.86 L428.19,1414.87 L428.88,1416.87 L429.58,1418.88 L430.27,1420.89 L430.97,1422.89 L431.67,1424.90 L432.36,1426.90 L433.05,1428.91 L433.74,1430.91 L434.43,1432.92 L435.11,1434.93 L435.78,1436.93 L436.45,1438.94 L437.11,1440.94 L437.77,1442.95 L438.42,1444.95 L439.06,1446.96 L439.69,1448.96 L440.31,1450.97 L440.92,1452.98 L441.52,1454.98 L442.10,1456.99 L442.67,1458.99 L443.23,1461.00 L443.78,1463.00 L444.31,1465.01 L444.82,1467.02 L445.31,1469.02 L445.79,1471.03 L446.25,1473.03 L446.70,1475.04 L447.12,1477.04 L447.52,1479.05 L447.90,1481.05 L448.26,1483.06 L448.60,1485.07 L448.91,1487.07 L449.20,1489.08 L449.47,1491.08 L449.71,1493.09 L449.92,1495.09 L450.11,1497.10 L450.27,1499.11 L450.40,1501.11 L450.50,1503.12 L450.58,1505.12 L450.63,1507.13 L450.65,1509.13 L450.65,1511.14 L450.61,1513.15 L450.55,1515.15 L450.47,1517.16 L450.35,1519.16 L450.21,1521.17 L450.04,1523.17 L449.85,1525.18 L449.63,1527.18 L449.38,1529.19 L449.10,1531.20 L448.80,1533.20 L448.47,1535.21 L448.12,1537.21 L447.74,1539.22 L447.33,1541.22 L446.90,1543.23 L446.45,1545.24 L445.98,1547.24 L445.49,1549.25 L444.98,1551.25 L444.44,1553.26 L443.90,1555.26 L443.33,1557.27 L442.75,1559.27 L442.15,1561.28 L441.54,1563.29 L440.92,1565.29 L440.28,1567.30 L439.64,1569.30 L438.98,1571.31 L438.32,1573.31 L437.64,1575.32 L436.96,1577.33 L436.27,1579.33 L435.58,1581.34 L434.88,1583.34 L434.17,1585.35 L433.46,1587.35 L432.75,1589.36 L432.03,1591.36 L431.30,1593.37 L430.57,1595.38 L429.83,1597.38 L429.10,1599.39 L428.35,1601.39 L427.61,1603.40 L426.86,1605.40 L426.11,1607.41 L425.36,1609.42 L424.60,1611.42 L423.85,1613.43 L423.09,1615.43 L422.33,1617.44 L421.57,1619.44 L420.81,1621.45 L420.05,1623.45 L419.29,1625.46 L418.54,1627.47 L417.78,1629.47 L417.02,1631.48 L416.26,1633.48 L415.51,1635.49 L414.76,1637.49 L414.00,1639.50 L391.40,1639.50 L390.64,1637.49 L389.89,1635.49 L389.14,1633.48 L388.38,1631.48 L387.62,1629.47 L386.86,1627.47 L386.11,1625.46 L385.35,1623.45 L384.59,1621.45 L383.83,1619.44 L383.07,1617.44 L382.31,1615.43 L381.55,1613.43 L380.80,1611.42 L380.04,1609.42 L379.29,1607.41 L378.54,1605.40 L377.79,1603.40 L377.05,1601.39 L376.30,1599.39 L375.57,1597.38 L374.83,1595.38 L374.10,1593.37 L373.37,1591.36 L372.65,1589.36 L371.94,1587.35 L371.23,1585.35 L370.52,1583.34 L369.82,1581.34 L369.13,1579.33 L368.44,1577.33 L367.76,1575.32 L367.08,1573.31 L366.42,1571.31 L365.76,1569.30 L365.12,1567.30 L364.48,1565.29 L363.86,1563.29 L363.25,1561.28 L362.65,1559.27 L362.07,1557.27 L361.50,1555.26 L360.96,1553.26 L360.42,1551.25 L359.91,1549.25 L359.42,1547.24 L358.95,1545.24 L358.50,1543.23 L358.07,1541.22 L357.66,1539.22 L357.28,1537.21 L356.93,1535.21 L356.60,1533.20 L356.30,1531.20 L356.02,1529.19 L355.77,1527.18 L355.55,1525.18 L355.36,1523.17 L355.19,1521.17 L355.05,1519.16 L354.93,1517.16 L354.85,1515.15 L354.79,1513.15 L354.75,1511.14 L354.75,1509.13 L354.77,1507.13 L354.82,1505.12 L354.90,1503.12 L355.00,1501.11 L355.13,1499.11 L355.29,1497.10 L355.48,1495.09 L355.69,1493.09 L355.93,1491.08 L356.20,1489.08 L356.49,1487.07 L356.80,1485.07 L357.14,1483.06 L357.50,1481.05 L357.88,1479.05 L358.28,1477.04 L358.70,1475.04 L359.15,1473.03 L359.61,1471.03 L360.09,1469.02 L360.58,1467.02 L361.09,1465.01 L361.62,1463.00 L362.17,1461.00 L362.73,1458.99 L363.30,1456.99 L363.88,1454.98 L364.48,1452.98 L365.09,1450.97 L365.71,1448.96 L366.34,1446.96 L366.98,1444.95 L367.63,1442.95 L368.29,1440.94 L368.95,1438.94 L369.62,1436.93 L370.29,1434.93 L370.97,1432.92 L371.66,1430.91 L372.35,1428.91 L373.04,1426.90 L373.73,1424.90 L374.43,1422.89 L375.13,1420.89 L375.82,1418.88 L376.52,1416.87 L377.21,1414.87 L377.90,1412.86 L378.60,1410.86 L379.29,1408.85 L379.98,1406.85 L380.66,1404.84 L381.35,1402.84 L382.03,1400.83 L382.71,1398.82 L383.38,1396.82 L384.06,1394.81 L384.73,1392.81 L385.39,1390.80 L386.05,1388.80 L386.71,1386.79 L387.36,1384.78 L388.01,1382.78 L388.65,1380.77 L389.28,1378.77 L389.92,1376.76 L390.54,1374.76 L391.16,1372.75 L391.77,1370.75 L392.38,1368.74 L392.97,1366.73 L393.57,1364.73 L394.15,1362.72 L394.72,1360.72 L395.29,1358.71 L395.85,1356.71 L396.40,1354.70 Z" fill="#00C6F6" stroke="#000" stroke-width="1.45" stroke-linejoin="round"/>
<line x1="402.70" y1="1354.70" x2="402.70" y2="1639.50" stroke="#000" stroke-width="1.15"/>
<rect x="399.21" y="1459.30" width="6.97" height="95.10" fill="#000"/>
<ellipse cx="402.70" cy="1506.30" rx="4.57" ry="5.57" fill="#fff"/>
<path d="M519.90,1288.90 L528.50,1288.90 L528.58,1290.90 L528.64,1292.90 L528.70,1294.91 L528.75,1296.91 L528.80,1298.91 L528.85,1300.91 L528.89,1302.92 L528.94,1304.92 L528.99,1306.92 L529.04,1308.92 L529.09,1310.93 L529.15,1312.93 L529.22,1314.93 L529.30,1316.93 L529.39,1318.94 L529.50,1320.94 L529.61,1322.94 L529.74,1324.94 L529.89,1326.95 L530.06,1328.95 L530.24,1330.95 L530.45,1332.95 L530.68,1334.96 L530.93,1336.96 L531.21,1338.96 L531.52,1340.96 L531.85,1342.97 L532.21,1344.97 L532.61,1346.97 L533.03,1348.97 L533.47,1350.98 L533.94,1352.98 L534.44,1354.98 L534.96,1356.98 L535.50,1358.99 L536.06,1360.99 L536.65,1362.99 L537.25,1364.99 L537.87,1367.00 L538.51,1369.00 L539.16,1371.00 L539.83,1373.00 L540.52,1375.01 L541.21,1377.01 L541.92,1379.01 L542.64,1381.01 L543.37,1383.02 L544.11,1385.02 L544.86,1387.02 L545.61,1389.02 L546.37,1391.03 L547.13,1393.03 L547.90,1395.03 L548.67,1397.03 L549.44,1399.04 L550.22,1401.04 L550.99,1403.04 L551.76,1405.04 L552.53,1407.05 L553.29,1409.05 L554.06,1411.05 L554.81,1413.05 L555.57,1415.06 L556.32,1417.06 L557.06,1419.06 L557.79,1421.06 L558.52,1423.07 L559.24,1425.07 L559.95,1427.07 L560.64,1429.07 L561.33,1431.07 L562.01,1433.08 L562.67,1435.08 L563.32,1437.08 L563.96,1439.08 L564.58,1441.09 L565.18,1443.09 L565.77,1445.09 L566.34,1447.09 L566.90,1449.10 L567.43,1451.10 L567.95,1453.10 L568.45,1455.10 L568.92,1457.11 L569.38,1459.11 L569.81,1461.11 L570.22,1463.11 L570.60,1465.12 L570.96,1467.12 L571.30,1469.12 L571.61,1471.12 L571.89,1473.13 L572.15,1475.13 L572.37,1477.13 L572.57,1479.13 L572.74,1481.14 L572.87,1483.14 L572.98,1485.14 L573.05,1487.14 L573.09,1489.15 L573.10,1491.15 L573.07,1493.15 L573.01,1495.15 L572.91,1497.16 L572.78,1499.16 L572.60,1501.16 L572.40,1503.16 L572.16,1505.17 L571.89,1507.17 L571.59,1509.17 L571.26,1511.17 L570.90,1513.18 L570.52,1515.18 L570.11,1517.18 L569.68,1519.18 L569.23,1521.19 L568.75,1523.19 L568.26,1525.19 L567.75,1527.19 L567.22,1529.20 L566.68,1531.20 L566.13,1533.20 L565.56,1535.20 L564.98,1537.21 L564.39,1539.21 L563.80,1541.21 L563.20,1543.21 L562.59,1545.22 L561.98,1547.22 L561.37,1549.22 L560.75,1551.22 L560.14,1553.23 L559.52,1555.23 L558.92,1557.23 L558.31,1559.23 L557.71,1561.23 L557.11,1563.24 L556.52,1565.24 L555.93,1567.24 L555.35,1569.24 L554.77,1571.25 L554.19,1573.25 L553.62,1575.25 L553.05,1577.25 L552.49,1579.26 L551.94,1581.26 L551.38,1583.26 L550.84,1585.26 L550.30,1587.27 L549.76,1589.27 L549.23,1591.27 L548.70,1593.27 L548.18,1595.28 L547.66,1597.28 L547.15,1599.28 L546.65,1601.28 L546.15,1603.29 L545.66,1605.29 L545.17,1607.29 L544.69,1609.29 L544.22,1611.30 L543.75,1613.30 L543.29,1615.30 L542.83,1617.30 L542.39,1619.31 L541.94,1621.31 L541.51,1623.31 L541.08,1625.31 L540.66,1627.32 L540.25,1629.32 L539.85,1631.32 L539.45,1633.32 L539.06,1635.33 L538.68,1637.33 L538.31,1639.33 L537.94,1641.33 L537.58,1643.34 L537.24,1645.34 L536.90,1647.34 L536.56,1649.34 L536.24,1651.35 L535.93,1653.35 L535.62,1655.35 L535.33,1657.35 L535.04,1659.36 L534.76,1661.36 L534.49,1663.36 L534.24,1665.36 L533.99,1667.37 L533.75,1669.37 L533.52,1671.37 L533.30,1673.37 L533.09,1675.38 L532.90,1677.38 L532.71,1679.38 L532.53,1681.38 L532.37,1683.39 L532.21,1685.39 L532.07,1687.39 L531.93,1689.39 L531.81,1691.40 L531.70,1693.40 L531.60,1695.40 L516.80,1695.40 L516.70,1693.40 L516.59,1691.40 L516.47,1689.39 L516.33,1687.39 L516.19,1685.39 L516.03,1683.39 L515.87,1681.38 L515.69,1679.38 L515.50,1677.38 L515.31,1675.38 L515.10,1673.37 L514.88,1671.37 L514.65,1669.37 L514.41,1667.37 L514.16,1665.36 L513.91,1663.36 L513.64,1661.36 L513.36,1659.36 L513.07,1657.35 L512.78,1655.35 L512.47,1653.35 L512.16,1651.35 L511.84,1649.34 L511.50,1647.34 L511.16,1645.34 L510.82,1643.34 L510.46,1641.33 L510.09,1639.33 L509.72,1637.33 L509.34,1635.33 L508.95,1633.32 L508.55,1631.32 L508.15,1629.32 L507.74,1627.32 L507.32,1625.31 L506.89,1623.31 L506.46,1621.31 L506.01,1619.31 L505.57,1617.30 L505.11,1615.30 L504.65,1613.30 L504.18,1611.30 L503.71,1609.29 L503.23,1607.29 L502.74,1605.29 L502.25,1603.29 L501.75,1601.28 L501.25,1599.28 L500.74,1597.28 L500.22,1595.28 L499.70,1593.27 L499.17,1591.27 L498.64,1589.27 L498.10,1587.27 L497.56,1585.26 L497.02,1583.26 L496.46,1581.26 L495.91,1579.26 L495.35,1577.25 L494.78,1575.25 L494.21,1573.25 L493.63,1571.25 L493.05,1569.24 L492.47,1567.24 L491.88,1565.24 L491.29,1563.24 L490.69,1561.23 L490.09,1559.23 L489.48,1557.23 L488.88,1555.23 L488.26,1553.23 L487.65,1551.22 L487.03,1549.22 L486.42,1547.22 L485.81,1545.22 L485.20,1543.21 L484.60,1541.21 L484.01,1539.21 L483.42,1537.21 L482.84,1535.20 L482.27,1533.20 L481.72,1531.20 L481.18,1529.20 L480.65,1527.19 L480.14,1525.19 L479.65,1523.19 L479.17,1521.19 L478.72,1519.18 L478.29,1517.18 L477.88,1515.18 L477.50,1513.18 L477.14,1511.17 L476.81,1509.17 L476.51,1507.17 L476.24,1505.17 L476.00,1503.16 L475.80,1501.16 L475.62,1499.16 L475.49,1497.16 L475.39,1495.15 L475.33,1493.15 L475.30,1491.15 L475.31,1489.15 L475.35,1487.14 L475.42,1485.14 L475.53,1483.14 L475.66,1481.14 L475.83,1479.13 L476.03,1477.13 L476.25,1475.13 L476.51,1473.13 L476.79,1471.12 L477.10,1469.12 L477.44,1467.12 L477.80,1465.12 L478.18,1463.11 L478.59,1461.11 L479.02,1459.11 L479.48,1457.11 L479.95,1455.10 L480.45,1453.10 L480.97,1451.10 L481.50,1449.10 L482.06,1447.09 L482.63,1445.09 L483.22,1443.09 L483.82,1441.09 L484.44,1439.08 L485.08,1437.08 L485.73,1435.08 L486.39,1433.08 L487.07,1431.07 L487.76,1429.07 L488.45,1427.07 L489.16,1425.07 L489.88,1423.07 L490.61,1421.06 L491.34,1419.06 L492.08,1417.06 L492.83,1415.06 L493.59,1413.05 L494.34,1411.05 L495.11,1409.05 L495.87,1407.05 L496.64,1405.04 L497.41,1403.04 L498.18,1401.04 L498.96,1399.04 L499.73,1397.03 L500.50,1395.03 L501.27,1393.03 L502.03,1391.03 L502.79,1389.02 L503.54,1387.02 L504.29,1385.02 L505.03,1383.02 L505.76,1381.01 L506.48,1379.01 L507.19,1377.01 L507.88,1375.01 L508.57,1373.00 L509.24,1371.00 L509.89,1369.00 L510.53,1367.00 L511.15,1364.99 L511.75,1362.99 L512.34,1360.99 L512.90,1358.99 L513.44,1356.98 L513.96,1354.98 L514.46,1352.98 L514.93,1350.98 L515.37,1348.97 L515.79,1346.97 L516.19,1344.97 L516.55,1342.97 L516.88,1340.96 L517.19,1338.96 L517.47,1336.96 L517.72,1334.96 L517.95,1332.95 L518.16,1330.95 L518.34,1328.95 L518.51,1326.95 L518.66,1324.94 L518.79,1322.94 L518.90,1320.94 L519.01,1318.94 L519.10,1316.93 L519.18,1314.93 L519.25,1312.93 L519.31,1310.93 L519.36,1308.92 L519.41,1306.92 L519.46,1304.92 L519.51,1302.92 L519.55,1300.91 L519.60,1298.91 L519.65,1296.91 L519.70,1294.91 L519.76,1292.90 L519.82,1290.90 L519.90,1288.90 Z" fill="#00C6F6" stroke="#000" stroke-width="1.45" stroke-linejoin="round"/>
<line x1="524.20" y1="1324.50" x2="524.20" y2="1671.90" stroke="#000" stroke-width="1.15"/>
<rect x="520.71" y="1454.50" width="6.97" height="87.40" fill="#000"/>
<ellipse cx="524.20" cy="1490.50" rx="4.57" ry="5.57" fill="#fff"/>
<rect x="79.70" y="1227.30" width="524.90" height="486.40" fill="none" stroke="#000" stroke-width="1.30"/>
<line x1="68.60" y1="1656.98" x2="79.70" y2="1656.98" stroke="#000" stroke-width="1.30"/>
<text transform="translate(54.50,1656.98) scale(0.910,1) rotate(-90)" font-size="21.20" text-anchor="middle" font-weight="normal">1</text>
<line x1="68.60" y1="1587.26" x2="79.70" y2="1587.26" stroke="#000" stroke-width="1.30"/>
<text transform="translate(54.50,1587.26) scale(0.910,1) rotate(-90)" font-size="21.20" text-anchor="middle" font-weight="normal">2</text>
<line x1="68.60" y1="1517.54" x2="79.70" y2="1517.54" stroke="#000" stroke-width="1.30"/>
<text transform="translate(54.50,1517.54) scale(0.910,1) rotate(-90)" font-size="21.20" text-anchor="middle" font-weight="normal">3</text>
<line x1="68.60" y1="1447.82" x2="79.70" y2="1447.82" stroke="#000" stroke-width="1.30"/>
<text transform="translate(54.50,1447.82) scale(0.910,1) rotate(-90)" font-size="21.20" text-anchor="middle" font-weight="normal">4</text>
<line x1="68.60" y1="1378.10" x2="79.70" y2="1378.10" stroke="#000" stroke-width="1.30"/>
<text transform="translate(54.50,1378.10) scale(0.910,1) rotate(-90)" font-size="21.20" text-anchor="middle" font-weight="normal">5</text>
<line x1="68.60" y1="1308.38" x2="79.70" y2="1308.38" stroke="#000" stroke-width="1.30"/>
<text transform="translate(54.50,1308.38) scale(0.910,1) rotate(-90)" font-size="21.20" text-anchor="middle" font-weight="normal">6</text>
<line x1="68.60" y1="1238.66" x2="79.70" y2="1238.66" stroke="#000" stroke-width="1.30"/>
<text transform="translate(54.50,1238.66) scale(0.910,1) rotate(-90)" font-size="21.20" text-anchor="middle" font-weight="normal">7</text>
<line x1="159.89" y1="1713.70" x2="159.89" y2="1726.70" stroke="#000" stroke-width="1.30"/>
<text transform="translate(159.89,1757.90) scale(0.820,1)" font-size="21.20" text-anchor="middle" font-weight="normal">Stage I</text>
<line x1="281.40" y1="1713.70" x2="281.40" y2="1726.70" stroke="#000" stroke-width="1.30"/>
<text transform="translate(281.40,1757.90) scale(0.820,1)" font-size="21.20" text-anchor="middle" font-weight="normal">Stage II</text>
<line x1="402.90" y1="1713.70" x2="402.90" y2="1726.70" stroke="#000" stroke-width="1.30"/>
<text transform="translate(402.90,1757.90) scale(0.820,1)" font-size="21.20" text-anchor="middle" font-weight="normal">Stage III</text>
<line x1="524.41" y1="1713.70" x2="524.41" y2="1726.70" stroke="#000" stroke-width="1.30"/>
<text transform="translate(524.41,1757.90) scale(0.820,1)" font-size="21.20" text-anchor="middle" font-weight="normal">Stage IV</text>
<text transform="translate(574.00,1254.00) scale(0.820,1)" font-size="23.20" text-anchor="end" font-weight="normal">F value = 6.43</text>
<text transform="translate(574.00,1281.10) scale(0.820,1)" font-size="23.20" text-anchor="end" font-weight="normal">Pr(&gt;F) = 0.000284</text>
<text transform="translate(2.80,1218.20) scale(0.965,1)" font-size="47.00" font-weight="bold" style="stroke:none">E</text>
</g>
<g id="pF">
<path d="M819.60,1291.00 L822.80,1291.00 L822.76,1293.01 L822.71,1295.02 L822.68,1297.03 L822.66,1299.04 L822.64,1301.04 L822.63,1303.05 L822.63,1305.06 L822.64,1307.07 L822.66,1309.08 L822.69,1311.09 L822.73,1313.10 L822.77,1315.11 L822.83,1317.12 L822.89,1319.12 L822.96,1321.13 L823.04,1323.14 L823.13,1325.15 L823.23,1327.16 L823.34,1329.17 L823.46,1331.18 L823.58,1333.19 L823.72,1335.20 L823.87,1337.20 L824.02,1339.21 L824.18,1341.22 L824.36,1343.23 L824.54,1345.24 L824.73,1347.25 L824.93,1349.26 L825.14,1351.27 L825.36,1353.28 L825.59,1355.29 L825.83,1357.29 L826.08,1359.30 L826.34,1361.31 L826.61,1363.32 L826.89,1365.33 L827.18,1367.34 L827.48,1369.35 L827.79,1371.36 L828.11,1373.37 L828.44,1375.37 L828.78,1377.38 L829.13,1379.39 L829.50,1381.40 L829.88,1383.41 L830.27,1385.42 L830.67,1387.43 L831.09,1389.44 L831.51,1391.45 L831.96,1393.45 L832.41,1395.46 L832.88,1397.47 L833.36,1399.48 L833.85,1401.49 L834.37,1403.50 L834.90,1405.51 L835.45,1407.52 L836.04,1409.53 L836.65,1411.53 L837.29,1413.54 L837.95,1415.55 L838.65,1417.56 L839.36,1419.57 L840.10,1421.58 L840.86,1423.59 L841.63,1425.60 L842.42,1427.61 L843.23,1429.61 L844.05,1431.62 L844.89,1433.63 L845.73,1435.64 L846.59,1437.65 L847.45,1439.66 L848.31,1441.67 L849.18,1443.68 L850.06,1445.69 L850.93,1447.70 L851.80,1449.70 L852.68,1451.71 L853.54,1453.72 L854.40,1455.73 L855.26,1457.74 L856.10,1459.75 L856.94,1461.76 L857.76,1463.77 L858.57,1465.78 L859.36,1467.78 L860.14,1469.79 L860.90,1471.80 L861.64,1473.81 L862.36,1475.82 L863.05,1477.83 L863.72,1479.84 L864.37,1481.85 L865.00,1483.86 L865.60,1485.86 L866.18,1487.87 L866.73,1489.88 L867.26,1491.89 L867.76,1493.90 L868.24,1495.91 L868.69,1497.92 L869.11,1499.93 L869.51,1501.94 L869.88,1503.94 L870.21,1505.95 L870.53,1507.96 L870.81,1509.97 L871.06,1511.98 L871.28,1513.99 L871.48,1516.00 L871.65,1518.01 L871.80,1520.02 L871.92,1522.02 L872.02,1524.03 L872.10,1526.04 L872.17,1528.05 L872.21,1530.06 L872.24,1532.07 L872.26,1534.08 L872.27,1536.09 L872.26,1538.10 L872.24,1540.10 L872.22,1542.11 L872.19,1544.12 L872.16,1546.13 L872.12,1548.14 L872.08,1550.15 L872.04,1552.16 L872.00,1554.17 L871.96,1556.18 L871.93,1558.19 L871.90,1560.19 L871.88,1562.20 L871.87,1564.21 L871.86,1566.22 L871.85,1568.23 L871.84,1570.24 L871.84,1572.25 L871.83,1574.26 L871.82,1576.27 L871.81,1578.27 L871.79,1580.28 L871.77,1582.29 L871.74,1584.30 L871.70,1586.31 L871.65,1588.32 L871.59,1590.33 L871.51,1592.34 L871.42,1594.35 L871.32,1596.35 L871.19,1598.36 L871.05,1600.37 L870.89,1602.38 L870.71,1604.39 L870.50,1606.40 L870.28,1608.41 L870.02,1610.42 L869.74,1612.43 L869.43,1614.43 L869.10,1616.44 L868.73,1618.45 L868.33,1620.46 L867.90,1622.47 L867.43,1624.48 L866.93,1626.49 L866.39,1628.50 L865.81,1630.51 L865.19,1632.51 L864.53,1634.52 L863.83,1636.53 L863.08,1638.54 L862.29,1640.55 L861.45,1642.56 L860.57,1644.57 L859.65,1646.58 L858.69,1648.59 L857.69,1650.60 L856.67,1652.60 L855.61,1654.61 L854.53,1656.62 L853.42,1658.63 L852.29,1660.64 L851.14,1662.65 L849.98,1664.66 L848.80,1666.67 L847.61,1668.68 L846.41,1670.68 L845.21,1672.69 L844.01,1674.70 L842.81,1676.71 L841.61,1678.72 L840.41,1680.73 L839.23,1682.74 L838.05,1684.75 L836.89,1686.76 L835.75,1688.76 L834.63,1690.77 L833.52,1692.78 L832.45,1694.79 L831.40,1696.80 L811.00,1696.80 L809.95,1694.79 L808.88,1692.78 L807.77,1690.77 L806.65,1688.76 L805.51,1686.76 L804.35,1684.75 L803.17,1682.74 L801.99,1680.73 L800.79,1678.72 L799.59,1676.71 L798.39,1674.70 L797.19,1672.69 L795.99,1670.68 L794.79,1668.68 L793.60,1666.67 L792.42,1664.66 L791.26,1662.65 L790.11,1660.64 L788.98,1658.63 L787.87,1656.62 L786.79,1654.61 L785.73,1652.60 L784.71,1650.60 L783.71,1648.59 L782.75,1646.58 L781.83,1644.57 L780.95,1642.56 L780.11,1640.55 L779.32,1638.54 L778.57,1636.53 L777.87,1634.52 L777.21,1632.51 L776.59,1630.51 L776.01,1628.50 L775.47,1626.49 L774.97,1624.48 L774.50,1622.47 L774.07,1620.46 L773.67,1618.45 L773.30,1616.44 L772.97,1614.43 L772.66,1612.43 L772.38,1610.42 L772.12,1608.41 L771.90,1606.40 L771.69,1604.39 L771.51,1602.38 L771.35,1600.37 L771.21,1598.36 L771.08,1596.35 L770.98,1594.35 L770.89,1592.34 L770.81,1590.33 L770.75,1588.32 L770.70,1586.31 L770.66,1584.30 L770.63,1582.29 L770.61,1580.28 L770.59,1578.27 L770.58,1576.27 L770.57,1574.26 L770.56,1572.25 L770.56,1570.24 L770.55,1568.23 L770.54,1566.22 L770.53,1564.21 L770.52,1562.20 L770.50,1560.19 L770.47,1558.19 L770.44,1556.18 L770.40,1554.17 L770.36,1552.16 L770.32,1550.15 L770.28,1548.14 L770.24,1546.13 L770.21,1544.12 L770.18,1542.11 L770.16,1540.10 L770.14,1538.10 L770.13,1536.09 L770.14,1534.08 L770.16,1532.07 L770.19,1530.06 L770.23,1528.05 L770.30,1526.04 L770.38,1524.03 L770.48,1522.02 L770.60,1520.02 L770.75,1518.01 L770.92,1516.00 L771.12,1513.99 L771.34,1511.98 L771.59,1509.97 L771.87,1507.96 L772.19,1505.95 L772.52,1503.94 L772.89,1501.94 L773.29,1499.93 L773.71,1497.92 L774.16,1495.91 L774.64,1493.90 L775.14,1491.89 L775.67,1489.88 L776.22,1487.87 L776.80,1485.86 L777.40,1483.86 L778.03,1481.85 L778.68,1479.84 L779.35,1477.83 L780.04,1475.82 L780.76,1473.81 L781.50,1471.80 L782.26,1469.79 L783.04,1467.78 L783.83,1465.78 L784.64,1463.77 L785.46,1461.76 L786.30,1459.75 L787.14,1457.74 L788.00,1455.73 L788.86,1453.72 L789.72,1451.71 L790.60,1449.70 L791.47,1447.70 L792.34,1445.69 L793.22,1443.68 L794.09,1441.67 L794.95,1439.66 L795.81,1437.65 L796.67,1435.64 L797.51,1433.63 L798.35,1431.62 L799.17,1429.61 L799.98,1427.61 L800.77,1425.60 L801.54,1423.59 L802.30,1421.58 L803.04,1419.57 L803.75,1417.56 L804.45,1415.55 L805.11,1413.54 L805.75,1411.53 L806.36,1409.53 L806.95,1407.52 L807.50,1405.51 L808.03,1403.50 L808.55,1401.49 L809.04,1399.48 L809.52,1397.47 L809.99,1395.46 L810.44,1393.45 L810.89,1391.45 L811.31,1389.44 L811.73,1387.43 L812.13,1385.42 L812.52,1383.41 L812.90,1381.40 L813.27,1379.39 L813.62,1377.38 L813.96,1375.37 L814.29,1373.37 L814.61,1371.36 L814.92,1369.35 L815.22,1367.34 L815.51,1365.33 L815.79,1363.32 L816.06,1361.31 L816.32,1359.30 L816.57,1357.29 L816.81,1355.29 L817.04,1353.28 L817.26,1351.27 L817.47,1349.26 L817.67,1347.25 L817.86,1345.24 L818.04,1343.23 L818.22,1341.22 L818.38,1339.21 L818.53,1337.20 L818.68,1335.20 L818.82,1333.19 L818.94,1331.18 L819.06,1329.17 L819.17,1327.16 L819.27,1325.15 L819.36,1323.14 L819.44,1321.13 L819.51,1319.12 L819.57,1317.12 L819.63,1315.11 L819.67,1313.10 L819.71,1311.09 L819.74,1309.08 L819.76,1307.07 L819.77,1305.06 L819.77,1303.05 L819.76,1301.04 L819.74,1299.04 L819.72,1297.03 L819.69,1295.02 L819.64,1293.01 L819.60,1291.00 Z" fill="#00C6F6" stroke="#000" stroke-width="1.45" stroke-linejoin="round"/>
<line x1="821.20" y1="1316.10" x2="821.20" y2="1696.80" stroke="#000" stroke-width="1.15"/>
<rect x="817.56" y="1492.90" width="7.28" height="118.40" fill="#000"/>
<ellipse cx="821.20" cy="1549.80" rx="4.77" ry="5.57" fill="#fff"/>
<path d="M937.80,1366.50 L957.80,1366.50 L958.34,1368.51 L958.92,1370.51 L959.53,1372.52 L960.18,1374.52 L960.86,1376.53 L961.57,1378.54 L962.32,1380.54 L963.09,1382.55 L963.90,1384.55 L964.73,1386.56 L965.60,1388.57 L966.49,1390.57 L967.40,1392.58 L968.35,1394.58 L969.31,1396.59 L970.30,1398.59 L971.31,1400.60 L972.35,1402.61 L973.40,1404.61 L974.47,1406.62 L975.56,1408.62 L976.67,1410.63 L977.80,1412.64 L978.93,1414.64 L980.06,1416.65 L981.17,1418.65 L982.26,1420.66 L983.32,1422.67 L984.33,1424.67 L985.29,1426.68 L986.18,1428.68 L986.99,1430.69 L987.72,1432.70 L988.36,1434.70 L988.91,1436.71 L989.39,1438.71 L989.81,1440.72 L990.18,1442.72 L990.50,1444.73 L990.79,1446.74 L991.05,1448.74 L991.27,1450.75 L991.47,1452.75 L991.64,1454.76 L991.78,1456.77 L991.91,1458.77 L992.01,1460.78 L992.10,1462.78 L992.18,1464.79 L992.24,1466.80 L992.30,1468.80 L992.35,1470.81 L992.40,1472.81 L992.45,1474.82 L992.50,1476.83 L992.55,1478.83 L992.61,1480.84 L992.69,1482.84 L992.77,1484.85 L992.87,1486.86 L992.98,1488.86 L993.12,1490.87 L993.28,1492.87 L993.46,1494.88 L993.67,1496.88 L993.92,1498.89 L994.18,1500.90 L994.48,1502.90 L994.78,1504.91 L995.11,1506.91 L995.44,1508.92 L995.78,1510.93 L996.12,1512.93 L996.45,1514.94 L996.78,1516.94 L997.10,1518.95 L997.40,1520.96 L997.68,1522.96 L997.93,1524.97 L998.16,1526.97 L998.35,1528.98 L998.50,1530.99 L998.62,1532.99 L998.70,1535.00 L998.74,1537.00 L998.75,1539.01 L998.72,1541.02 L998.66,1543.02 L998.57,1545.03 L998.44,1547.03 L998.28,1549.04 L998.09,1551.04 L997.87,1553.05 L997.62,1555.06 L997.33,1557.06 L997.03,1559.07 L996.69,1561.07 L996.33,1563.08 L995.94,1565.09 L995.52,1567.09 L995.08,1569.10 L994.62,1571.10 L994.14,1573.11 L993.63,1575.12 L993.10,1577.12 L992.55,1579.13 L991.97,1581.13 L991.38,1583.14 L990.78,1585.15 L990.15,1587.15 L989.50,1589.16 L988.84,1591.16 L988.17,1593.17 L987.48,1595.17 L986.77,1597.18 L986.05,1599.19 L985.32,1601.19 L984.58,1603.20 L983.82,1605.20 L983.06,1607.21 L982.28,1609.22 L981.50,1611.22 L980.71,1613.23 L979.91,1615.23 L979.10,1617.24 L978.29,1619.25 L977.47,1621.25 L976.65,1623.26 L975.83,1625.26 L975.00,1627.27 L974.17,1629.28 L973.33,1631.28 L972.50,1633.29 L971.67,1635.29 L970.84,1637.30 L970.00,1639.31 L969.18,1641.31 L968.35,1643.32 L967.53,1645.32 L966.71,1647.33 L965.90,1649.33 L965.09,1651.34 L964.29,1653.35 L963.50,1655.35 L962.71,1657.36 L961.93,1659.36 L961.17,1661.37 L960.41,1663.38 L959.67,1665.38 L958.93,1667.39 L958.21,1669.39 L957.50,1671.40 L938.10,1671.40 L937.39,1669.39 L936.67,1667.39 L935.93,1665.38 L935.19,1663.38 L934.43,1661.37 L933.67,1659.36 L932.89,1657.36 L932.10,1655.35 L931.31,1653.35 L930.51,1651.34 L929.70,1649.33 L928.89,1647.33 L928.07,1645.32 L927.25,1643.32 L926.42,1641.31 L925.60,1639.31 L924.76,1637.30 L923.93,1635.29 L923.10,1633.29 L922.27,1631.28 L921.43,1629.28 L920.60,1627.27 L919.77,1625.26 L918.95,1623.26 L918.13,1621.25 L917.31,1619.25 L916.50,1617.24 L915.69,1615.23 L914.89,1613.23 L914.10,1611.22 L913.32,1609.22 L912.54,1607.21 L911.78,1605.20 L911.02,1603.20 L910.28,1601.19 L909.55,1599.19 L908.83,1597.18 L908.12,1595.17 L907.43,1593.17 L906.76,1591.16 L906.10,1589.16 L905.45,1587.15 L904.82,1585.15 L904.22,1583.14 L903.63,1581.13 L903.05,1579.13 L902.50,1577.12 L901.97,1575.12 L901.46,1573.11 L900.98,1571.10 L900.52,1569.10 L900.08,1567.09 L899.66,1565.09 L899.27,1563.08 L898.91,1561.07 L898.57,1559.07 L898.27,1557.06 L897.98,1555.06 L897.73,1553.05 L897.51,1551.04 L897.32,1549.04 L897.16,1547.03 L897.03,1545.03 L896.94,1543.02 L896.88,1541.02 L896.85,1539.01 L896.86,1537.00 L896.90,1535.00 L896.98,1532.99 L897.10,1530.99 L897.25,1528.98 L897.44,1526.97 L897.67,1524.97 L897.92,1522.96 L898.20,1520.96 L898.50,1518.95 L898.82,1516.94 L899.15,1514.94 L899.48,1512.93 L899.82,1510.93 L900.16,1508.92 L900.49,1506.91 L900.82,1504.91 L901.12,1502.90 L901.42,1500.90 L901.68,1498.89 L901.93,1496.88 L902.14,1494.88 L902.32,1492.87 L902.48,1490.87 L902.62,1488.86 L902.73,1486.86 L902.83,1484.85 L902.91,1482.84 L902.99,1480.84 L903.05,1478.83 L903.10,1476.83 L903.15,1474.82 L903.20,1472.81 L903.25,1470.81 L903.30,1468.80 L903.36,1466.80 L903.42,1464.79 L903.50,1462.78 L903.59,1460.78 L903.69,1458.77 L903.82,1456.77 L903.96,1454.76 L904.13,1452.75 L904.33,1450.75 L904.55,1448.74 L904.81,1446.74 L905.10,1444.73 L905.42,1442.72 L905.79,1440.72 L906.21,1438.71 L906.69,1436.71 L907.24,1434.70 L907.88,1432.70 L908.61,1430.69 L909.42,1428.68 L910.31,1426.68 L911.27,1424.67 L912.28,1422.67 L913.34,1420.66 L914.43,1418.65 L915.54,1416.65 L916.67,1414.64 L917.80,1412.64 L918.93,1410.63 L920.04,1408.62 L921.13,1406.62 L922.20,1404.61 L923.25,1402.61 L924.29,1400.60 L925.30,1398.59 L926.29,1396.59 L927.25,1394.58 L928.20,1392.58 L929.11,1390.57 L930.00,1388.57 L930.87,1386.56 L931.70,1384.55 L932.51,1382.55 L933.28,1380.54 L934.03,1378.54 L934.74,1376.53 L935.42,1374.52 L936.07,1372.52 L936.68,1370.51 L937.26,1368.51 L937.80,1366.50 Z" fill="#00C6F6" stroke="#000" stroke-width="1.45" stroke-linejoin="round"/>
<line x1="947.80" y1="1366.50" x2="947.80" y2="1671.40" stroke="#000" stroke-width="1.15"/>
<rect x="944.16" y="1455.40" width="7.28" height="115.80" fill="#000"/>
<ellipse cx="947.80" cy="1520.10" rx="4.77" ry="5.57" fill="#fff"/>
<path d="M1066.60,1390.20 L1082.40,1390.20 L1082.82,1392.20 L1083.32,1394.21 L1083.87,1396.21 L1084.50,1398.22 L1085.17,1400.22 L1085.91,1402.23 L1086.69,1404.23 L1087.51,1406.23 L1088.38,1408.24 L1089.29,1410.24 L1090.23,1412.25 L1091.20,1414.25 L1092.20,1416.25 L1093.22,1418.26 L1094.26,1420.26 L1095.31,1422.27 L1096.37,1424.27 L1097.45,1426.28 L1098.53,1428.28 L1099.62,1430.28 L1100.71,1432.29 L1101.80,1434.29 L1102.88,1436.30 L1103.96,1438.30 L1105.04,1440.31 L1106.10,1442.31 L1107.15,1444.31 L1108.19,1446.32 L1109.21,1448.32 L1110.21,1450.33 L1111.18,1452.33 L1112.14,1454.34 L1113.06,1456.34 L1113.96,1458.34 L1114.82,1460.35 L1115.65,1462.35 L1116.45,1464.36 L1117.21,1466.36 L1117.93,1468.36 L1118.63,1470.37 L1119.29,1472.37 L1119.92,1474.38 L1120.51,1476.38 L1121.08,1478.39 L1121.61,1480.39 L1122.11,1482.39 L1122.57,1484.40 L1123.01,1486.40 L1123.41,1488.41 L1123.78,1490.41 L1124.12,1492.42 L1124.43,1494.42 L1124.71,1496.42 L1124.96,1498.43 L1125.18,1500.43 L1125.37,1502.44 L1125.53,1504.44 L1125.65,1506.45 L1125.75,1508.45 L1125.81,1510.45 L1125.84,1512.46 L1125.84,1514.46 L1125.81,1516.47 L1125.74,1518.47 L1125.64,1520.47 L1125.50,1522.48 L1125.33,1524.48 L1125.12,1526.49 L1124.88,1528.49 L1124.60,1530.50 L1124.29,1532.50 L1123.94,1534.50 L1123.55,1536.51 L1123.12,1538.51 L1122.66,1540.52 L1122.16,1542.52 L1121.62,1544.53 L1121.05,1546.53 L1120.44,1548.53 L1119.81,1550.54 L1119.15,1552.54 L1118.45,1554.55 L1117.74,1556.55 L1117.00,1558.55 L1116.24,1560.56 L1115.45,1562.56 L1114.65,1564.57 L1113.83,1566.57 L1113.00,1568.58 L1112.15,1570.58 L1111.29,1572.58 L1110.42,1574.59 L1109.55,1576.59 L1108.66,1578.60 L1107.77,1580.60 L1106.88,1582.61 L1105.98,1584.61 L1105.08,1586.61 L1104.19,1588.62 L1103.30,1590.62 L1102.41,1592.63 L1101.54,1594.63 L1100.66,1596.64 L1099.80,1598.64 L1098.95,1600.64 L1098.12,1602.65 L1097.30,1604.65 L1096.50,1606.66 L1095.71,1608.66 L1094.95,1610.66 L1094.20,1612.67 L1093.48,1614.67 L1092.79,1616.68 L1092.12,1618.68 L1091.49,1620.69 L1090.88,1622.69 L1090.30,1624.69 L1089.75,1626.70 L1089.22,1628.70 L1088.72,1630.71 L1088.24,1632.71 L1087.79,1634.72 L1087.35,1636.72 L1086.94,1638.72 L1086.55,1640.73 L1086.17,1642.73 L1085.81,1644.74 L1085.47,1646.74 L1085.14,1648.75 L1084.82,1650.75 L1084.52,1652.75 L1084.22,1654.76 L1083.94,1656.76 L1083.66,1658.77 L1083.39,1660.77 L1083.13,1662.77 L1082.87,1664.78 L1082.61,1666.78 L1082.36,1668.79 L1082.11,1670.79 L1081.86,1672.80 L1081.60,1674.80 L1067.40,1674.80 L1067.14,1672.80 L1066.89,1670.79 L1066.64,1668.79 L1066.39,1666.78 L1066.13,1664.78 L1065.87,1662.77 L1065.61,1660.77 L1065.34,1658.77 L1065.06,1656.76 L1064.78,1654.76 L1064.48,1652.75 L1064.18,1650.75 L1063.86,1648.75 L1063.53,1646.74 L1063.19,1644.74 L1062.83,1642.73 L1062.45,1640.73 L1062.06,1638.72 L1061.65,1636.72 L1061.21,1634.72 L1060.76,1632.71 L1060.28,1630.71 L1059.78,1628.70 L1059.25,1626.70 L1058.70,1624.69 L1058.12,1622.69 L1057.51,1620.69 L1056.88,1618.68 L1056.21,1616.68 L1055.52,1614.67 L1054.80,1612.67 L1054.05,1610.66 L1053.29,1608.66 L1052.50,1606.66 L1051.70,1604.65 L1050.88,1602.65 L1050.05,1600.64 L1049.20,1598.64 L1048.34,1596.64 L1047.46,1594.63 L1046.59,1592.63 L1045.70,1590.62 L1044.81,1588.62 L1043.92,1586.61 L1043.02,1584.61 L1042.12,1582.61 L1041.23,1580.60 L1040.34,1578.60 L1039.45,1576.59 L1038.58,1574.59 L1037.71,1572.58 L1036.85,1570.58 L1036.00,1568.58 L1035.17,1566.57 L1034.35,1564.57 L1033.55,1562.56 L1032.76,1560.56 L1032.00,1558.55 L1031.26,1556.55 L1030.55,1554.55 L1029.85,1552.54 L1029.19,1550.54 L1028.56,1548.53 L1027.95,1546.53 L1027.38,1544.53 L1026.84,1542.52 L1026.34,1540.52 L1025.88,1538.51 L1025.45,1536.51 L1025.06,1534.50 L1024.71,1532.50 L1024.40,1530.50 L1024.12,1528.49 L1023.88,1526.49 L1023.67,1524.48 L1023.50,1522.48 L1023.36,1520.47 L1023.26,1518.47 L1023.19,1516.47 L1023.16,1514.46 L1023.16,1512.46 L1023.19,1510.45 L1023.25,1508.45 L1023.35,1506.45 L1023.47,1504.44 L1023.63,1502.44 L1023.82,1500.43 L1024.04,1498.43 L1024.29,1496.42 L1024.57,1494.42 L1024.88,1492.42 L1025.22,1490.41 L1025.59,1488.41 L1025.99,1486.40 L1026.43,1484.40 L1026.89,1482.39 L1027.39,1480.39 L1027.92,1478.39 L1028.49,1476.38 L1029.08,1474.38 L1029.71,1472.37 L1030.37,1470.37 L1031.07,1468.36 L1031.79,1466.36 L1032.55,1464.36 L1033.35,1462.35 L1034.18,1460.35 L1035.04,1458.34 L1035.94,1456.34 L1036.86,1454.34 L1037.82,1452.33 L1038.79,1450.33 L1039.79,1448.32 L1040.81,1446.32 L1041.85,1444.31 L1042.90,1442.31 L1043.96,1440.31 L1045.04,1438.30 L1046.12,1436.30 L1047.20,1434.29 L1048.29,1432.29 L1049.38,1430.28 L1050.47,1428.28 L1051.55,1426.28 L1052.63,1424.27 L1053.69,1422.27 L1054.74,1420.26 L1055.78,1418.26 L1056.80,1416.25 L1057.80,1414.25 L1058.77,1412.25 L1059.71,1410.24 L1060.62,1408.24 L1061.49,1406.23 L1062.31,1404.23 L1063.09,1402.23 L1063.83,1400.22 L1064.50,1398.22 L1065.13,1396.21 L1065.68,1394.21 L1066.18,1392.20 L1066.60,1390.20 Z" fill="#00C6F6" stroke="#000" stroke-width="1.45" stroke-linejoin="round"/>
<line x1="1074.50" y1="1390.20" x2="1074.50" y2="1674.80" stroke="#000" stroke-width="1.15"/>
<rect x="1070.86" y="1477.80" width="7.28" height="83.00" fill="#000"/>
<ellipse cx="1074.50" cy="1519.00" rx="4.77" ry="5.57" fill="#fff"/>
<path d="M1191.80,1335.10 L1211.20,1335.10 L1211.33,1337.11 L1211.48,1339.12 L1211.67,1341.13 L1211.89,1343.14 L1212.14,1345.15 L1212.41,1347.16 L1212.72,1349.17 L1213.05,1351.18 L1213.41,1353.19 L1213.79,1355.20 L1214.20,1357.21 L1214.63,1359.22 L1215.09,1361.23 L1215.56,1363.24 L1216.06,1365.25 L1216.58,1367.26 L1217.12,1369.27 L1217.68,1371.28 L1218.25,1373.29 L1218.84,1375.30 L1219.45,1377.31 L1220.07,1379.32 L1220.71,1381.33 L1221.36,1383.34 L1222.02,1385.35 L1222.70,1387.36 L1223.38,1389.37 L1224.08,1391.38 L1224.78,1393.39 L1225.50,1395.40 L1226.22,1397.41 L1226.94,1399.42 L1227.67,1401.43 L1228.41,1403.44 L1229.15,1405.45 L1229.89,1407.46 L1230.64,1409.47 L1231.38,1411.48 L1232.13,1413.49 L1232.87,1415.50 L1233.62,1417.51 L1234.36,1419.52 L1235.10,1421.53 L1235.83,1423.54 L1236.56,1425.55 L1237.28,1427.56 L1238.00,1429.57 L1238.71,1431.58 L1239.41,1433.59 L1240.10,1435.60 L1240.78,1437.61 L1241.45,1439.62 L1242.10,1441.63 L1242.75,1443.64 L1243.38,1445.65 L1244.00,1447.66 L1244.60,1449.67 L1245.18,1451.68 L1245.75,1453.69 L1246.30,1455.70 L1246.83,1457.71 L1247.34,1459.72 L1247.82,1461.73 L1248.29,1463.74 L1248.74,1465.75 L1249.16,1467.76 L1249.56,1469.77 L1249.93,1471.78 L1250.28,1473.79 L1250.59,1475.80 L1250.89,1477.81 L1251.15,1479.82 L1251.38,1481.83 L1251.59,1483.84 L1251.76,1485.85 L1251.90,1487.86 L1252.00,1489.87 L1252.08,1491.88 L1252.12,1493.89 L1252.12,1495.90 L1252.08,1497.91 L1252.01,1499.92 L1251.90,1501.93 L1251.76,1503.94 L1251.58,1505.96 L1251.36,1507.97 L1251.11,1509.98 L1250.83,1511.99 L1250.51,1514.00 L1250.17,1516.01 L1249.80,1518.02 L1249.40,1520.03 L1248.98,1522.04 L1248.53,1524.05 L1248.06,1526.06 L1247.56,1528.07 L1247.05,1530.08 L1246.52,1532.09 L1245.97,1534.10 L1245.40,1536.11 L1244.82,1538.12 L1244.22,1540.13 L1243.61,1542.14 L1242.99,1544.15 L1242.36,1546.16 L1241.72,1548.17 L1241.07,1550.18 L1240.41,1552.19 L1239.76,1554.20 L1239.09,1556.21 L1238.43,1558.22 L1237.76,1560.23 L1237.09,1562.24 L1236.43,1564.25 L1235.77,1566.26 L1235.11,1568.27 L1234.45,1570.28 L1233.81,1572.29 L1233.17,1574.30 L1232.54,1576.31 L1231.92,1578.32 L1231.31,1580.33 L1230.72,1582.34 L1230.14,1584.35 L1229.57,1586.36 L1229.02,1588.37 L1228.49,1590.38 L1227.98,1592.39 L1227.49,1594.40 L1227.02,1596.41 L1226.58,1598.42 L1226.16,1600.43 L1225.76,1602.44 L1225.39,1604.45 L1225.05,1606.46 L1224.72,1608.47 L1224.42,1610.48 L1224.13,1612.49 L1223.86,1614.50 L1223.61,1616.51 L1223.37,1618.52 L1223.15,1620.53 L1222.94,1622.54 L1222.74,1624.55 L1222.55,1626.56 L1222.37,1628.57 L1222.19,1630.58 L1222.03,1632.59 L1221.86,1634.60 L1221.70,1636.61 L1221.54,1638.62 L1221.38,1640.63 L1221.23,1642.64 L1221.06,1644.65 L1220.90,1646.66 L1220.73,1648.67 L1220.56,1650.68 L1220.37,1652.69 L1220.18,1654.70 L1219.98,1656.71 L1219.77,1658.72 L1219.54,1660.73 L1219.30,1662.74 L1219.05,1664.75 L1218.78,1666.76 L1218.49,1668.77 L1218.18,1670.78 L1217.85,1672.79 L1217.50,1674.80 L1185.50,1674.80 L1185.15,1672.79 L1184.82,1670.78 L1184.51,1668.77 L1184.22,1666.76 L1183.95,1664.75 L1183.70,1662.74 L1183.46,1660.73 L1183.23,1658.72 L1183.02,1656.71 L1182.82,1654.70 L1182.63,1652.69 L1182.44,1650.68 L1182.27,1648.67 L1182.10,1646.66 L1181.94,1644.65 L1181.77,1642.64 L1181.62,1640.63 L1181.46,1638.62 L1181.30,1636.61 L1181.14,1634.60 L1180.97,1632.59 L1180.81,1630.58 L1180.63,1628.57 L1180.45,1626.56 L1180.26,1624.55 L1180.06,1622.54 L1179.85,1620.53 L1179.63,1618.52 L1179.39,1616.51 L1179.14,1614.50 L1178.87,1612.49 L1178.58,1610.48 L1178.28,1608.47 L1177.95,1606.46 L1177.61,1604.45 L1177.24,1602.44 L1176.84,1600.43 L1176.42,1598.42 L1175.98,1596.41 L1175.51,1594.40 L1175.02,1592.39 L1174.51,1590.38 L1173.98,1588.37 L1173.43,1586.36 L1172.86,1584.35 L1172.28,1582.34 L1171.69,1580.33 L1171.08,1578.32 L1170.46,1576.31 L1169.83,1574.30 L1169.19,1572.29 L1168.55,1570.28 L1167.89,1568.27 L1167.23,1566.26 L1166.57,1564.25 L1165.91,1562.24 L1165.24,1560.23 L1164.57,1558.22 L1163.91,1556.21 L1163.24,1554.20 L1162.59,1552.19 L1161.93,1550.18 L1161.28,1548.17 L1160.64,1546.16 L1160.01,1544.15 L1159.39,1542.14 L1158.78,1540.13 L1158.18,1538.12 L1157.60,1536.11 L1157.03,1534.10 L1156.48,1532.09 L1155.95,1530.08 L1155.44,1528.07 L1154.94,1526.06 L1154.47,1524.05 L1154.02,1522.04 L1153.60,1520.03 L1153.20,1518.02 L1152.83,1516.01 L1152.49,1514.00 L1152.17,1511.99 L1151.89,1509.98 L1151.64,1507.97 L1151.42,1505.96 L1151.24,1503.94 L1151.10,1501.93 L1150.99,1499.92 L1150.92,1497.91 L1150.88,1495.90 L1150.88,1493.89 L1150.92,1491.88 L1151.00,1489.87 L1151.10,1487.86 L1151.24,1485.85 L1151.41,1483.84 L1151.62,1481.83 L1151.85,1479.82 L1152.11,1477.81 L1152.41,1475.80 L1152.72,1473.79 L1153.07,1471.78 L1153.44,1469.77 L1153.84,1467.76 L1154.26,1465.75 L1154.71,1463.74 L1155.18,1461.73 L1155.66,1459.72 L1156.17,1457.71 L1156.70,1455.70 L1157.25,1453.69 L1157.82,1451.68 L1158.40,1449.67 L1159.00,1447.66 L1159.62,1445.65 L1160.25,1443.64 L1160.90,1441.63 L1161.55,1439.62 L1162.22,1437.61 L1162.90,1435.60 L1163.59,1433.59 L1164.29,1431.58 L1165.00,1429.57 L1165.72,1427.56 L1166.44,1425.55 L1167.17,1423.54 L1167.90,1421.53 L1168.64,1419.52 L1169.38,1417.51 L1170.13,1415.50 L1170.87,1413.49 L1171.62,1411.48 L1172.36,1409.47 L1173.11,1407.46 L1173.85,1405.45 L1174.59,1403.44 L1175.33,1401.43 L1176.06,1399.42 L1176.78,1397.41 L1177.50,1395.40 L1178.22,1393.39 L1178.92,1391.38 L1179.62,1389.37 L1180.30,1387.36 L1180.98,1385.35 L1181.64,1383.34 L1182.29,1381.33 L1182.93,1379.32 L1183.55,1377.31 L1184.16,1375.30 L1184.75,1373.29 L1185.32,1371.28 L1185.88,1369.27 L1186.42,1367.26 L1186.94,1365.25 L1187.44,1363.24 L1187.91,1361.23 L1188.37,1359.22 L1188.80,1357.21 L1189.21,1355.20 L1189.59,1353.19 L1189.95,1351.18 L1190.28,1349.17 L1190.59,1347.16 L1190.86,1345.15 L1191.11,1343.14 L1191.33,1341.13 L1191.52,1339.12 L1191.67,1337.11 L1191.80,1335.10 Z" fill="#00C6F6" stroke="#000" stroke-width="1.45" stroke-linejoin="round"/>
<line x1="1201.50" y1="1335.10" x2="1201.50" y2="1674.80" stroke="#000" stroke-width="1.15"/>
<rect x="1197.86" y="1454.20" width="7.28" height="88.40" fill="#000"/>
<ellipse cx="1201.50" cy="1502.80" rx="4.77" ry="5.57" fill="#fff"/>
<rect x="737.60" y="1228.70" width="547.60" height="486.10" fill="none" stroke="#000" stroke-width="1.30"/>
<line x1="725.90" y1="1670.60" x2="737.60" y2="1670.60" stroke="#000" stroke-width="1.30"/>
<text transform="translate(711.60,1670.60) scale(0.910,1) rotate(-90)" font-size="21.20" text-anchor="middle" font-weight="normal">1</text>
<line x1="725.90" y1="1605.10" x2="737.60" y2="1605.10" stroke="#000" stroke-width="1.30"/>
<text transform="translate(711.60,1605.10) scale(0.910,1) rotate(-90)" font-size="21.20" text-anchor="middle" font-weight="normal">2</text>
<line x1="725.90" y1="1539.60" x2="737.60" y2="1539.60" stroke="#000" stroke-width="1.30"/>
<text transform="translate(711.60,1539.60) scale(0.910,1) rotate(-90)" font-size="21.20" text-anchor="middle" font-weight="normal">3</text>
<line x1="725.90" y1="1474.10" x2="737.60" y2="1474.10" stroke="#000" stroke-width="1.30"/>
<text transform="translate(711.60,1474.10) scale(0.910,1) rotate(-90)" font-size="21.20" text-anchor="middle" font-weight="normal">4</text>
<line x1="725.90" y1="1408.60" x2="737.60" y2="1408.60" stroke="#000" stroke-width="1.30"/>
<text transform="translate(711.60,1408.60) scale(0.910,1) rotate(-90)" font-size="21.20" text-anchor="middle" font-weight="normal">5</text>
<line x1="725.90" y1="1343.10" x2="737.60" y2="1343.10" stroke="#000" stroke-width="1.30"/>
<text transform="translate(711.60,1343.10) scale(0.910,1) rotate(-90)" font-size="21.20" text-anchor="middle" font-weight="normal">6</text>
<line x1="725.90" y1="1277.60" x2="737.60" y2="1277.60" stroke="#000" stroke-width="1.30"/>
<text transform="translate(711.60,1277.60) scale(0.910,1) rotate(-90)" font-size="21.20" text-anchor="middle" font-weight="normal">7</text>
<line x1="821.26" y1="1714.80" x2="821.26" y2="1727.90" stroke="#000" stroke-width="1.30"/>
<text transform="translate(821.26,1759.50) scale(0.855,1)" font-size="21.20" text-anchor="middle" font-weight="normal">Stage I</text>
<line x1="948.02" y1="1714.80" x2="948.02" y2="1727.90" stroke="#000" stroke-width="1.30"/>
<text transform="translate(948.02,1759.50) scale(0.855,1)" font-size="21.20" text-anchor="middle" font-weight="normal">Stage II</text>
<line x1="1074.78" y1="1714.80" x2="1074.78" y2="1727.90" stroke="#000" stroke-width="1.30"/>
<text transform="translate(1074.78,1759.50) scale(0.855,1)" font-size="21.20" text-anchor="middle" font-weight="normal">Stage III</text>
<line x1="1201.54" y1="1714.80" x2="1201.54" y2="1727.90" stroke="#000" stroke-width="1.30"/>
<text transform="translate(1201.54,1759.50) scale(0.855,1)" font-size="21.20" text-anchor="middle" font-weight="normal">Stage IV</text>
<text transform="translate(1253.50,1256.50) scale(0.855,1)" font-size="23.20" text-anchor="end" font-weight="normal">F value = 5.38</text>
<text transform="translate(1253.50,1282.90) scale(0.855,1)" font-size="23.20" text-anchor="end" font-weight="normal">Pr(&gt;F) = 0.00119</text>
<text transform="translate(703.20,1218.00) scale(0.940,1)" font-size="47.00" font-weight="bold" style="stroke:none">F</text>
</g>
<g id="pG">
<path d="M155.20,1888.70 L162.20,1888.70 L162.33,1890.70 L162.46,1892.71 L162.61,1894.71 L162.78,1896.71 L162.95,1898.72 L163.14,1900.72 L163.33,1902.72 L163.54,1904.72 L163.75,1906.73 L163.98,1908.73 L164.21,1910.73 L164.45,1912.74 L164.70,1914.74 L164.96,1916.74 L165.22,1918.75 L165.49,1920.75 L165.77,1922.75 L166.06,1924.75 L166.35,1926.76 L166.64,1928.76 L166.94,1930.76 L167.25,1932.77 L167.56,1934.77 L167.87,1936.77 L168.19,1938.78 L168.51,1940.78 L168.83,1942.78 L169.15,1944.78 L169.48,1946.79 L169.81,1948.79 L170.13,1950.79 L170.46,1952.80 L170.79,1954.80 L171.12,1956.80 L171.45,1958.81 L171.78,1960.81 L172.11,1962.81 L172.44,1964.82 L172.77,1966.82 L173.10,1968.82 L173.44,1970.82 L173.79,1972.83 L174.14,1974.83 L174.49,1976.83 L174.85,1978.84 L175.22,1980.84 L175.60,1982.84 L175.98,1984.85 L176.38,1986.85 L176.78,1988.85 L177.20,1990.85 L177.63,1992.86 L178.07,1994.86 L178.52,1996.86 L178.99,1998.87 L179.47,2000.87 L179.96,2002.87 L180.47,2004.88 L180.98,2006.88 L181.50,2008.88 L182.04,2010.88 L182.58,2012.89 L183.13,2014.89 L183.69,2016.89 L184.26,2018.90 L184.83,2020.90 L185.41,2022.90 L185.99,2024.91 L186.58,2026.91 L187.17,2028.91 L187.77,2030.92 L188.37,2032.92 L188.97,2034.92 L189.57,2036.92 L190.18,2038.93 L190.78,2040.93 L191.38,2042.93 L191.99,2044.94 L192.59,2046.94 L193.19,2048.94 L193.78,2050.95 L194.38,2052.95 L194.96,2054.95 L195.55,2056.95 L196.12,2058.96 L196.69,2060.96 L197.26,2062.96 L197.81,2064.97 L198.36,2066.97 L198.90,2068.97 L199.43,2070.98 L199.94,2072.98 L200.45,2074.98 L200.95,2076.98 L201.43,2078.99 L201.90,2080.99 L202.35,2082.99 L202.79,2085.00 L203.21,2087.00 L203.62,2089.00 L204.02,2091.01 L204.39,2093.01 L204.75,2095.01 L205.08,2097.02 L205.40,2099.02 L205.70,2101.02 L205.98,2103.02 L206.24,2105.03 L206.49,2107.03 L206.71,2109.03 L206.91,2111.04 L207.09,2113.04 L207.24,2115.04 L207.38,2117.05 L207.50,2119.05 L207.59,2121.05 L207.66,2123.05 L207.71,2125.06 L207.74,2127.06 L207.74,2129.06 L207.72,2131.07 L207.68,2133.07 L207.62,2135.07 L207.53,2137.08 L207.41,2139.08 L207.28,2141.08 L207.12,2143.08 L206.93,2145.09 L206.73,2147.09 L206.51,2149.09 L206.28,2151.10 L206.03,2153.10 L205.77,2155.10 L205.50,2157.11 L205.23,2159.11 L204.95,2161.11 L204.68,2163.12 L204.40,2165.12 L204.13,2167.12 L203.86,2169.12 L203.60,2171.13 L203.35,2173.13 L203.11,2175.13 L202.89,2177.14 L202.68,2179.14 L202.50,2181.14 L202.33,2183.15 L202.19,2185.15 L202.07,2187.15 L201.97,2189.15 L201.89,2191.16 L201.82,2193.16 L201.77,2195.16 L201.72,2197.17 L201.68,2199.17 L201.65,2201.17 L201.61,2203.18 L201.58,2205.18 L201.54,2207.18 L201.49,2209.18 L201.43,2211.19 L201.36,2213.19 L201.28,2215.19 L201.18,2217.20 L201.06,2219.20 L200.92,2221.20 L200.75,2223.21 L200.56,2225.21 L200.34,2227.21 L200.09,2229.22 L199.80,2231.22 L199.49,2233.22 L199.14,2235.22 L198.76,2237.23 L198.33,2239.23 L197.87,2241.23 L197.37,2243.24 L196.83,2245.24 L196.25,2247.24 L195.64,2249.25 L194.98,2251.25 L194.30,2253.25 L193.57,2255.25 L192.81,2257.26 L192.02,2259.26 L191.19,2261.26 L190.32,2263.27 L189.42,2265.27 L188.49,2267.27 L187.52,2269.28 L186.52,2271.28 L185.48,2273.28 L184.42,2275.28 L183.32,2277.29 L182.19,2279.29 L181.02,2281.29 L179.83,2283.30 L178.60,2285.30 L138.80,2285.30 L137.57,2283.30 L136.38,2281.29 L135.21,2279.29 L134.08,2277.29 L132.98,2275.28 L131.92,2273.28 L130.88,2271.28 L129.88,2269.28 L128.91,2267.27 L127.98,2265.27 L127.08,2263.27 L126.21,2261.26 L125.38,2259.26 L124.59,2257.26 L123.83,2255.25 L123.10,2253.25 L122.42,2251.25 L121.76,2249.25 L121.15,2247.24 L120.57,2245.24 L120.03,2243.24 L119.53,2241.23 L119.07,2239.23 L118.64,2237.23 L118.26,2235.22 L117.91,2233.22 L117.60,2231.22 L117.31,2229.22 L117.06,2227.21 L116.84,2225.21 L116.65,2223.21 L116.48,2221.20 L116.34,2219.20 L116.22,2217.20 L116.12,2215.19 L116.04,2213.19 L115.97,2211.19 L115.91,2209.18 L115.86,2207.18 L115.82,2205.18 L115.79,2203.18 L115.75,2201.17 L115.72,2199.17 L115.68,2197.17 L115.63,2195.16 L115.58,2193.16 L115.51,2191.16 L115.43,2189.15 L115.33,2187.15 L115.21,2185.15 L115.07,2183.15 L114.90,2181.14 L114.72,2179.14 L114.51,2177.14 L114.29,2175.13 L114.05,2173.13 L113.80,2171.13 L113.54,2169.12 L113.27,2167.12 L113.00,2165.12 L112.72,2163.12 L112.45,2161.11 L112.17,2159.11 L111.90,2157.11 L111.63,2155.10 L111.37,2153.10 L111.12,2151.10 L110.89,2149.09 L110.67,2147.09 L110.47,2145.09 L110.28,2143.08 L110.12,2141.08 L109.99,2139.08 L109.87,2137.08 L109.78,2135.07 L109.72,2133.07 L109.68,2131.07 L109.66,2129.06 L109.66,2127.06 L109.69,2125.06 L109.74,2123.05 L109.81,2121.05 L109.90,2119.05 L110.02,2117.05 L110.16,2115.04 L110.31,2113.04 L110.49,2111.04 L110.69,2109.03 L110.91,2107.03 L111.16,2105.03 L111.42,2103.02 L111.70,2101.02 L112.00,2099.02 L112.32,2097.02 L112.65,2095.01 L113.01,2093.01 L113.38,2091.01 L113.78,2089.00 L114.19,2087.00 L114.61,2085.00 L115.05,2082.99 L115.50,2080.99 L115.97,2078.99 L116.45,2076.98 L116.95,2074.98 L117.46,2072.98 L117.97,2070.98 L118.50,2068.97 L119.04,2066.97 L119.59,2064.97 L120.14,2062.96 L120.71,2060.96 L121.28,2058.96 L121.85,2056.95 L122.44,2054.95 L123.02,2052.95 L123.62,2050.95 L124.21,2048.94 L124.81,2046.94 L125.41,2044.94 L126.02,2042.93 L126.62,2040.93 L127.22,2038.93 L127.83,2036.92 L128.43,2034.92 L129.03,2032.92 L129.63,2030.92 L130.23,2028.91 L130.82,2026.91 L131.41,2024.91 L131.99,2022.90 L132.57,2020.90 L133.14,2018.90 L133.71,2016.89 L134.27,2014.89 L134.82,2012.89 L135.36,2010.88 L135.90,2008.88 L136.42,2006.88 L136.93,2004.88 L137.44,2002.87 L137.93,2000.87 L138.41,1998.87 L138.88,1996.86 L139.33,1994.86 L139.77,1992.86 L140.20,1990.85 L140.62,1988.85 L141.02,1986.85 L141.42,1984.85 L141.80,1982.84 L142.18,1980.84 L142.55,1978.84 L142.91,1976.83 L143.26,1974.83 L143.61,1972.83 L143.96,1970.82 L144.30,1968.82 L144.63,1966.82 L144.96,1964.82 L145.29,1962.81 L145.62,1960.81 L145.95,1958.81 L146.28,1956.80 L146.61,1954.80 L146.94,1952.80 L147.27,1950.79 L147.59,1948.79 L147.92,1946.79 L148.25,1944.78 L148.57,1942.78 L148.89,1940.78 L149.21,1938.78 L149.53,1936.77 L149.84,1934.77 L150.15,1932.77 L150.46,1930.76 L150.76,1928.76 L151.05,1926.76 L151.34,1924.75 L151.63,1922.75 L151.91,1920.75 L152.18,1918.75 L152.44,1916.74 L152.70,1914.74 L152.95,1912.74 L153.19,1910.73 L153.42,1908.73 L153.65,1906.73 L153.86,1904.72 L154.07,1902.72 L154.26,1900.72 L154.45,1898.72 L154.62,1896.71 L154.79,1894.71 L154.94,1892.71 L155.07,1890.70 L155.20,1888.70 Z" fill="#00C6F6" stroke="#000" stroke-width="1.45" stroke-linejoin="round"/>
<line x1="158.70" y1="1888.70" x2="158.70" y2="2285.30" stroke="#000" stroke-width="1.15"/>
<rect x="155.21" y="2062.80" width="6.98" height="147.00" fill="#000"/>
<ellipse cx="158.70" cy="2134.20" rx="4.58" ry="5.58" fill="#fff"/>
<path d="M273.40,1893.90 L287.40,1893.90 L287.69,1895.90 L287.99,1897.91 L288.31,1899.91 L288.65,1901.92 L289.01,1903.92 L289.39,1905.92 L289.79,1907.93 L290.20,1909.93 L290.63,1911.94 L291.07,1913.94 L291.53,1915.94 L292.00,1917.95 L292.49,1919.95 L292.99,1921.96 L293.50,1923.96 L294.03,1925.96 L294.56,1927.97 L295.11,1929.97 L295.67,1931.98 L296.24,1933.98 L296.82,1935.98 L297.41,1937.99 L298.00,1939.99 L298.61,1942.00 L299.22,1944.00 L299.83,1946.01 L300.46,1948.01 L301.08,1950.01 L301.72,1952.02 L302.36,1954.02 L303.00,1956.03 L303.64,1958.03 L304.29,1960.03 L304.94,1962.04 L305.59,1964.04 L306.23,1966.05 L306.88,1968.05 L307.53,1970.05 L308.17,1972.06 L308.80,1974.06 L309.44,1976.07 L310.06,1978.07 L310.68,1980.07 L311.29,1982.08 L311.89,1984.08 L312.48,1986.09 L313.06,1988.09 L313.62,1990.09 L314.17,1992.10 L314.71,1994.10 L315.24,1996.11 L315.75,1998.11 L316.24,2000.11 L316.71,2002.12 L317.16,2004.12 L317.60,2006.13 L318.01,2008.13 L318.40,2010.13 L318.77,2012.14 L319.11,2014.14 L319.43,2016.15 L319.72,2018.15 L320.00,2020.15 L320.25,2022.16 L320.48,2024.16 L320.70,2026.17 L320.90,2028.17 L321.09,2030.17 L321.27,2032.18 L321.44,2034.18 L321.60,2036.19 L321.76,2038.19 L321.91,2040.19 L322.06,2042.20 L322.21,2044.20 L322.36,2046.21 L322.52,2048.21 L322.68,2050.22 L322.84,2052.22 L323.02,2054.22 L323.21,2056.23 L323.41,2058.23 L323.62,2060.24 L323.85,2062.24 L324.10,2064.24 L324.36,2066.25 L324.64,2068.25 L324.92,2070.26 L325.21,2072.26 L325.51,2074.26 L325.81,2076.27 L326.11,2078.27 L326.40,2080.28 L326.69,2082.28 L326.98,2084.28 L327.25,2086.29 L327.52,2088.29 L327.77,2090.30 L328.00,2092.30 L328.22,2094.30 L328.41,2096.31 L328.58,2098.31 L328.73,2100.32 L328.85,2102.32 L328.94,2104.32 L329.00,2106.33 L329.03,2108.33 L329.02,2110.34 L328.98,2112.34 L328.90,2114.34 L328.78,2116.35 L328.62,2118.35 L328.42,2120.36 L328.18,2122.36 L327.91,2124.36 L327.61,2126.37 L327.28,2128.37 L326.92,2130.38 L326.53,2132.38 L326.12,2134.38 L325.69,2136.39 L325.24,2138.39 L324.77,2140.40 L324.28,2142.40 L323.78,2144.41 L323.26,2146.41 L322.74,2148.41 L322.20,2150.42 L321.66,2152.42 L321.10,2154.43 L320.55,2156.43 L319.98,2158.43 L319.42,2160.44 L318.86,2162.44 L318.29,2164.45 L317.73,2166.45 L317.18,2168.45 L316.63,2170.46 L316.09,2172.46 L315.55,2174.47 L315.01,2176.47 L314.47,2178.47 L313.94,2180.48 L313.40,2182.48 L312.86,2184.49 L312.31,2186.49 L311.76,2188.49 L311.20,2190.50 L310.63,2192.50 L310.04,2194.51 L309.45,2196.51 L308.84,2198.51 L308.22,2200.52 L307.60,2202.52 L306.96,2204.53 L306.32,2206.53 L305.68,2208.53 L305.03,2210.54 L304.39,2212.54 L303.74,2214.55 L303.09,2216.55 L302.45,2218.55 L301.81,2220.56 L301.18,2222.56 L300.56,2224.57 L299.95,2226.57 L299.35,2228.57 L298.76,2230.58 L298.18,2232.58 L297.62,2234.59 L297.08,2236.59 L296.55,2238.59 L296.04,2240.60 L295.54,2242.60 L295.05,2244.61 L294.59,2246.61 L294.13,2248.62 L293.69,2250.62 L293.26,2252.62 L292.84,2254.63 L292.44,2256.63 L292.05,2258.64 L291.67,2260.64 L291.30,2262.64 L290.94,2264.65 L290.59,2266.65 L290.25,2268.66 L289.92,2270.66 L289.61,2272.66 L289.30,2274.67 L289.00,2276.67 L288.70,2278.68 L288.42,2280.68 L288.14,2282.68 L287.87,2284.69 L287.61,2286.69 L287.35,2288.70 L287.10,2290.70 L273.70,2290.70 L273.45,2288.70 L273.19,2286.69 L272.93,2284.69 L272.66,2282.68 L272.38,2280.68 L272.10,2278.68 L271.80,2276.67 L271.50,2274.67 L271.19,2272.66 L270.88,2270.66 L270.55,2268.66 L270.21,2266.65 L269.86,2264.65 L269.50,2262.64 L269.13,2260.64 L268.75,2258.64 L268.36,2256.63 L267.96,2254.63 L267.54,2252.62 L267.11,2250.62 L266.67,2248.62 L266.21,2246.61 L265.75,2244.61 L265.26,2242.60 L264.76,2240.60 L264.25,2238.59 L263.72,2236.59 L263.18,2234.59 L262.62,2232.58 L262.04,2230.58 L261.45,2228.57 L260.85,2226.57 L260.24,2224.57 L259.62,2222.56 L258.99,2220.56 L258.35,2218.55 L257.71,2216.55 L257.06,2214.55 L256.41,2212.54 L255.77,2210.54 L255.12,2208.53 L254.48,2206.53 L253.84,2204.53 L253.20,2202.52 L252.58,2200.52 L251.96,2198.51 L251.35,2196.51 L250.76,2194.51 L250.17,2192.50 L249.60,2190.50 L249.04,2188.49 L248.49,2186.49 L247.94,2184.49 L247.40,2182.48 L246.86,2180.48 L246.33,2178.47 L245.79,2176.47 L245.25,2174.47 L244.71,2172.46 L244.17,2170.46 L243.62,2168.45 L243.07,2166.45 L242.51,2164.45 L241.94,2162.44 L241.38,2160.44 L240.82,2158.43 L240.25,2156.43 L239.70,2154.43 L239.14,2152.42 L238.60,2150.42 L238.06,2148.41 L237.54,2146.41 L237.02,2144.41 L236.52,2142.40 L236.03,2140.40 L235.56,2138.39 L235.11,2136.39 L234.68,2134.38 L234.27,2132.38 L233.88,2130.38 L233.52,2128.37 L233.19,2126.37 L232.89,2124.36 L232.62,2122.36 L232.38,2120.36 L232.18,2118.35 L232.02,2116.35 L231.90,2114.34 L231.82,2112.34 L231.78,2110.34 L231.77,2108.33 L231.80,2106.33 L231.86,2104.32 L231.95,2102.32 L232.07,2100.32 L232.22,2098.31 L232.39,2096.31 L232.58,2094.30 L232.80,2092.30 L233.03,2090.30 L233.28,2088.29 L233.55,2086.29 L233.82,2084.28 L234.11,2082.28 L234.40,2080.28 L234.69,2078.27 L234.99,2076.27 L235.29,2074.26 L235.59,2072.26 L235.88,2070.26 L236.16,2068.25 L236.44,2066.25 L236.70,2064.24 L236.95,2062.24 L237.18,2060.24 L237.39,2058.23 L237.59,2056.23 L237.78,2054.22 L237.96,2052.22 L238.12,2050.22 L238.28,2048.21 L238.44,2046.21 L238.59,2044.20 L238.74,2042.20 L238.89,2040.19 L239.04,2038.19 L239.20,2036.19 L239.36,2034.18 L239.53,2032.18 L239.71,2030.17 L239.90,2028.17 L240.10,2026.17 L240.32,2024.16 L240.55,2022.16 L240.80,2020.15 L241.08,2018.15 L241.37,2016.15 L241.69,2014.14 L242.03,2012.14 L242.40,2010.13 L242.79,2008.13 L243.20,2006.13 L243.64,2004.12 L244.09,2002.12 L244.56,2000.11 L245.05,1998.11 L245.56,1996.11 L246.09,1994.10 L246.63,1992.10 L247.18,1990.09 L247.74,1988.09 L248.32,1986.09 L248.91,1984.08 L249.51,1982.08 L250.12,1980.07 L250.74,1978.07 L251.36,1976.07 L252.00,1974.06 L252.63,1972.06 L253.27,1970.05 L253.92,1968.05 L254.57,1966.05 L255.21,1964.04 L255.86,1962.04 L256.51,1960.03 L257.16,1958.03 L257.80,1956.03 L258.44,1954.02 L259.08,1952.02 L259.72,1950.01 L260.34,1948.01 L260.97,1946.01 L261.58,1944.00 L262.19,1942.00 L262.80,1939.99 L263.39,1937.99 L263.98,1935.98 L264.56,1933.98 L265.13,1931.98 L265.69,1929.97 L266.24,1927.97 L266.77,1925.96 L267.30,1923.96 L267.81,1921.96 L268.31,1919.95 L268.80,1917.95 L269.27,1915.94 L269.73,1913.94 L270.17,1911.94 L270.60,1909.93 L271.01,1907.93 L271.41,1905.92 L271.79,1903.92 L272.15,1901.92 L272.49,1899.91 L272.81,1897.91 L273.11,1895.90 L273.40,1893.90 Z" fill="#00C6F6" stroke="#000" stroke-width="1.45" stroke-linejoin="round"/>
<line x1="280.40" y1="1893.90" x2="280.40" y2="2290.70" stroke="#000" stroke-width="1.15"/>
<rect x="276.91" y="2025.40" width="6.98" height="128.60" fill="#000"/>
<ellipse cx="280.40" cy="2107.20" rx="4.58" ry="5.58" fill="#fff"/>
<path d="M394.30,1908.90 L410.10,1908.90 L410.54,1910.90 L410.98,1912.90 L411.42,1914.90 L411.87,1916.91 L412.32,1918.91 L412.78,1920.91 L413.24,1922.91 L413.72,1924.91 L414.19,1926.91 L414.68,1928.92 L415.16,1930.92 L415.66,1932.92 L416.16,1934.92 L416.67,1936.92 L417.19,1938.92 L417.71,1940.93 L418.24,1942.93 L418.78,1944.93 L419.32,1946.93 L419.87,1948.93 L420.43,1950.93 L421.00,1952.94 L421.57,1954.94 L422.16,1956.94 L422.75,1958.94 L423.35,1960.94 L423.95,1962.94 L424.57,1964.95 L425.18,1966.95 L425.80,1968.95 L426.43,1970.95 L427.05,1972.95 L427.68,1974.95 L428.31,1976.96 L428.93,1978.96 L429.56,1980.96 L430.19,1982.96 L430.81,1984.96 L431.43,1986.96 L432.04,1988.96 L432.65,1990.97 L433.25,1992.97 L433.85,1994.97 L434.44,1996.97 L435.02,1998.97 L435.59,2000.97 L436.15,2002.98 L436.70,2004.98 L437.23,2006.98 L437.76,2008.98 L438.27,2010.98 L438.76,2012.98 L439.24,2014.99 L439.71,2016.99 L440.16,2018.99 L440.59,2020.99 L441.01,2022.99 L441.41,2024.99 L441.80,2027.00 L442.18,2029.00 L442.54,2031.00 L442.89,2033.00 L443.23,2035.00 L443.55,2037.00 L443.86,2039.01 L444.17,2041.01 L444.45,2043.01 L444.73,2045.01 L445.00,2047.01 L445.26,2049.01 L445.51,2051.02 L445.75,2053.02 L445.98,2055.02 L446.20,2057.02 L446.41,2059.02 L446.62,2061.02 L446.82,2063.02 L447.01,2065.03 L447.19,2067.03 L447.37,2069.03 L447.54,2071.03 L447.71,2073.03 L447.87,2075.03 L448.03,2077.04 L448.18,2079.04 L448.32,2081.04 L448.47,2083.04 L448.61,2085.04 L448.75,2087.04 L448.88,2089.05 L449.01,2091.05 L449.15,2093.05 L449.27,2095.05 L449.40,2097.05 L449.53,2099.05 L449.65,2101.06 L449.77,2103.06 L449.88,2105.06 L449.98,2107.06 L450.07,2109.06 L450.15,2111.06 L450.23,2113.07 L450.28,2115.07 L450.33,2117.07 L450.35,2119.07 L450.36,2121.07 L450.36,2123.07 L450.33,2125.08 L450.28,2127.08 L450.21,2129.08 L450.12,2131.08 L450.00,2133.08 L449.85,2135.08 L449.68,2137.08 L449.47,2139.09 L449.24,2141.09 L448.98,2143.09 L448.68,2145.09 L448.35,2147.09 L447.98,2149.09 L447.58,2151.10 L447.14,2153.10 L446.65,2155.10 L446.13,2157.10 L445.57,2159.10 L444.97,2161.10 L444.33,2163.11 L443.66,2165.11 L442.97,2167.11 L442.25,2169.11 L441.50,2171.11 L440.73,2173.11 L439.95,2175.12 L439.15,2177.12 L438.35,2179.12 L437.53,2181.12 L436.71,2183.12 L435.88,2185.12 L435.05,2187.13 L434.23,2189.13 L433.41,2191.13 L432.61,2193.13 L431.81,2195.13 L431.03,2197.13 L430.26,2199.14 L429.51,2201.14 L428.77,2203.14 L428.04,2205.14 L427.33,2207.14 L426.63,2209.14 L425.94,2211.14 L425.27,2213.15 L424.61,2215.15 L423.96,2217.15 L423.33,2219.15 L422.71,2221.15 L422.10,2223.15 L421.51,2225.16 L420.92,2227.16 L420.35,2229.16 L419.80,2231.16 L419.25,2233.16 L418.72,2235.16 L418.20,2237.17 L417.69,2239.17 L417.20,2241.17 L416.71,2243.17 L416.24,2245.17 L415.78,2247.17 L415.33,2249.18 L414.89,2251.18 L414.46,2253.18 L414.05,2255.18 L413.65,2257.18 L413.25,2259.18 L412.87,2261.19 L412.50,2263.19 L412.14,2265.19 L411.79,2267.19 L411.45,2269.19 L411.12,2271.19 L410.80,2273.20 L410.50,2275.20 L410.20,2277.20 L409.90,2279.20 L394.50,2279.20 L394.20,2277.20 L393.90,2275.20 L393.60,2273.20 L393.28,2271.19 L392.95,2269.19 L392.61,2267.19 L392.26,2265.19 L391.90,2263.19 L391.53,2261.19 L391.15,2259.18 L390.75,2257.18 L390.35,2255.18 L389.94,2253.18 L389.51,2251.18 L389.07,2249.18 L388.62,2247.17 L388.16,2245.17 L387.69,2243.17 L387.20,2241.17 L386.71,2239.17 L386.20,2237.17 L385.68,2235.16 L385.15,2233.16 L384.60,2231.16 L384.05,2229.16 L383.48,2227.16 L382.89,2225.16 L382.30,2223.15 L381.69,2221.15 L381.07,2219.15 L380.44,2217.15 L379.79,2215.15 L379.13,2213.15 L378.46,2211.14 L377.77,2209.14 L377.07,2207.14 L376.36,2205.14 L375.63,2203.14 L374.89,2201.14 L374.14,2199.14 L373.37,2197.13 L372.59,2195.13 L371.79,2193.13 L370.99,2191.13 L370.17,2189.13 L369.35,2187.13 L368.52,2185.12 L367.69,2183.12 L366.87,2181.12 L366.05,2179.12 L365.25,2177.12 L364.45,2175.12 L363.67,2173.11 L362.90,2171.11 L362.15,2169.11 L361.43,2167.11 L360.74,2165.11 L360.07,2163.11 L359.43,2161.10 L358.83,2159.10 L358.27,2157.10 L357.75,2155.10 L357.26,2153.10 L356.82,2151.10 L356.42,2149.09 L356.05,2147.09 L355.72,2145.09 L355.42,2143.09 L355.16,2141.09 L354.93,2139.09 L354.72,2137.08 L354.55,2135.08 L354.40,2133.08 L354.28,2131.08 L354.19,2129.08 L354.12,2127.08 L354.07,2125.08 L354.04,2123.07 L354.04,2121.07 L354.05,2119.07 L354.07,2117.07 L354.12,2115.07 L354.17,2113.07 L354.25,2111.06 L354.33,2109.06 L354.42,2107.06 L354.52,2105.06 L354.63,2103.06 L354.75,2101.06 L354.87,2099.05 L355.00,2097.05 L355.13,2095.05 L355.25,2093.05 L355.39,2091.05 L355.52,2089.05 L355.65,2087.04 L355.79,2085.04 L355.93,2083.04 L356.08,2081.04 L356.22,2079.04 L356.37,2077.04 L356.53,2075.03 L356.69,2073.03 L356.86,2071.03 L357.03,2069.03 L357.21,2067.03 L357.39,2065.03 L357.58,2063.02 L357.78,2061.02 L357.99,2059.02 L358.20,2057.02 L358.42,2055.02 L358.65,2053.02 L358.89,2051.02 L359.14,2049.01 L359.40,2047.01 L359.67,2045.01 L359.95,2043.01 L360.23,2041.01 L360.54,2039.01 L360.85,2037.00 L361.17,2035.00 L361.51,2033.00 L361.86,2031.00 L362.22,2029.00 L362.60,2027.00 L362.99,2024.99 L363.39,2022.99 L363.81,2020.99 L364.24,2018.99 L364.69,2016.99 L365.16,2014.99 L365.64,2012.98 L366.13,2010.98 L366.64,2008.98 L367.17,2006.98 L367.70,2004.98 L368.25,2002.98 L368.81,2000.97 L369.38,1998.97 L369.96,1996.97 L370.55,1994.97 L371.15,1992.97 L371.75,1990.97 L372.36,1988.96 L372.97,1986.96 L373.59,1984.96 L374.21,1982.96 L374.84,1980.96 L375.47,1978.96 L376.09,1976.96 L376.72,1974.95 L377.35,1972.95 L377.97,1970.95 L378.60,1968.95 L379.22,1966.95 L379.83,1964.95 L380.45,1962.94 L381.05,1960.94 L381.65,1958.94 L382.24,1956.94 L382.83,1954.94 L383.40,1952.94 L383.97,1950.93 L384.53,1948.93 L385.08,1946.93 L385.62,1944.93 L386.16,1942.93 L386.69,1940.93 L387.21,1938.92 L387.73,1936.92 L388.24,1934.92 L388.74,1932.92 L389.24,1930.92 L389.72,1928.92 L390.21,1926.91 L390.68,1924.91 L391.16,1922.91 L391.62,1920.91 L392.08,1918.91 L392.53,1916.91 L392.98,1914.90 L393.42,1912.90 L393.86,1910.90 L394.30,1908.90 Z" fill="#00C6F6" stroke="#000" stroke-width="1.45" stroke-linejoin="round"/>
<line x1="402.20" y1="1908.90" x2="402.20" y2="2279.20" stroke="#000" stroke-width="1.15"/>
<rect x="398.71" y="2027.90" width="6.98" height="128.00" fill="#000"/>
<ellipse cx="402.20" cy="2100.20" rx="4.58" ry="5.58" fill="#fff"/>
<path d="M507.60,1899.60 L540.40,1899.60 L540.76,1901.61 L541.13,1903.62 L541.49,1905.63 L541.85,1907.63 L542.21,1909.64 L542.58,1911.65 L542.94,1913.66 L543.30,1915.67 L543.65,1917.68 L544.01,1919.69 L544.37,1921.69 L544.73,1923.70 L545.09,1925.71 L545.45,1927.72 L545.82,1929.73 L546.18,1931.74 L546.54,1933.75 L546.91,1935.75 L547.27,1937.76 L547.64,1939.77 L548.01,1941.78 L548.38,1943.79 L548.76,1945.80 L549.13,1947.81 L549.51,1949.81 L549.89,1951.82 L550.27,1953.83 L550.66,1955.84 L551.05,1957.85 L551.44,1959.86 L551.84,1961.87 L552.24,1963.87 L552.64,1965.88 L553.05,1967.89 L553.46,1969.90 L553.88,1971.91 L554.30,1973.92 L554.72,1975.93 L555.15,1977.93 L555.58,1979.94 L556.02,1981.95 L556.47,1983.96 L556.91,1985.97 L557.37,1987.98 L557.82,1989.99 L558.29,1991.99 L558.76,1994.00 L559.23,1996.01 L559.71,1998.02 L560.19,2000.03 L560.68,2002.04 L561.17,2004.05 L561.67,2006.06 L562.17,2008.06 L562.67,2010.07 L563.16,2012.08 L563.65,2014.09 L564.14,2016.10 L564.62,2018.11 L565.10,2020.12 L565.56,2022.12 L566.01,2024.13 L566.45,2026.14 L566.88,2028.15 L567.30,2030.16 L567.70,2032.17 L568.10,2034.18 L568.47,2036.18 L568.84,2038.19 L569.19,2040.20 L569.53,2042.21 L569.85,2044.22 L570.15,2046.23 L570.44,2048.24 L570.71,2050.24 L570.96,2052.25 L571.20,2054.26 L571.42,2056.27 L571.62,2058.28 L571.79,2060.29 L571.95,2062.30 L572.09,2064.30 L572.21,2066.31 L572.31,2068.32 L572.38,2070.33 L572.43,2072.34 L572.46,2074.35 L572.47,2076.36 L572.45,2078.36 L572.41,2080.37 L572.34,2082.38 L572.25,2084.39 L572.13,2086.40 L571.99,2088.41 L571.82,2090.42 L571.63,2092.42 L571.42,2094.43 L571.18,2096.44 L570.93,2098.45 L570.66,2100.46 L570.37,2102.47 L570.06,2104.48 L569.74,2106.48 L569.40,2108.49 L569.04,2110.50 L568.67,2112.51 L568.29,2114.52 L567.90,2116.53 L567.49,2118.54 L567.08,2120.54 L566.65,2122.55 L566.22,2124.56 L565.78,2126.57 L565.33,2128.58 L564.88,2130.59 L564.43,2132.60 L563.97,2134.60 L563.50,2136.61 L563.04,2138.62 L562.57,2140.63 L562.10,2142.64 L561.64,2144.65 L561.17,2146.66 L560.71,2148.66 L560.25,2150.67 L559.80,2152.68 L559.35,2154.69 L558.91,2156.70 L558.47,2158.71 L558.04,2160.72 L557.62,2162.72 L557.21,2164.73 L556.80,2166.74 L556.39,2168.75 L556.00,2170.76 L555.61,2172.77 L555.22,2174.78 L554.84,2176.78 L554.47,2178.79 L554.10,2180.80 L553.74,2182.81 L553.38,2184.82 L553.03,2186.83 L552.68,2188.84 L552.33,2190.84 L552.00,2192.85 L551.66,2194.86 L551.33,2196.87 L551.01,2198.88 L550.69,2200.89 L550.37,2202.90 L550.06,2204.91 L549.75,2206.91 L549.44,2208.92 L549.14,2210.93 L548.84,2212.94 L548.55,2214.95 L548.26,2216.96 L547.97,2218.97 L547.68,2220.97 L547.40,2222.98 L547.12,2224.99 L546.84,2227.00 L546.56,2229.01 L546.29,2231.02 L546.02,2233.03 L545.75,2235.03 L545.48,2237.04 L545.22,2239.05 L544.95,2241.06 L544.69,2243.07 L544.43,2245.08 L544.17,2247.09 L543.91,2249.09 L543.65,2251.10 L543.40,2253.11 L543.14,2255.12 L542.88,2257.13 L542.63,2259.14 L542.37,2261.15 L542.12,2263.15 L541.86,2265.16 L541.61,2267.17 L541.35,2269.18 L541.10,2271.19 L540.84,2273.20 L540.59,2275.21 L540.33,2277.21 L540.07,2279.22 L539.81,2281.23 L539.56,2283.24 L539.29,2285.25 L539.03,2287.26 L538.77,2289.27 L538.50,2291.27 L538.24,2293.28 L537.97,2295.29 L537.70,2297.30 L510.30,2297.30 L510.03,2295.29 L509.76,2293.28 L509.50,2291.27 L509.23,2289.27 L508.97,2287.26 L508.71,2285.25 L508.44,2283.24 L508.19,2281.23 L507.93,2279.22 L507.67,2277.21 L507.41,2275.21 L507.16,2273.20 L506.90,2271.19 L506.65,2269.18 L506.39,2267.17 L506.14,2265.16 L505.88,2263.15 L505.63,2261.15 L505.37,2259.14 L505.12,2257.13 L504.86,2255.12 L504.60,2253.11 L504.35,2251.10 L504.09,2249.09 L503.83,2247.09 L503.57,2245.08 L503.31,2243.07 L503.05,2241.06 L502.78,2239.05 L502.52,2237.04 L502.25,2235.03 L501.98,2233.03 L501.71,2231.02 L501.44,2229.01 L501.16,2227.00 L500.88,2224.99 L500.60,2222.98 L500.32,2220.97 L500.03,2218.97 L499.74,2216.96 L499.45,2214.95 L499.16,2212.94 L498.86,2210.93 L498.56,2208.92 L498.25,2206.91 L497.94,2204.91 L497.63,2202.90 L497.31,2200.89 L496.99,2198.88 L496.67,2196.87 L496.34,2194.86 L496.00,2192.85 L495.67,2190.84 L495.32,2188.84 L494.97,2186.83 L494.62,2184.82 L494.26,2182.81 L493.90,2180.80 L493.53,2178.79 L493.16,2176.78 L492.78,2174.78 L492.39,2172.77 L492.00,2170.76 L491.61,2168.75 L491.20,2166.74 L490.79,2164.73 L490.38,2162.72 L489.96,2160.72 L489.53,2158.71 L489.09,2156.70 L488.65,2154.69 L488.20,2152.68 L487.75,2150.67 L487.29,2148.66 L486.83,2146.66 L486.36,2144.65 L485.90,2142.64 L485.43,2140.63 L484.96,2138.62 L484.50,2136.61 L484.03,2134.60 L483.57,2132.60 L483.12,2130.59 L482.67,2128.58 L482.22,2126.57 L481.78,2124.56 L481.35,2122.55 L480.92,2120.54 L480.51,2118.54 L480.10,2116.53 L479.71,2114.52 L479.33,2112.51 L478.96,2110.50 L478.60,2108.49 L478.26,2106.48 L477.94,2104.48 L477.63,2102.47 L477.34,2100.46 L477.07,2098.45 L476.82,2096.44 L476.58,2094.43 L476.37,2092.42 L476.18,2090.42 L476.01,2088.41 L475.87,2086.40 L475.75,2084.39 L475.66,2082.38 L475.59,2080.37 L475.55,2078.36 L475.53,2076.36 L475.54,2074.35 L475.57,2072.34 L475.62,2070.33 L475.69,2068.32 L475.79,2066.31 L475.91,2064.30 L476.05,2062.30 L476.21,2060.29 L476.38,2058.28 L476.58,2056.27 L476.80,2054.26 L477.04,2052.25 L477.29,2050.24 L477.56,2048.24 L477.85,2046.23 L478.15,2044.22 L478.47,2042.21 L478.81,2040.20 L479.16,2038.19 L479.53,2036.18 L479.90,2034.18 L480.30,2032.17 L480.70,2030.16 L481.12,2028.15 L481.55,2026.14 L481.99,2024.13 L482.44,2022.12 L482.90,2020.12 L483.38,2018.11 L483.86,2016.10 L484.35,2014.09 L484.84,2012.08 L485.33,2010.07 L485.83,2008.06 L486.33,2006.06 L486.83,2004.05 L487.32,2002.04 L487.81,2000.03 L488.29,1998.02 L488.77,1996.01 L489.24,1994.00 L489.71,1991.99 L490.18,1989.99 L490.63,1987.98 L491.09,1985.97 L491.53,1983.96 L491.98,1981.95 L492.42,1979.94 L492.85,1977.93 L493.28,1975.93 L493.70,1973.92 L494.12,1971.91 L494.54,1969.90 L494.95,1967.89 L495.36,1965.88 L495.76,1963.87 L496.16,1961.87 L496.56,1959.86 L496.95,1957.85 L497.34,1955.84 L497.73,1953.83 L498.11,1951.82 L498.49,1949.81 L498.87,1947.81 L499.24,1945.80 L499.62,1943.79 L499.99,1941.78 L500.36,1939.77 L500.73,1937.76 L501.09,1935.75 L501.46,1933.75 L501.82,1931.74 L502.18,1929.73 L502.55,1927.72 L502.91,1925.71 L503.27,1923.70 L503.63,1921.69 L503.99,1919.69 L504.35,1917.68 L504.70,1915.67 L505.06,1913.66 L505.42,1911.65 L505.79,1909.64 L506.15,1907.63 L506.51,1905.63 L506.87,1903.62 L507.24,1901.61 L507.60,1899.60 Z" fill="#00C6F6" stroke="#000" stroke-width="1.45" stroke-linejoin="round"/>
<line x1="524.00" y1="1899.60" x2="524.00" y2="2297.30" stroke="#000" stroke-width="1.15"/>
<rect x="520.51" y="2033.50" width="6.98" height="118.00" fill="#000"/>
<ellipse cx="524.00" cy="2089.80" rx="4.58" ry="5.58" fill="#fff"/>
<rect x="78.60" y="1828.10" width="525.70" height="487.50" fill="none" stroke="#000" stroke-width="1.30"/>
<line x1="67.30" y1="2233.30" x2="78.60" y2="2233.30" stroke="#000" stroke-width="1.30"/>
<text transform="translate(54.00,2233.30) scale(0.910,1) rotate(-90)" font-size="21.20" text-anchor="middle" font-weight="normal">1</text>
<line x1="67.30" y1="2147.55" x2="78.60" y2="2147.55" stroke="#000" stroke-width="1.30"/>
<text transform="translate(54.00,2147.55) scale(0.910,1) rotate(-90)" font-size="21.20" text-anchor="middle" font-weight="normal">2</text>
<line x1="67.30" y1="2061.80" x2="78.60" y2="2061.80" stroke="#000" stroke-width="1.30"/>
<text transform="translate(54.00,2061.80) scale(0.910,1) rotate(-90)" font-size="21.20" text-anchor="middle" font-weight="normal">3</text>
<line x1="67.30" y1="1976.05" x2="78.60" y2="1976.05" stroke="#000" stroke-width="1.30"/>
<text transform="translate(54.00,1976.05) scale(0.910,1) rotate(-90)" font-size="21.20" text-anchor="middle" font-weight="normal">4</text>
<line x1="67.30" y1="1890.30" x2="78.60" y2="1890.30" stroke="#000" stroke-width="1.30"/>
<text transform="translate(54.00,1890.30) scale(0.910,1) rotate(-90)" font-size="21.20" text-anchor="middle" font-weight="normal">5</text>
<line x1="158.92" y1="2315.60" x2="158.92" y2="2328.20" stroke="#000" stroke-width="1.30"/>
<text transform="translate(158.92,2359.80) scale(0.820,1)" font-size="21.20" text-anchor="middle" font-weight="normal">Stage I</text>
<line x1="280.61" y1="2315.60" x2="280.61" y2="2328.20" stroke="#000" stroke-width="1.30"/>
<text transform="translate(280.61,2359.80) scale(0.820,1)" font-size="21.20" text-anchor="middle" font-weight="normal">Stage II</text>
<line x1="402.29" y1="2315.60" x2="402.29" y2="2328.20" stroke="#000" stroke-width="1.30"/>
<text transform="translate(402.29,2359.80) scale(0.820,1)" font-size="21.20" text-anchor="middle" font-weight="normal">Stage III</text>
<line x1="523.98" y1="2315.60" x2="523.98" y2="2328.20" stroke="#000" stroke-width="1.30"/>
<text transform="translate(523.98,2359.80) scale(0.820,1)" font-size="21.20" text-anchor="middle" font-weight="normal">Stage IV</text>
<text transform="translate(574.00,1854.00) scale(0.820,1)" font-size="23.20" text-anchor="end" font-weight="normal">F value = 7.4</text>
<text transform="translate(574.00,1881.10) scale(0.820,1)" font-size="23.20" text-anchor="end" font-weight="normal">Pr(&gt;F) = 7.5e−05</text>
<text transform="translate(1.65,1819.50) scale(0.960,1)" font-size="47.00" font-weight="bold" style="stroke:none">G</text>
</g>
<g id="pH">
<path d="M825.90,1892.50 L827.90,1892.50 L827.94,1894.50 L827.98,1896.51 L828.01,1898.51 L828.03,1900.51 L828.05,1902.51 L828.06,1904.52 L828.06,1906.52 L828.06,1908.52 L828.06,1910.52 L828.05,1912.53 L828.04,1914.53 L828.02,1916.53 L828.01,1918.53 L827.99,1920.54 L827.97,1922.54 L827.95,1924.54 L827.93,1926.54 L827.91,1928.55 L827.90,1930.55 L827.88,1932.55 L827.87,1934.55 L827.86,1936.56 L827.85,1938.56 L827.85,1940.56 L827.85,1942.56 L827.86,1944.57 L827.88,1946.57 L827.90,1948.57 L827.93,1950.57 L827.96,1952.58 L828.01,1954.58 L828.06,1956.58 L828.13,1958.58 L828.20,1960.59 L828.28,1962.59 L828.39,1964.59 L828.51,1966.59 L828.65,1968.60 L828.83,1970.60 L829.04,1972.60 L829.28,1974.60 L829.57,1976.61 L829.90,1978.61 L830.29,1980.61 L830.72,1982.61 L831.21,1984.62 L831.75,1986.62 L832.33,1988.62 L832.95,1990.62 L833.59,1992.63 L834.26,1994.63 L834.95,1996.63 L835.65,1998.64 L836.36,2000.64 L837.07,2002.64 L837.77,2004.64 L838.46,2006.65 L839.15,2008.65 L839.83,2010.65 L840.51,2012.65 L841.18,2014.66 L841.84,2016.66 L842.50,2018.66 L843.16,2020.66 L843.81,2022.67 L844.45,2024.67 L845.09,2026.67 L845.73,2028.67 L846.37,2030.68 L847.00,2032.68 L847.63,2034.68 L848.25,2036.68 L848.87,2038.69 L849.49,2040.69 L850.11,2042.69 L850.73,2044.69 L851.34,2046.70 L851.96,2048.70 L852.57,2050.70 L853.18,2052.70 L853.79,2054.71 L854.40,2056.71 L855.01,2058.71 L855.63,2060.71 L856.24,2062.72 L856.85,2064.72 L857.47,2066.72 L858.08,2068.72 L858.70,2070.73 L859.32,2072.73 L859.94,2074.73 L860.56,2076.73 L861.19,2078.74 L861.82,2080.74 L862.45,2082.74 L863.09,2084.74 L863.73,2086.75 L864.37,2088.75 L865.02,2090.75 L865.67,2092.76 L866.33,2094.76 L866.98,2096.76 L867.63,2098.76 L868.27,2100.77 L868.90,2102.77 L869.52,2104.77 L870.13,2106.77 L870.72,2108.78 L871.29,2110.78 L871.84,2112.78 L872.37,2114.78 L872.87,2116.79 L873.34,2118.79 L873.79,2120.79 L874.19,2122.79 L874.57,2124.80 L874.91,2126.80 L875.21,2128.80 L875.48,2130.80 L875.72,2132.81 L875.93,2134.81 L876.11,2136.81 L876.26,2138.81 L876.38,2140.82 L876.48,2142.82 L876.54,2144.82 L876.59,2146.82 L876.60,2148.83 L876.59,2150.83 L876.56,2152.83 L876.51,2154.83 L876.43,2156.84 L876.32,2158.84 L876.20,2160.84 L876.06,2162.84 L875.89,2164.85 L875.70,2166.85 L875.50,2168.85 L875.27,2170.85 L875.03,2172.86 L874.77,2174.86 L874.49,2176.86 L874.19,2178.86 L873.88,2180.87 L873.55,2182.87 L873.20,2184.87 L872.85,2186.88 L872.47,2188.88 L872.08,2190.88 L871.68,2192.88 L871.26,2194.89 L870.83,2196.89 L870.37,2198.89 L869.90,2200.89 L869.42,2202.90 L868.91,2204.90 L868.38,2206.90 L867.84,2208.90 L867.27,2210.91 L866.69,2212.91 L866.08,2214.91 L865.45,2216.91 L864.79,2218.92 L864.12,2220.92 L863.42,2222.92 L862.69,2224.92 L861.95,2226.93 L861.17,2228.93 L860.37,2230.93 L859.55,2232.93 L858.70,2234.94 L857.83,2236.94 L856.95,2238.94 L856.05,2240.94 L855.13,2242.95 L854.20,2244.95 L853.27,2246.95 L852.32,2248.95 L851.37,2250.96 L850.41,2252.96 L849.45,2254.96 L848.49,2256.96 L847.54,2258.97 L846.58,2260.97 L845.64,2262.97 L844.70,2264.97 L843.77,2266.98 L842.85,2268.98 L841.95,2270.98 L841.07,2272.98 L840.20,2274.99 L839.35,2276.99 L838.52,2278.99 L837.72,2280.99 L836.95,2283.00 L836.20,2285.00 L817.60,2285.00 L816.85,2283.00 L816.08,2280.99 L815.28,2278.99 L814.45,2276.99 L813.60,2274.99 L812.73,2272.98 L811.85,2270.98 L810.95,2268.98 L810.03,2266.98 L809.10,2264.97 L808.16,2262.97 L807.22,2260.97 L806.26,2258.97 L805.31,2256.96 L804.35,2254.96 L803.39,2252.96 L802.43,2250.96 L801.48,2248.95 L800.53,2246.95 L799.60,2244.95 L798.67,2242.95 L797.75,2240.94 L796.85,2238.94 L795.97,2236.94 L795.10,2234.94 L794.25,2232.93 L793.43,2230.93 L792.63,2228.93 L791.85,2226.93 L791.11,2224.92 L790.38,2222.92 L789.68,2220.92 L789.01,2218.92 L788.35,2216.91 L787.72,2214.91 L787.11,2212.91 L786.53,2210.91 L785.96,2208.90 L785.42,2206.90 L784.89,2204.90 L784.38,2202.90 L783.90,2200.89 L783.43,2198.89 L782.97,2196.89 L782.54,2194.89 L782.12,2192.88 L781.72,2190.88 L781.33,2188.88 L780.95,2186.88 L780.60,2184.87 L780.25,2182.87 L779.92,2180.87 L779.61,2178.86 L779.31,2176.86 L779.03,2174.86 L778.77,2172.86 L778.53,2170.85 L778.30,2168.85 L778.10,2166.85 L777.91,2164.85 L777.74,2162.84 L777.60,2160.84 L777.48,2158.84 L777.37,2156.84 L777.29,2154.83 L777.24,2152.83 L777.21,2150.83 L777.20,2148.83 L777.21,2146.82 L777.26,2144.82 L777.32,2142.82 L777.42,2140.82 L777.54,2138.81 L777.69,2136.81 L777.87,2134.81 L778.08,2132.81 L778.32,2130.80 L778.59,2128.80 L778.89,2126.80 L779.23,2124.80 L779.61,2122.79 L780.01,2120.79 L780.46,2118.79 L780.93,2116.79 L781.43,2114.78 L781.96,2112.78 L782.51,2110.78 L783.08,2108.78 L783.67,2106.77 L784.28,2104.77 L784.90,2102.77 L785.53,2100.77 L786.17,2098.76 L786.82,2096.76 L787.47,2094.76 L788.13,2092.76 L788.78,2090.75 L789.43,2088.75 L790.07,2086.75 L790.71,2084.74 L791.35,2082.74 L791.98,2080.74 L792.61,2078.74 L793.24,2076.73 L793.86,2074.73 L794.48,2072.73 L795.10,2070.73 L795.72,2068.72 L796.33,2066.72 L796.95,2064.72 L797.56,2062.72 L798.17,2060.71 L798.79,2058.71 L799.40,2056.71 L800.01,2054.71 L800.62,2052.70 L801.23,2050.70 L801.84,2048.70 L802.46,2046.70 L803.07,2044.69 L803.69,2042.69 L804.31,2040.69 L804.93,2038.69 L805.55,2036.68 L806.17,2034.68 L806.80,2032.68 L807.43,2030.68 L808.07,2028.67 L808.71,2026.67 L809.35,2024.67 L809.99,2022.67 L810.64,2020.66 L811.30,2018.66 L811.96,2016.66 L812.62,2014.66 L813.29,2012.65 L813.97,2010.65 L814.65,2008.65 L815.34,2006.65 L816.03,2004.64 L816.73,2002.64 L817.44,2000.64 L818.15,1998.64 L818.85,1996.63 L819.54,1994.63 L820.21,1992.63 L820.85,1990.62 L821.47,1988.62 L822.05,1986.62 L822.59,1984.62 L823.08,1982.61 L823.51,1980.61 L823.90,1978.61 L824.23,1976.61 L824.52,1974.60 L824.76,1972.60 L824.97,1970.60 L825.15,1968.60 L825.29,1966.59 L825.41,1964.59 L825.52,1962.59 L825.60,1960.59 L825.67,1958.58 L825.74,1956.58 L825.79,1954.58 L825.84,1952.58 L825.87,1950.57 L825.90,1948.57 L825.92,1946.57 L825.94,1944.57 L825.95,1942.56 L825.95,1940.56 L825.95,1938.56 L825.94,1936.56 L825.93,1934.55 L825.92,1932.55 L825.90,1930.55 L825.89,1928.55 L825.87,1926.54 L825.85,1924.54 L825.83,1922.54 L825.81,1920.54 L825.79,1918.53 L825.78,1916.53 L825.76,1914.53 L825.75,1912.53 L825.74,1910.52 L825.74,1908.52 L825.74,1906.52 L825.74,1904.52 L825.75,1902.51 L825.77,1900.51 L825.79,1898.51 L825.82,1896.51 L825.86,1894.50 L825.90,1892.50 Z" fill="#00C6F6" stroke="#000" stroke-width="1.45" stroke-linejoin="round"/>
<line x1="826.90" y1="1949.30" x2="826.90" y2="2285.00" stroke="#000" stroke-width="1.15"/>
<rect x="823.40" y="2101.90" width="7.00" height="101.60" fill="#000"/>
<ellipse cx="826.90" cy="2149.60" rx="4.58" ry="5.49" fill="#fff"/>
<path d="M943.70,1975.70 L954.10,1975.70 L954.30,1977.70 L954.54,1979.70 L954.80,1981.70 L955.09,1983.70 L955.42,1985.71 L955.77,1987.71 L956.16,1989.71 L956.57,1991.71 L957.01,1993.71 L957.47,1995.71 L957.96,1997.71 L958.48,1999.71 L959.01,2001.72 L959.58,2003.72 L960.16,2005.72 L960.77,2007.72 L961.40,2009.72 L962.05,2011.72 L962.72,2013.72 L963.41,2015.72 L964.12,2017.73 L964.85,2019.73 L965.59,2021.73 L966.35,2023.73 L967.12,2025.73 L967.91,2027.73 L968.72,2029.73 L969.53,2031.73 L970.36,2033.74 L971.21,2035.74 L972.06,2037.74 L972.92,2039.74 L973.80,2041.74 L974.68,2043.74 L975.57,2045.74 L976.47,2047.74 L977.37,2049.75 L978.28,2051.75 L979.18,2053.75 L980.09,2055.75 L980.98,2057.75 L981.87,2059.75 L982.75,2061.75 L983.62,2063.75 L984.47,2065.76 L985.31,2067.76 L986.12,2069.76 L986.91,2071.76 L987.68,2073.76 L988.43,2075.76 L989.16,2077.76 L989.85,2079.76 L990.53,2081.77 L991.17,2083.77 L991.79,2085.77 L992.39,2087.77 L992.95,2089.77 L993.49,2091.77 L993.99,2093.77 L994.47,2095.77 L994.91,2097.78 L995.32,2099.78 L995.70,2101.78 L996.05,2103.78 L996.36,2105.78 L996.64,2107.78 L996.88,2109.78 L997.09,2111.78 L997.25,2113.79 L997.39,2115.79 L997.48,2117.79 L997.53,2119.79 L997.54,2121.79 L997.52,2123.79 L997.45,2125.79 L997.34,2127.79 L997.19,2129.80 L997.00,2131.80 L996.77,2133.80 L996.51,2135.80 L996.20,2137.80 L995.87,2139.80 L995.49,2141.80 L995.08,2143.80 L994.64,2145.81 L994.17,2147.81 L993.66,2149.81 L993.12,2151.81 L992.56,2153.81 L991.96,2155.81 L991.35,2157.81 L990.70,2159.81 L990.05,2161.82 L989.37,2163.82 L988.69,2165.82 L987.99,2167.82 L987.29,2169.82 L986.58,2171.82 L985.88,2173.82 L985.17,2175.82 L984.48,2177.83 L983.79,2179.83 L983.11,2181.83 L982.44,2183.83 L981.78,2185.83 L981.13,2187.83 L980.48,2189.83 L979.83,2191.83 L979.19,2193.84 L978.55,2195.84 L977.91,2197.84 L977.27,2199.84 L976.62,2201.84 L975.97,2203.84 L975.32,2205.84 L974.66,2207.84 L973.99,2209.85 L973.31,2211.85 L972.62,2213.85 L971.92,2215.85 L971.21,2217.85 L970.49,2219.85 L969.77,2221.85 L969.04,2223.85 L968.31,2225.86 L967.58,2227.86 L966.86,2229.86 L966.14,2231.86 L965.43,2233.86 L964.73,2235.86 L964.05,2237.86 L963.37,2239.86 L962.71,2241.87 L962.05,2243.87 L961.42,2245.87 L960.79,2247.87 L960.19,2249.87 L959.60,2251.87 L959.02,2253.87 L958.46,2255.87 L957.92,2257.88 L957.40,2259.88 L956.90,2261.88 L956.42,2263.88 L955.97,2265.88 L955.53,2267.88 L955.11,2269.88 L954.72,2271.88 L954.36,2273.89 L954.01,2275.89 L953.70,2277.89 L953.41,2279.89 L953.14,2281.89 L952.91,2283.89 L952.70,2285.89 L952.52,2287.89 L952.38,2289.90 L952.26,2291.90 L952.17,2293.90 L952.12,2295.90 L952.10,2297.90 L945.70,2297.90 L945.68,2295.90 L945.63,2293.90 L945.54,2291.90 L945.42,2289.90 L945.28,2287.89 L945.10,2285.89 L944.89,2283.89 L944.66,2281.89 L944.39,2279.89 L944.10,2277.89 L943.79,2275.89 L943.44,2273.89 L943.08,2271.88 L942.69,2269.88 L942.27,2267.88 L941.83,2265.88 L941.38,2263.88 L940.90,2261.88 L940.40,2259.88 L939.88,2257.88 L939.34,2255.87 L938.78,2253.87 L938.20,2251.87 L937.61,2249.87 L937.01,2247.87 L936.38,2245.87 L935.75,2243.87 L935.09,2241.87 L934.43,2239.86 L933.75,2237.86 L933.07,2235.86 L932.37,2233.86 L931.66,2231.86 L930.94,2229.86 L930.22,2227.86 L929.49,2225.86 L928.76,2223.85 L928.03,2221.85 L927.31,2219.85 L926.59,2217.85 L925.88,2215.85 L925.18,2213.85 L924.49,2211.85 L923.81,2209.85 L923.14,2207.84 L922.48,2205.84 L921.83,2203.84 L921.18,2201.84 L920.53,2199.84 L919.89,2197.84 L919.25,2195.84 L918.61,2193.84 L917.97,2191.83 L917.32,2189.83 L916.67,2187.83 L916.02,2185.83 L915.36,2183.83 L914.69,2181.83 L914.01,2179.83 L913.32,2177.83 L912.63,2175.82 L911.92,2173.82 L911.22,2171.82 L910.51,2169.82 L909.81,2167.82 L909.11,2165.82 L908.43,2163.82 L907.75,2161.82 L907.10,2159.81 L906.45,2157.81 L905.84,2155.81 L905.24,2153.81 L904.68,2151.81 L904.14,2149.81 L903.63,2147.81 L903.16,2145.81 L902.72,2143.80 L902.31,2141.80 L901.93,2139.80 L901.60,2137.80 L901.29,2135.80 L901.03,2133.80 L900.80,2131.80 L900.61,2129.80 L900.46,2127.79 L900.35,2125.79 L900.28,2123.79 L900.26,2121.79 L900.27,2119.79 L900.32,2117.79 L900.41,2115.79 L900.55,2113.79 L900.71,2111.78 L900.92,2109.78 L901.16,2107.78 L901.44,2105.78 L901.75,2103.78 L902.10,2101.78 L902.48,2099.78 L902.89,2097.78 L903.33,2095.77 L903.81,2093.77 L904.31,2091.77 L904.85,2089.77 L905.41,2087.77 L906.01,2085.77 L906.63,2083.77 L907.27,2081.77 L907.95,2079.76 L908.64,2077.76 L909.37,2075.76 L910.12,2073.76 L910.89,2071.76 L911.68,2069.76 L912.49,2067.76 L913.33,2065.76 L914.18,2063.75 L915.05,2061.75 L915.93,2059.75 L916.82,2057.75 L917.71,2055.75 L918.62,2053.75 L919.52,2051.75 L920.43,2049.75 L921.33,2047.74 L922.23,2045.74 L923.12,2043.74 L924.00,2041.74 L924.88,2039.74 L925.74,2037.74 L926.59,2035.74 L927.44,2033.74 L928.27,2031.73 L929.08,2029.73 L929.89,2027.73 L930.68,2025.73 L931.45,2023.73 L932.21,2021.73 L932.95,2019.73 L933.68,2017.73 L934.39,2015.72 L935.08,2013.72 L935.75,2011.72 L936.40,2009.72 L937.03,2007.72 L937.64,2005.72 L938.22,2003.72 L938.79,2001.72 L939.32,1999.71 L939.84,1997.71 L940.33,1995.71 L940.79,1993.71 L941.23,1991.71 L941.64,1989.71 L942.03,1987.71 L942.38,1985.71 L942.71,1983.70 L943.00,1981.70 L943.26,1979.70 L943.50,1977.70 L943.70,1975.70 Z" fill="#00C6F6" stroke="#000" stroke-width="1.45" stroke-linejoin="round"/>
<line x1="948.90" y1="1975.70" x2="948.90" y2="2297.90" stroke="#000" stroke-width="1.15"/>
<rect x="945.40" y="2078.20" width="7.00" height="98.70" fill="#000"/>
<ellipse cx="948.90" cy="2129.70" rx="4.58" ry="5.49" fill="#fff"/>
<path d="M1063.70,2010.40 L1078.10,2010.40 L1078.55,2012.41 L1079.05,2014.42 L1079.61,2016.44 L1080.21,2018.45 L1080.85,2020.46 L1081.53,2022.47 L1082.25,2024.48 L1083.01,2026.50 L1083.80,2028.51 L1084.62,2030.52 L1085.47,2032.53 L1086.34,2034.54 L1087.24,2036.56 L1088.15,2038.57 L1089.09,2040.58 L1090.04,2042.59 L1091.00,2044.60 L1091.98,2046.62 L1092.96,2048.63 L1093.94,2050.64 L1094.93,2052.65 L1095.92,2054.66 L1096.91,2056.68 L1097.89,2058.69 L1098.87,2060.70 L1099.85,2062.71 L1100.83,2064.72 L1101.80,2066.74 L1102.76,2068.75 L1103.72,2070.76 L1104.67,2072.77 L1105.60,2074.78 L1106.52,2076.80 L1107.43,2078.81 L1108.32,2080.82 L1109.18,2082.83 L1110.03,2084.85 L1110.85,2086.86 L1111.65,2088.87 L1112.42,2090.88 L1113.16,2092.89 L1113.87,2094.91 L1114.55,2096.92 L1115.19,2098.93 L1115.80,2100.94 L1116.38,2102.95 L1116.91,2104.97 L1117.41,2106.98 L1117.86,2108.99 L1118.27,2111.00 L1118.64,2113.01 L1118.96,2115.03 L1119.23,2117.04 L1119.45,2119.05 L1119.62,2121.06 L1119.73,2123.07 L1119.79,2125.09 L1119.79,2127.10 L1119.74,2129.11 L1119.62,2131.12 L1119.44,2133.13 L1119.20,2135.15 L1118.90,2137.16 L1118.52,2139.17 L1118.09,2141.18 L1117.60,2143.19 L1117.05,2145.21 L1116.45,2147.22 L1115.80,2149.23 L1115.11,2151.24 L1114.38,2153.25 L1113.62,2155.27 L1112.82,2157.28 L1112.00,2159.29 L1111.15,2161.30 L1110.28,2163.31 L1109.40,2165.33 L1108.50,2167.34 L1107.60,2169.35 L1106.69,2171.36 L1105.78,2173.37 L1104.87,2175.39 L1103.97,2177.40 L1103.08,2179.41 L1102.19,2181.42 L1101.32,2183.43 L1100.45,2185.45 L1099.59,2187.46 L1098.73,2189.47 L1097.89,2191.48 L1097.06,2193.49 L1096.23,2195.51 L1095.42,2197.52 L1094.61,2199.53 L1093.81,2201.54 L1093.03,2203.55 L1092.25,2205.57 L1091.49,2207.58 L1090.73,2209.59 L1089.99,2211.60 L1089.25,2213.62 L1088.53,2215.63 L1087.82,2217.64 L1087.12,2219.65 L1086.44,2221.66 L1085.77,2223.68 L1085.10,2225.69 L1084.46,2227.70 L1083.82,2229.71 L1083.21,2231.72 L1082.60,2233.74 L1082.01,2235.75 L1081.43,2237.76 L1080.87,2239.77 L1080.33,2241.78 L1079.80,2243.80 L1079.29,2245.81 L1078.79,2247.82 L1078.32,2249.83 L1077.86,2251.84 L1077.41,2253.86 L1076.99,2255.87 L1076.58,2257.88 L1076.19,2259.89 L1075.82,2261.90 L1075.47,2263.92 L1075.14,2265.93 L1074.83,2267.94 L1074.55,2269.95 L1074.28,2271.96 L1074.03,2273.98 L1073.80,2275.99 L1073.60,2278.00 L1068.20,2278.00 L1068.00,2275.99 L1067.77,2273.98 L1067.52,2271.96 L1067.25,2269.95 L1066.97,2267.94 L1066.66,2265.93 L1066.33,2263.92 L1065.98,2261.90 L1065.61,2259.89 L1065.22,2257.88 L1064.81,2255.87 L1064.39,2253.86 L1063.94,2251.84 L1063.48,2249.83 L1063.01,2247.82 L1062.51,2245.81 L1062.00,2243.80 L1061.47,2241.78 L1060.93,2239.77 L1060.37,2237.76 L1059.79,2235.75 L1059.20,2233.74 L1058.59,2231.72 L1057.98,2229.71 L1057.34,2227.70 L1056.70,2225.69 L1056.03,2223.68 L1055.36,2221.66 L1054.68,2219.65 L1053.98,2217.64 L1053.27,2215.63 L1052.55,2213.62 L1051.81,2211.60 L1051.07,2209.59 L1050.31,2207.58 L1049.55,2205.57 L1048.77,2203.55 L1047.99,2201.54 L1047.19,2199.53 L1046.38,2197.52 L1045.57,2195.51 L1044.74,2193.49 L1043.91,2191.48 L1043.07,2189.47 L1042.21,2187.46 L1041.35,2185.45 L1040.48,2183.43 L1039.61,2181.42 L1038.72,2179.41 L1037.83,2177.40 L1036.93,2175.39 L1036.02,2173.37 L1035.11,2171.36 L1034.20,2169.35 L1033.30,2167.34 L1032.40,2165.33 L1031.52,2163.31 L1030.65,2161.30 L1029.80,2159.29 L1028.98,2157.28 L1028.18,2155.27 L1027.42,2153.25 L1026.69,2151.24 L1026.00,2149.23 L1025.35,2147.22 L1024.75,2145.21 L1024.20,2143.19 L1023.71,2141.18 L1023.28,2139.17 L1022.90,2137.16 L1022.60,2135.15 L1022.36,2133.13 L1022.18,2131.12 L1022.06,2129.11 L1022.01,2127.10 L1022.01,2125.09 L1022.07,2123.07 L1022.18,2121.06 L1022.35,2119.05 L1022.57,2117.04 L1022.84,2115.03 L1023.16,2113.01 L1023.53,2111.00 L1023.94,2108.99 L1024.39,2106.98 L1024.89,2104.97 L1025.42,2102.95 L1026.00,2100.94 L1026.61,2098.93 L1027.25,2096.92 L1027.93,2094.91 L1028.64,2092.89 L1029.38,2090.88 L1030.15,2088.87 L1030.95,2086.86 L1031.77,2084.85 L1032.62,2082.83 L1033.48,2080.82 L1034.37,2078.81 L1035.28,2076.80 L1036.20,2074.78 L1037.13,2072.77 L1038.08,2070.76 L1039.04,2068.75 L1040.00,2066.74 L1040.97,2064.72 L1041.95,2062.71 L1042.93,2060.70 L1043.91,2058.69 L1044.89,2056.68 L1045.88,2054.66 L1046.87,2052.65 L1047.86,2050.64 L1048.84,2048.63 L1049.82,2046.62 L1050.80,2044.60 L1051.76,2042.59 L1052.71,2040.58 L1053.65,2038.57 L1054.56,2036.56 L1055.46,2034.54 L1056.33,2032.53 L1057.18,2030.52 L1058.00,2028.51 L1058.79,2026.50 L1059.55,2024.48 L1060.27,2022.47 L1060.95,2020.46 L1061.59,2018.45 L1062.19,2016.44 L1062.75,2014.42 L1063.25,2012.41 L1063.70,2010.40 Z" fill="#00C6F6" stroke="#000" stroke-width="1.45" stroke-linejoin="round"/>
<line x1="1070.90" y1="2010.40" x2="1070.90" y2="2268.00" stroke="#000" stroke-width="1.15"/>
<rect x="1067.40" y="2090.70" width="7.00" height="71.00" fill="#000"/>
<ellipse cx="1070.90" cy="2125.80" rx="4.58" ry="5.49" fill="#fff"/>
<path d="M1181.50,1959.40 L1204.10,1959.40 L1204.46,1961.41 L1204.82,1963.42 L1205.18,1965.42 L1205.55,1967.43 L1205.92,1969.44 L1206.30,1971.45 L1206.68,1973.46 L1207.07,1975.46 L1207.46,1977.47 L1207.86,1979.48 L1208.26,1981.49 L1208.66,1983.50 L1209.07,1985.50 L1209.49,1987.51 L1209.91,1989.52 L1210.34,1991.53 L1210.77,1993.54 L1211.21,1995.54 L1211.65,1997.55 L1212.10,1999.56 L1212.55,2001.57 L1213.01,2003.58 L1213.48,2005.58 L1213.96,2007.59 L1214.44,2009.60 L1214.92,2011.61 L1215.41,2013.62 L1215.91,2015.62 L1216.42,2017.63 L1216.93,2019.64 L1217.45,2021.65 L1217.98,2023.66 L1218.52,2025.66 L1219.06,2027.67 L1219.61,2029.68 L1220.16,2031.69 L1220.73,2033.70 L1221.30,2035.70 L1221.88,2037.71 L1222.47,2039.72 L1223.06,2041.73 L1223.67,2043.73 L1224.28,2045.74 L1224.90,2047.75 L1225.53,2049.76 L1226.17,2051.77 L1226.81,2053.77 L1227.47,2055.78 L1228.13,2057.79 L1228.80,2059.80 L1229.46,2061.81 L1230.13,2063.81 L1230.80,2065.82 L1231.46,2067.83 L1232.12,2069.84 L1232.77,2071.85 L1233.41,2073.85 L1234.05,2075.86 L1234.66,2077.87 L1235.27,2079.88 L1235.85,2081.89 L1236.42,2083.89 L1236.97,2085.90 L1237.49,2087.91 L1237.99,2089.92 L1238.46,2091.93 L1238.90,2093.93 L1239.32,2095.94 L1239.70,2097.95 L1240.05,2099.96 L1240.36,2101.97 L1240.63,2103.97 L1240.86,2105.98 L1241.05,2107.99 L1241.19,2110.00 L1241.29,2112.01 L1241.34,2114.01 L1241.34,2116.02 L1241.29,2118.03 L1241.19,2120.04 L1241.03,2122.05 L1240.81,2124.05 L1240.53,2126.06 L1240.19,2128.07 L1239.80,2130.08 L1239.36,2132.09 L1238.86,2134.09 L1238.32,2136.10 L1237.74,2138.11 L1237.11,2140.12 L1236.45,2142.13 L1235.75,2144.13 L1235.03,2146.14 L1234.27,2148.15 L1233.49,2150.16 L1232.69,2152.17 L1231.87,2154.17 L1231.03,2156.18 L1230.19,2158.19 L1229.33,2160.20 L1228.47,2162.21 L1227.60,2164.21 L1226.73,2166.22 L1225.87,2168.23 L1225.01,2170.24 L1224.17,2172.25 L1223.33,2174.25 L1222.51,2176.26 L1221.71,2178.27 L1220.93,2180.28 L1220.17,2182.29 L1219.42,2184.29 L1218.70,2186.30 L1218.00,2188.31 L1217.31,2190.32 L1216.65,2192.33 L1216.01,2194.33 L1215.40,2196.34 L1214.81,2198.35 L1214.24,2200.36 L1213.69,2202.37 L1213.18,2204.37 L1212.68,2206.38 L1212.22,2208.39 L1211.77,2210.40 L1211.36,2212.40 L1210.97,2214.41 L1210.62,2216.42 L1210.28,2218.43 L1209.98,2220.44 L1209.69,2222.44 L1209.43,2224.45 L1209.19,2226.46 L1208.96,2228.47 L1208.76,2230.48 L1208.56,2232.48 L1208.39,2234.49 L1208.22,2236.50 L1208.06,2238.51 L1207.92,2240.52 L1207.78,2242.52 L1207.64,2244.53 L1207.52,2246.54 L1207.39,2248.55 L1207.26,2250.56 L1207.14,2252.56 L1207.01,2254.57 L1206.88,2256.58 L1206.74,2258.59 L1206.60,2260.60 L1206.46,2262.60 L1206.31,2264.61 L1206.16,2266.62 L1205.99,2268.63 L1205.82,2270.64 L1205.64,2272.64 L1205.46,2274.65 L1205.26,2276.66 L1205.05,2278.67 L1204.83,2280.68 L1204.60,2282.68 L1204.36,2284.69 L1204.10,2286.70 L1181.50,2286.70 L1181.24,2284.69 L1181.00,2282.68 L1180.77,2280.68 L1180.55,2278.67 L1180.34,2276.66 L1180.14,2274.65 L1179.96,2272.64 L1179.78,2270.64 L1179.61,2268.63 L1179.44,2266.62 L1179.29,2264.61 L1179.14,2262.60 L1179.00,2260.60 L1178.86,2258.59 L1178.72,2256.58 L1178.59,2254.57 L1178.46,2252.56 L1178.34,2250.56 L1178.21,2248.55 L1178.08,2246.54 L1177.96,2244.53 L1177.82,2242.52 L1177.68,2240.52 L1177.54,2238.51 L1177.38,2236.50 L1177.21,2234.49 L1177.04,2232.48 L1176.84,2230.48 L1176.64,2228.47 L1176.41,2226.46 L1176.17,2224.45 L1175.91,2222.44 L1175.62,2220.44 L1175.32,2218.43 L1174.98,2216.42 L1174.63,2214.41 L1174.24,2212.40 L1173.83,2210.40 L1173.38,2208.39 L1172.92,2206.38 L1172.42,2204.37 L1171.91,2202.37 L1171.36,2200.36 L1170.79,2198.35 L1170.20,2196.34 L1169.59,2194.33 L1168.95,2192.33 L1168.29,2190.32 L1167.60,2188.31 L1166.90,2186.30 L1166.18,2184.29 L1165.43,2182.29 L1164.67,2180.28 L1163.89,2178.27 L1163.09,2176.26 L1162.27,2174.25 L1161.43,2172.25 L1160.59,2170.24 L1159.73,2168.23 L1158.87,2166.22 L1158.00,2164.21 L1157.13,2162.21 L1156.27,2160.20 L1155.41,2158.19 L1154.57,2156.18 L1153.73,2154.17 L1152.91,2152.17 L1152.11,2150.16 L1151.33,2148.15 L1150.57,2146.14 L1149.85,2144.13 L1149.15,2142.13 L1148.49,2140.12 L1147.86,2138.11 L1147.28,2136.10 L1146.74,2134.09 L1146.24,2132.09 L1145.80,2130.08 L1145.41,2128.07 L1145.07,2126.06 L1144.79,2124.05 L1144.57,2122.05 L1144.41,2120.04 L1144.31,2118.03 L1144.26,2116.02 L1144.26,2114.01 L1144.31,2112.01 L1144.41,2110.00 L1144.55,2107.99 L1144.74,2105.98 L1144.97,2103.97 L1145.24,2101.97 L1145.55,2099.96 L1145.90,2097.95 L1146.28,2095.94 L1146.70,2093.93 L1147.14,2091.93 L1147.61,2089.92 L1148.11,2087.91 L1148.63,2085.90 L1149.18,2083.89 L1149.75,2081.89 L1150.33,2079.88 L1150.94,2077.87 L1151.55,2075.86 L1152.19,2073.85 L1152.83,2071.85 L1153.48,2069.84 L1154.14,2067.83 L1154.80,2065.82 L1155.47,2063.81 L1156.14,2061.81 L1156.80,2059.80 L1157.47,2057.79 L1158.13,2055.78 L1158.79,2053.77 L1159.43,2051.77 L1160.07,2049.76 L1160.70,2047.75 L1161.32,2045.74 L1161.93,2043.73 L1162.54,2041.73 L1163.13,2039.72 L1163.72,2037.71 L1164.30,2035.70 L1164.87,2033.70 L1165.44,2031.69 L1165.99,2029.68 L1166.54,2027.67 L1167.08,2025.66 L1167.62,2023.66 L1168.15,2021.65 L1168.67,2019.64 L1169.18,2017.63 L1169.69,2015.62 L1170.19,2013.62 L1170.68,2011.61 L1171.16,2009.60 L1171.64,2007.59 L1172.12,2005.58 L1172.59,2003.58 L1173.05,2001.57 L1173.50,1999.56 L1173.95,1997.55 L1174.39,1995.54 L1174.83,1993.54 L1175.26,1991.53 L1175.69,1989.52 L1176.11,1987.51 L1176.53,1985.50 L1176.94,1983.50 L1177.34,1981.49 L1177.74,1979.48 L1178.14,1977.47 L1178.53,1975.46 L1178.92,1973.46 L1179.30,1971.45 L1179.68,1969.44 L1180.05,1967.43 L1180.42,1965.42 L1180.78,1963.42 L1181.14,1961.41 L1181.50,1959.40 Z" fill="#00C6F6" stroke="#000" stroke-width="1.45" stroke-linejoin="round"/>
<line x1="1192.80" y1="1994.60" x2="1192.80" y2="2218.90" stroke="#000" stroke-width="1.15"/>
<rect x="1189.30" y="2078.30" width="7.00" height="56.40" fill="#000"/>
<ellipse cx="1192.80" cy="2121.00" rx="4.58" ry="5.49" fill="#fff"/>
<rect x="746.60" y="1829.60" width="526.60" height="486.60" fill="none" stroke="#000" stroke-width="1.30"/>
<line x1="735.40" y1="2223.20" x2="746.60" y2="2223.20" stroke="#000" stroke-width="1.30"/>
<text transform="translate(721.20,2223.20) scale(0.910,1) rotate(-90)" font-size="21.20" text-anchor="middle" font-weight="normal">2</text>
<line x1="735.40" y1="2104.50" x2="746.60" y2="2104.50" stroke="#000" stroke-width="1.30"/>
<text transform="translate(721.20,2104.50) scale(0.910,1) rotate(-90)" font-size="21.20" text-anchor="middle" font-weight="normal">4</text>
<line x1="735.40" y1="1985.80" x2="746.60" y2="1985.80" stroke="#000" stroke-width="1.30"/>
<text transform="translate(721.20,1985.80) scale(0.910,1) rotate(-90)" font-size="21.20" text-anchor="middle" font-weight="normal">6</text>
<line x1="735.40" y1="1867.10" x2="746.60" y2="1867.10" stroke="#000" stroke-width="1.30"/>
<text transform="translate(721.20,1867.10) scale(0.910,1) rotate(-90)" font-size="21.20" text-anchor="middle" font-weight="normal">8</text>
<line x1="827.05" y1="2316.20" x2="827.05" y2="2328.70" stroke="#000" stroke-width="1.30"/>
<text transform="translate(827.05,2360.60) scale(0.835,1)" font-size="21.20" text-anchor="middle" font-weight="normal">Stage I</text>
<line x1="948.95" y1="2316.20" x2="948.95" y2="2328.70" stroke="#000" stroke-width="1.30"/>
<text transform="translate(948.95,2360.60) scale(0.835,1)" font-size="21.20" text-anchor="middle" font-weight="normal">Stage II</text>
<line x1="1070.85" y1="2316.20" x2="1070.85" y2="2328.70" stroke="#000" stroke-width="1.30"/>
<text transform="translate(1070.85,2360.60) scale(0.835,1)" font-size="21.20" text-anchor="middle" font-weight="normal">Stage III</text>
<line x1="1192.75" y1="2316.20" x2="1192.75" y2="2328.70" stroke="#000" stroke-width="1.30"/>
<text transform="translate(1192.75,2360.60) scale(0.835,1)" font-size="21.20" text-anchor="middle" font-weight="normal">Stage IV</text>
<text transform="translate(1243.50,1857.20) scale(0.835,1)" font-size="23.20" text-anchor="end" font-weight="normal">F value = 3.98</text>
<text transform="translate(1243.50,1884.00) scale(0.835,1)" font-size="23.20" text-anchor="end" font-weight="normal">Pr(&gt;F) = 0.00814</text>
<text transform="translate(700.50,1820.80) scale(0.970,1)" font-size="47.00" font-weight="bold" style="stroke:none">H</text>
</g>
</svg>
</body></html>
